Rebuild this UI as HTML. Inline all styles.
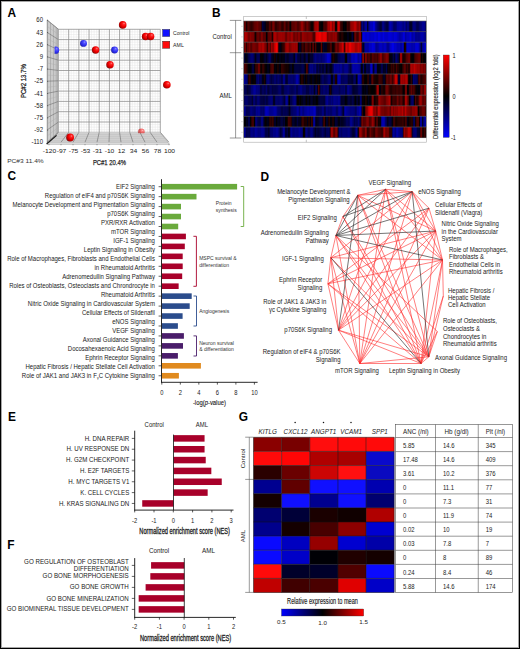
<!DOCTYPE html>
<html><head><meta charset="utf-8"><title>Figure</title>
<style>
html,body{margin:0;padding:0;background:#fff;}
body{width:520px;height:649px;overflow:hidden;position:relative;font-family:"Liberation Sans", sans-serif;}
.frame{position:absolute;left:0;top:0;width:518px;height:647px;border:1px solid #000;box-shadow:inset 0 0 0 1px rgba(0,0,0,0.35);pointer-events:none;}
</style></head><body>
<svg width="520" height="649" viewBox="0 0 520 649" style="position:absolute;left:0;top:0" font-family="'Liberation Sans', sans-serif"><defs>
<radialGradient id="gR" cx="0.62" cy="0.42" r="0.72" fx="0.68" fy="0.3"><stop offset="0" stop-color="#ff9090"/><stop offset="0.18" stop-color="#ff2a2a"/><stop offset="0.5" stop-color="#f00000"/><stop offset="0.8" stop-color="#b00000"/><stop offset="1" stop-color="#3a0000"/></radialGradient>
<radialGradient id="gB" cx="0.62" cy="0.42" r="0.72" fx="0.68" fy="0.3"><stop offset="0" stop-color="#a0a0ff"/><stop offset="0.18" stop-color="#5a5aff"/><stop offset="0.5" stop-color="#3434f4"/><stop offset="0.8" stop-color="#2020c8"/><stop offset="1" stop-color="#101068"/></radialGradient>
<radialGradient id="gP" cx="0.62" cy="0.42" r="0.72"><stop offset="0" stop-color="#ffd0d0"/><stop offset="0.4" stop-color="#f4a0a0"/><stop offset="1" stop-color="#c07070"/></radialGradient>
<filter id="hblur" x="0" y="0" width="1" height="1" color-interpolation-filters="sRGB"><feGaussianBlur stdDeviation="1 0"/></filter>
<linearGradient id="gCB" x1="0" y1="0" x2="0" y2="1"><stop offset="0" stop-color="#ff0000"/><stop offset="0.5" stop-color="#000000"/><stop offset="1" stop-color="#0000ff"/></linearGradient>
<linearGradient id="gCBh" x1="0" y1="0" x2="1" y2="0"><stop offset="0" stop-color="#0000ff"/><stop offset="0.5" stop-color="#000000"/><stop offset="1" stop-color="#ff0000"/></linearGradient>
</defs>
<text x="7.50" y="16.70" font-size="11.90" font-weight="bold" fill="#000">A</text>
<text x="211.90" y="16.50" font-size="11.90" font-weight="bold" fill="#000">B</text>
<text x="7.50" y="179.90" font-size="11.90" font-weight="bold" fill="#000">C</text>
<text x="260.40" y="180.50" font-size="11.90" font-weight="bold" fill="#000">D</text>
<text x="8.00" y="420.50" font-size="11.90" font-weight="bold" fill="#000">E</text>
<text x="7.20" y="548.50" font-size="11.90" font-weight="bold" fill="#000">F</text>
<text x="238.80" y="420.90" font-size="11.90" font-weight="bold" fill="#000">G</text>
<rect x="58.5" y="29.3" width="101.80" height="103.00" fill="#fff"/>
<line x1="61.05" y1="29.30" x2="61.05" y2="132.30" stroke="#e4e4e4" stroke-width="0.5"/>
<line x1="63.59" y1="29.30" x2="63.59" y2="132.30" stroke="#e4e4e4" stroke-width="0.5"/>
<line x1="66.14" y1="29.30" x2="66.14" y2="132.30" stroke="#e4e4e4" stroke-width="0.5"/>
<line x1="71.22" y1="29.30" x2="71.22" y2="132.30" stroke="#e4e4e4" stroke-width="0.5"/>
<line x1="73.77" y1="29.30" x2="73.77" y2="132.30" stroke="#e4e4e4" stroke-width="0.5"/>
<line x1="76.31" y1="29.30" x2="76.31" y2="132.30" stroke="#e4e4e4" stroke-width="0.5"/>
<line x1="81.41" y1="29.30" x2="81.41" y2="132.30" stroke="#e4e4e4" stroke-width="0.5"/>
<line x1="83.95" y1="29.30" x2="83.95" y2="132.30" stroke="#e4e4e4" stroke-width="0.5"/>
<line x1="86.50" y1="29.30" x2="86.50" y2="132.30" stroke="#e4e4e4" stroke-width="0.5"/>
<line x1="91.59" y1="29.30" x2="91.59" y2="132.30" stroke="#e4e4e4" stroke-width="0.5"/>
<line x1="94.13" y1="29.30" x2="94.13" y2="132.30" stroke="#e4e4e4" stroke-width="0.5"/>
<line x1="96.68" y1="29.30" x2="96.68" y2="132.30" stroke="#e4e4e4" stroke-width="0.5"/>
<line x1="101.77" y1="29.30" x2="101.77" y2="132.30" stroke="#e4e4e4" stroke-width="0.5"/>
<line x1="104.31" y1="29.30" x2="104.31" y2="132.30" stroke="#e4e4e4" stroke-width="0.5"/>
<line x1="106.86" y1="29.30" x2="106.86" y2="132.30" stroke="#e4e4e4" stroke-width="0.5"/>
<line x1="111.95" y1="29.30" x2="111.95" y2="132.30" stroke="#e4e4e4" stroke-width="0.5"/>
<line x1="114.49" y1="29.30" x2="114.49" y2="132.30" stroke="#e4e4e4" stroke-width="0.5"/>
<line x1="117.04" y1="29.30" x2="117.04" y2="132.30" stroke="#e4e4e4" stroke-width="0.5"/>
<line x1="122.12" y1="29.30" x2="122.12" y2="132.30" stroke="#e4e4e4" stroke-width="0.5"/>
<line x1="124.67" y1="29.30" x2="124.67" y2="132.30" stroke="#e4e4e4" stroke-width="0.5"/>
<line x1="127.22" y1="29.30" x2="127.22" y2="132.30" stroke="#e4e4e4" stroke-width="0.5"/>
<line x1="132.31" y1="29.30" x2="132.31" y2="132.30" stroke="#e4e4e4" stroke-width="0.5"/>
<line x1="134.85" y1="29.30" x2="134.85" y2="132.30" stroke="#e4e4e4" stroke-width="0.5"/>
<line x1="137.40" y1="29.30" x2="137.40" y2="132.30" stroke="#e4e4e4" stroke-width="0.5"/>
<line x1="142.49" y1="29.30" x2="142.49" y2="132.30" stroke="#e4e4e4" stroke-width="0.5"/>
<line x1="145.03" y1="29.30" x2="145.03" y2="132.30" stroke="#e4e4e4" stroke-width="0.5"/>
<line x1="147.58" y1="29.30" x2="147.58" y2="132.30" stroke="#e4e4e4" stroke-width="0.5"/>
<line x1="152.67" y1="29.30" x2="152.67" y2="132.30" stroke="#e4e4e4" stroke-width="0.5"/>
<line x1="155.21" y1="29.30" x2="155.21" y2="132.30" stroke="#e4e4e4" stroke-width="0.5"/>
<line x1="157.75" y1="29.30" x2="157.75" y2="132.30" stroke="#e4e4e4" stroke-width="0.5"/>
<line x1="58.50" y1="31.88" x2="160.30" y2="31.88" stroke="#e4e4e4" stroke-width="0.5"/>
<line x1="58.50" y1="34.45" x2="160.30" y2="34.45" stroke="#e4e4e4" stroke-width="0.5"/>
<line x1="58.50" y1="37.02" x2="160.30" y2="37.02" stroke="#e4e4e4" stroke-width="0.5"/>
<line x1="58.50" y1="42.17" x2="160.30" y2="42.17" stroke="#e4e4e4" stroke-width="0.5"/>
<line x1="58.50" y1="44.75" x2="160.30" y2="44.75" stroke="#e4e4e4" stroke-width="0.5"/>
<line x1="58.50" y1="47.33" x2="160.30" y2="47.33" stroke="#e4e4e4" stroke-width="0.5"/>
<line x1="58.50" y1="52.48" x2="160.30" y2="52.48" stroke="#e4e4e4" stroke-width="0.5"/>
<line x1="58.50" y1="55.05" x2="160.30" y2="55.05" stroke="#e4e4e4" stroke-width="0.5"/>
<line x1="58.50" y1="57.62" x2="160.30" y2="57.62" stroke="#e4e4e4" stroke-width="0.5"/>
<line x1="58.50" y1="62.78" x2="160.30" y2="62.78" stroke="#e4e4e4" stroke-width="0.5"/>
<line x1="58.50" y1="65.35" x2="160.30" y2="65.35" stroke="#e4e4e4" stroke-width="0.5"/>
<line x1="58.50" y1="67.92" x2="160.30" y2="67.92" stroke="#e4e4e4" stroke-width="0.5"/>
<line x1="58.50" y1="73.08" x2="160.30" y2="73.08" stroke="#e4e4e4" stroke-width="0.5"/>
<line x1="58.50" y1="75.65" x2="160.30" y2="75.65" stroke="#e4e4e4" stroke-width="0.5"/>
<line x1="58.50" y1="78.23" x2="160.30" y2="78.23" stroke="#e4e4e4" stroke-width="0.5"/>
<line x1="58.50" y1="83.38" x2="160.30" y2="83.38" stroke="#e4e4e4" stroke-width="0.5"/>
<line x1="58.50" y1="85.95" x2="160.30" y2="85.95" stroke="#e4e4e4" stroke-width="0.5"/>
<line x1="58.50" y1="88.53" x2="160.30" y2="88.53" stroke="#e4e4e4" stroke-width="0.5"/>
<line x1="58.50" y1="93.67" x2="160.30" y2="93.67" stroke="#e4e4e4" stroke-width="0.5"/>
<line x1="58.50" y1="96.25" x2="160.30" y2="96.25" stroke="#e4e4e4" stroke-width="0.5"/>
<line x1="58.50" y1="98.83" x2="160.30" y2="98.83" stroke="#e4e4e4" stroke-width="0.5"/>
<line x1="58.50" y1="103.98" x2="160.30" y2="103.98" stroke="#e4e4e4" stroke-width="0.5"/>
<line x1="58.50" y1="106.55" x2="160.30" y2="106.55" stroke="#e4e4e4" stroke-width="0.5"/>
<line x1="58.50" y1="109.12" x2="160.30" y2="109.12" stroke="#e4e4e4" stroke-width="0.5"/>
<line x1="58.50" y1="114.28" x2="160.30" y2="114.28" stroke="#e4e4e4" stroke-width="0.5"/>
<line x1="58.50" y1="116.85" x2="160.30" y2="116.85" stroke="#e4e4e4" stroke-width="0.5"/>
<line x1="58.50" y1="119.42" x2="160.30" y2="119.42" stroke="#e4e4e4" stroke-width="0.5"/>
<line x1="58.50" y1="124.58" x2="160.30" y2="124.58" stroke="#e4e4e4" stroke-width="0.5"/>
<line x1="58.50" y1="127.15" x2="160.30" y2="127.15" stroke="#e4e4e4" stroke-width="0.5"/>
<line x1="58.50" y1="129.73" x2="160.30" y2="129.73" stroke="#e4e4e4" stroke-width="0.5"/>
<line x1="58.50" y1="29.30" x2="58.50" y2="132.30" stroke="#8a8a8a" stroke-width="0.75"/>
<line x1="68.68" y1="29.30" x2="68.68" y2="132.30" stroke="#8a8a8a" stroke-width="0.75"/>
<line x1="78.86" y1="29.30" x2="78.86" y2="132.30" stroke="#8a8a8a" stroke-width="0.75"/>
<line x1="89.04" y1="29.30" x2="89.04" y2="132.30" stroke="#8a8a8a" stroke-width="0.75"/>
<line x1="99.22" y1="29.30" x2="99.22" y2="132.30" stroke="#8a8a8a" stroke-width="0.75"/>
<line x1="109.40" y1="29.30" x2="109.40" y2="132.30" stroke="#8a8a8a" stroke-width="0.75"/>
<line x1="119.58" y1="29.30" x2="119.58" y2="132.30" stroke="#8a8a8a" stroke-width="0.75"/>
<line x1="129.76" y1="29.30" x2="129.76" y2="132.30" stroke="#8a8a8a" stroke-width="0.75"/>
<line x1="139.94" y1="29.30" x2="139.94" y2="132.30" stroke="#8a8a8a" stroke-width="0.75"/>
<line x1="150.12" y1="29.30" x2="150.12" y2="132.30" stroke="#8a8a8a" stroke-width="0.75"/>
<line x1="160.30" y1="29.30" x2="160.30" y2="132.30" stroke="#8a8a8a" stroke-width="0.75"/>
<line x1="58.50" y1="29.30" x2="160.30" y2="29.30" stroke="#8a8a8a" stroke-width="0.75"/>
<line x1="58.50" y1="39.60" x2="160.30" y2="39.60" stroke="#8a8a8a" stroke-width="0.75"/>
<line x1="58.50" y1="49.90" x2="160.30" y2="49.90" stroke="#8a8a8a" stroke-width="0.75"/>
<line x1="58.50" y1="60.20" x2="160.30" y2="60.20" stroke="#8a8a8a" stroke-width="0.75"/>
<line x1="58.50" y1="70.50" x2="160.30" y2="70.50" stroke="#8a8a8a" stroke-width="0.75"/>
<line x1="58.50" y1="80.80" x2="160.30" y2="80.80" stroke="#8a8a8a" stroke-width="0.75"/>
<line x1="58.50" y1="91.10" x2="160.30" y2="91.10" stroke="#8a8a8a" stroke-width="0.75"/>
<line x1="58.50" y1="101.40" x2="160.30" y2="101.40" stroke="#8a8a8a" stroke-width="0.75"/>
<line x1="58.50" y1="111.70" x2="160.30" y2="111.70" stroke="#8a8a8a" stroke-width="0.75"/>
<line x1="58.50" y1="122.00" x2="160.30" y2="122.00" stroke="#8a8a8a" stroke-width="0.75"/>
<line x1="58.50" y1="132.30" x2="160.30" y2="132.30" stroke="#8a8a8a" stroke-width="0.75"/>
<polygon points="47.1,19.85 58.5,29.3 58.5,132.3 47.1,144.3" fill="#c6c6c6"/>
<line x1="47.56" y1="20.23" x2="47.56" y2="143.82" stroke="#9a9a9a" stroke-width="0.7"/>
<line x1="49.04" y1="21.46" x2="49.04" y2="142.26" stroke="#d8d8d8" stroke-width="0.8"/>
<line x1="50.52" y1="22.69" x2="50.52" y2="140.70" stroke="#a4a4a4" stroke-width="0.6"/>
<line x1="52.00" y1="23.91" x2="52.00" y2="139.14" stroke="#d4d4d4" stroke-width="0.8"/>
<line x1="53.48" y1="25.14" x2="53.48" y2="137.58" stroke="#a8a8a8" stroke-width="0.6"/>
<line x1="55.08" y1="26.46" x2="55.08" y2="135.90" stroke="#d0d0d0" stroke-width="0.8"/>
<line x1="56.22" y1="27.41" x2="56.22" y2="134.70" stroke="#a4a4a4" stroke-width="0.6"/>
<line x1="57.70" y1="28.64" x2="57.70" y2="133.14" stroke="#9c9c9c" stroke-width="0.7"/>
<line x1="47.10" y1="20.20" x2="58.50" y2="29.30" stroke="#707070" stroke-width="0.6"/>
<line x1="47.10" y1="26.30" x2="58.50" y2="34.45" stroke="#acacac" stroke-width="0.4"/>
<line x1="47.10" y1="32.40" x2="58.50" y2="39.60" stroke="#707070" stroke-width="0.6"/>
<line x1="47.10" y1="38.50" x2="58.50" y2="44.75" stroke="#acacac" stroke-width="0.4"/>
<line x1="47.10" y1="44.60" x2="58.50" y2="49.90" stroke="#707070" stroke-width="0.6"/>
<line x1="47.10" y1="50.70" x2="58.50" y2="55.05" stroke="#acacac" stroke-width="0.4"/>
<line x1="47.10" y1="56.80" x2="58.50" y2="60.20" stroke="#707070" stroke-width="0.6"/>
<line x1="47.10" y1="62.90" x2="58.50" y2="65.35" stroke="#acacac" stroke-width="0.4"/>
<line x1="47.10" y1="69.00" x2="58.50" y2="70.50" stroke="#707070" stroke-width="0.6"/>
<line x1="47.10" y1="75.10" x2="58.50" y2="75.65" stroke="#acacac" stroke-width="0.4"/>
<line x1="47.10" y1="81.20" x2="58.50" y2="80.80" stroke="#707070" stroke-width="0.6"/>
<line x1="47.10" y1="87.30" x2="58.50" y2="85.95" stroke="#acacac" stroke-width="0.4"/>
<line x1="47.10" y1="93.40" x2="58.50" y2="91.10" stroke="#707070" stroke-width="0.6"/>
<line x1="47.10" y1="99.50" x2="58.50" y2="96.25" stroke="#acacac" stroke-width="0.4"/>
<line x1="47.10" y1="105.60" x2="58.50" y2="101.40" stroke="#707070" stroke-width="0.6"/>
<line x1="47.10" y1="111.70" x2="58.50" y2="106.55" stroke="#acacac" stroke-width="0.4"/>
<line x1="47.10" y1="117.80" x2="58.50" y2="111.70" stroke="#707070" stroke-width="0.6"/>
<line x1="47.10" y1="123.90" x2="58.50" y2="116.85" stroke="#acacac" stroke-width="0.4"/>
<line x1="47.10" y1="130.00" x2="58.50" y2="122.00" stroke="#707070" stroke-width="0.6"/>
<line x1="47.10" y1="136.10" x2="58.50" y2="127.15" stroke="#acacac" stroke-width="0.4"/>
<line x1="47.10" y1="142.20" x2="58.50" y2="132.30" stroke="#707070" stroke-width="0.6"/>
<polyline points="47.1,144.3 47.1,19.85 58.5,29.3" fill="none" stroke="#888" stroke-width="0.5"/>
<polygon points="47.1,144.3 58.5,132.3 160.3,132.3 169.5,144.3" fill="#d4d4d4"/>
<polygon points="48.7,142.2 167.9,142.2 169.5,144.3 47.1,144.3" fill="#e2e2e2"/>
<line x1="56.62" y1="134.28" x2="161.82" y2="134.28" stroke="#b4b4b4" stroke-width="0.5"/>
<line x1="54.74" y1="136.26" x2="163.34" y2="136.26" stroke="#b4b4b4" stroke-width="0.5"/>
<line x1="52.86" y1="138.24" x2="164.85" y2="138.24" stroke="#b4b4b4" stroke-width="0.5"/>
<line x1="50.98" y1="140.22" x2="166.37" y2="140.22" stroke="#b4b4b4" stroke-width="0.5"/>
<line x1="48.00" y1="142.20" x2="168.00" y2="142.20" stroke="#9a9a9a" stroke-width="0.5"/>
<line x1="58.50" y1="132.30" x2="49.00" y2="142.20" stroke="#6a6a6a" stroke-width="0.6"/>
<line x1="68.68" y1="132.30" x2="61.00" y2="142.20" stroke="#6a6a6a" stroke-width="0.6"/>
<line x1="78.86" y1="132.30" x2="73.00" y2="142.20" stroke="#6a6a6a" stroke-width="0.6"/>
<line x1="89.04" y1="132.30" x2="85.00" y2="142.20" stroke="#6a6a6a" stroke-width="0.6"/>
<line x1="99.22" y1="132.30" x2="97.00" y2="142.20" stroke="#6a6a6a" stroke-width="0.6"/>
<line x1="109.40" y1="132.30" x2="109.00" y2="142.20" stroke="#6a6a6a" stroke-width="0.6"/>
<line x1="119.58" y1="132.30" x2="121.00" y2="142.20" stroke="#6a6a6a" stroke-width="0.6"/>
<line x1="129.76" y1="132.30" x2="133.00" y2="142.20" stroke="#6a6a6a" stroke-width="0.6"/>
<line x1="139.94" y1="132.30" x2="145.00" y2="142.20" stroke="#6a6a6a" stroke-width="0.6"/>
<line x1="150.12" y1="132.30" x2="157.00" y2="142.20" stroke="#6a6a6a" stroke-width="0.6"/>
<line x1="160.30" y1="132.30" x2="169.00" y2="142.20" stroke="#6a6a6a" stroke-width="0.6"/>
<polyline points="160.3,132.3 169.5,144.3 47.1,144.3" fill="none" stroke="#999" stroke-width="0.5"/>
<line x1="46.60" y1="144.00" x2="56.60" y2="135.40" stroke="#1a1a1a" stroke-width="1.2"/>
<line x1="49.00" y1="144.30" x2="49.00" y2="145.20" stroke="#444" stroke-width="0.6"/>
<line x1="61.00" y1="144.30" x2="61.00" y2="145.20" stroke="#444" stroke-width="0.6"/>
<line x1="73.00" y1="144.30" x2="73.00" y2="145.20" stroke="#444" stroke-width="0.6"/>
<line x1="85.00" y1="144.30" x2="85.00" y2="145.20" stroke="#444" stroke-width="0.6"/>
<line x1="97.00" y1="144.30" x2="97.00" y2="145.20" stroke="#444" stroke-width="0.6"/>
<line x1="109.00" y1="144.30" x2="109.00" y2="145.20" stroke="#444" stroke-width="0.6"/>
<line x1="121.00" y1="144.30" x2="121.00" y2="145.20" stroke="#444" stroke-width="0.6"/>
<line x1="133.00" y1="144.30" x2="133.00" y2="145.20" stroke="#444" stroke-width="0.6"/>
<line x1="145.00" y1="144.30" x2="145.00" y2="145.20" stroke="#444" stroke-width="0.6"/>
<line x1="157.00" y1="144.30" x2="157.00" y2="145.20" stroke="#444" stroke-width="0.6"/>
<line x1="169.00" y1="144.30" x2="169.00" y2="145.20" stroke="#444" stroke-width="0.6"/>
<line x1="47.10" y1="20.20" x2="48.10" y2="20.50" stroke="#444" stroke-width="0.7"/>
<line x1="47.10" y1="32.40" x2="48.10" y2="32.70" stroke="#444" stroke-width="0.7"/>
<line x1="47.10" y1="44.60" x2="48.10" y2="44.90" stroke="#444" stroke-width="0.7"/>
<line x1="47.10" y1="56.80" x2="48.10" y2="57.10" stroke="#444" stroke-width="0.7"/>
<line x1="47.10" y1="69.00" x2="48.10" y2="69.30" stroke="#444" stroke-width="0.7"/>
<line x1="47.10" y1="81.20" x2="48.10" y2="81.50" stroke="#444" stroke-width="0.7"/>
<line x1="47.10" y1="93.40" x2="48.10" y2="93.70" stroke="#444" stroke-width="0.7"/>
<line x1="47.10" y1="105.60" x2="48.10" y2="105.90" stroke="#444" stroke-width="0.7"/>
<line x1="47.10" y1="117.80" x2="48.10" y2="118.10" stroke="#444" stroke-width="0.7"/>
<line x1="47.10" y1="130.00" x2="48.10" y2="130.30" stroke="#444" stroke-width="0.7"/>
<line x1="47.10" y1="142.20" x2="48.10" y2="142.50" stroke="#444" stroke-width="0.7"/>
<text x="43.00" y="22.35" font-size="6.72" text-anchor="end" textLength="6.67" lengthAdjust="spacingAndGlyphs" fill="#1a1a1a">60</text>
<text x="43.00" y="34.55" font-size="6.72" text-anchor="end" textLength="6.67" lengthAdjust="spacingAndGlyphs" fill="#1a1a1a">43</text>
<text x="43.00" y="46.75" font-size="6.72" text-anchor="end" textLength="6.67" lengthAdjust="spacingAndGlyphs" fill="#1a1a1a">26</text>
<text x="43.00" y="58.95" font-size="6.72" text-anchor="end" textLength="3.34" lengthAdjust="spacingAndGlyphs" fill="#1a1a1a">9</text>
<text x="43.00" y="71.15" font-size="6.72" text-anchor="end" textLength="5.33" lengthAdjust="spacingAndGlyphs" fill="#1a1a1a">-7</text>
<text x="43.00" y="83.35" font-size="6.72" text-anchor="end" textLength="8.67" lengthAdjust="spacingAndGlyphs" fill="#1a1a1a">-25</text>
<text x="43.00" y="95.55" font-size="6.72" text-anchor="end" textLength="8.67" lengthAdjust="spacingAndGlyphs" fill="#1a1a1a">-41</text>
<text x="43.00" y="107.75" font-size="6.72" text-anchor="end" textLength="8.67" lengthAdjust="spacingAndGlyphs" fill="#1a1a1a">-58</text>
<text x="43.00" y="119.95" font-size="6.72" text-anchor="end" textLength="8.67" lengthAdjust="spacingAndGlyphs" fill="#1a1a1a">-75</text>
<text x="43.00" y="132.15" font-size="6.72" text-anchor="end" textLength="8.67" lengthAdjust="spacingAndGlyphs" fill="#1a1a1a">-92</text>
<text x="43.00" y="144.35" font-size="6.72" text-anchor="end" textLength="11.56" lengthAdjust="spacingAndGlyphs" fill="#1a1a1a">-110</text>
<text x="49.50" y="153.10" font-size="5.70" text-anchor="middle" textLength="13.41" lengthAdjust="spacingAndGlyphs" fill="#1a1a1a">-120</text>
<text x="61.50" y="153.10" font-size="5.70" text-anchor="middle" textLength="9.68" lengthAdjust="spacingAndGlyphs" fill="#1a1a1a">-97</text>
<text x="73.50" y="153.10" font-size="5.70" text-anchor="middle" textLength="9.68" lengthAdjust="spacingAndGlyphs" fill="#1a1a1a">-75</text>
<text x="85.50" y="153.10" font-size="5.70" text-anchor="middle" textLength="9.68" lengthAdjust="spacingAndGlyphs" fill="#1a1a1a">-53</text>
<text x="97.50" y="153.10" font-size="5.70" text-anchor="middle" textLength="9.68" lengthAdjust="spacingAndGlyphs" fill="#1a1a1a">-31</text>
<text x="109.50" y="153.10" font-size="5.70" text-anchor="middle" textLength="9.68" lengthAdjust="spacingAndGlyphs" fill="#1a1a1a">-10</text>
<text x="121.50" y="153.10" font-size="5.70" text-anchor="middle" textLength="7.45" lengthAdjust="spacingAndGlyphs" fill="#1a1a1a">12</text>
<text x="133.50" y="153.10" font-size="5.70" text-anchor="middle" textLength="7.45" lengthAdjust="spacingAndGlyphs" fill="#1a1a1a">34</text>
<text x="145.50" y="153.10" font-size="5.70" text-anchor="middle" textLength="7.45" lengthAdjust="spacingAndGlyphs" fill="#1a1a1a">56</text>
<text x="157.50" y="153.10" font-size="5.70" text-anchor="middle" textLength="7.45" lengthAdjust="spacingAndGlyphs" fill="#1a1a1a">78</text>
<text x="169.50" y="153.10" font-size="5.70" text-anchor="middle" textLength="11.18" lengthAdjust="spacingAndGlyphs" fill="#1a1a1a">100</text>
<text x="92.90" y="164.90" font-size="8.00" textLength="33.00" lengthAdjust="spacingAndGlyphs" fill="#1a1a1a" stroke="#1a1a1a" stroke-width="0.25">PC#1 20.4%</text>
<text x="7.20" y="163.30" font-size="6.00" textLength="36.50" lengthAdjust="spacingAndGlyphs" fill="#333">PC#3 11.4%</text>
<text x="0" y="0" font-size="8" fill="#1a1a1a" stroke="#1a1a1a" stroke-width="0.25" transform="translate(25.9,98.1) rotate(-90) scale(0.7570,1)">PC#2 13.7%</text>
<rect x="162.6" y="29.4" width="7.2" height="7.1" fill="#1010ff" stroke="#222" stroke-width="0.4"/>
<rect x="162.6" y="41.2" width="7.2" height="7.1" fill="#ff0a0a" stroke="#222" stroke-width="0.4"/>
<text x="173.10" y="34.80" font-size="5.82" textLength="16.40" lengthAdjust="spacingAndGlyphs" fill="#222">Control</text>
<text x="173.10" y="46.90" font-size="5.82" textLength="10.69" lengthAdjust="spacingAndGlyphs" fill="#222">AML</text>
<circle cx="83.5" cy="43.4" r="3.45" fill="url(#gB)" opacity="1.0"/>
<circle cx="114.55" cy="50.05" r="3.45" fill="url(#gB)" opacity="1.0"/>
<circle cx="95.6" cy="50.0" r="3.7" fill="url(#gR)" opacity="1.0"/>
<circle cx="110.0" cy="64.65" r="3.75" fill="url(#gR)" opacity="1.0"/>
<circle cx="122.7" cy="24.9" r="3.8" fill="url(#gR)" opacity="1.0"/>
<circle cx="145.6" cy="36.5" r="3.75" fill="url(#gR)" opacity="1.0"/>
<circle cx="150.6" cy="36.4" r="3.75" fill="url(#gR)" opacity="1.0"/>
<circle cx="166.85" cy="84.75" r="3.8" fill="url(#gR)" opacity="1.0"/>
<circle cx="70.1" cy="137.5" r="3.9" fill="url(#gR)" opacity="1.0"/>
<clipPath id="cpf"><rect x="130" y="120" width="20" height="13.2"/></clipPath>
<circle cx="141.3" cy="131.8" r="3.4" fill="url(#gR)" opacity="0.55" clip-path="url(#cpf)"/>
<clipPath id="cpw"><rect x="54.6" y="40" width="10" height="20"/></clipPath>
<circle cx="55.5" cy="50.15" r="3.65" fill="url(#gB)" clip-path="url(#cpw)"/>
<rect x="243.70" y="16.5" width="182.60" height="125.7" fill="#fff" stroke="#aaa" stroke-width="0.6"/>
<line x1="306.30" y1="16.50" x2="306.30" y2="19.00" stroke="#888" stroke-width="0.5"/>
<line x1="306.30" y1="139.70" x2="306.30" y2="142.20" stroke="#888" stroke-width="0.5"/>
<rect x="243.70" y="21.00" width="182.60" height="116.60" fill="#000"/>
<g shape-rendering="crispEdges">
<rect x="243.7" y="21.00" width="0.3" height="10.60" fill="#010000"/>
<rect x="244.0" y="21.00" width="2.0" height="10.60" fill="#5c0000"/>
<rect x="246.0" y="21.00" width="1.0" height="10.60" fill="#170000"/>
<rect x="247.0" y="21.00" width="1.0" height="10.60" fill="#3d0000"/>
<rect x="248.0" y="21.00" width="1.0" height="10.60" fill="#4f0000"/>
<rect x="249.0" y="21.00" width="1.0" height="10.60" fill="#3f0000"/>
<rect x="250.0" y="21.00" width="1.0" height="10.60" fill="#350000"/>
<rect x="251.0" y="21.00" width="1.0" height="10.60" fill="#2e0000"/>
<rect x="252.0" y="21.00" width="1.0" height="10.60" fill="#380000"/>
<rect x="253.0" y="21.00" width="1.0" height="10.60" fill="#490000"/>
<rect x="254.0" y="21.00" width="1.0" height="10.60" fill="#5d0000"/>
<rect x="255.0" y="21.00" width="1.0" height="10.60" fill="#630000"/>
<rect x="256.0" y="21.00" width="1.0" height="10.60" fill="#690000"/>
<rect x="257.0" y="21.00" width="1.0" height="10.60" fill="#720000"/>
<rect x="258.0" y="21.00" width="1.0" height="10.60" fill="#610000"/>
<rect x="259.0" y="21.00" width="1.0" height="10.60" fill="#580000"/>
<rect x="260.0" y="21.00" width="1.0" height="10.60" fill="#530000"/>
<rect x="261.0" y="21.00" width="1.0" height="10.60" fill="#280000"/>
<rect x="262.0" y="21.00" width="1.0" height="10.60" fill="#000041"/>
<rect x="263.0" y="21.00" width="1.0" height="10.60" fill="#000031"/>
<rect x="264.0" y="21.00" width="1.0" height="10.60" fill="#000026"/>
<rect x="265.0" y="21.00" width="1.0" height="10.60" fill="#000015"/>
<rect x="266.0" y="21.00" width="1.0" height="10.60" fill="#1f0000"/>
<rect x="267.0" y="21.00" width="1.0" height="10.60" fill="#1d0000"/>
<rect x="268.0" y="21.00" width="1.0" height="10.60" fill="#240000"/>
<rect x="269.0" y="21.00" width="1.0" height="10.60" fill="#500000"/>
<rect x="270.0" y="21.00" width="1.0" height="10.60" fill="#4c0000"/>
<rect x="271.0" y="21.00" width="1.0" height="10.60" fill="#2f0000"/>
<rect x="272.0" y="21.00" width="1.0" height="10.60" fill="#640000"/>
<rect x="273.0" y="21.00" width="1.0" height="10.60" fill="#770000"/>
<rect x="274.0" y="21.00" width="1.0" height="10.60" fill="#5b0000"/>
<rect x="275.0" y="21.00" width="2.0" height="10.60" fill="#2f0000"/>
<rect x="277.0" y="21.00" width="1.0" height="10.60" fill="#400000"/>
<rect x="278.0" y="21.00" width="1.0" height="10.60" fill="#450000"/>
<rect x="279.0" y="21.00" width="1.0" height="10.60" fill="#550000"/>
<rect x="280.0" y="21.00" width="1.0" height="10.60" fill="#520000"/>
<rect x="281.0" y="21.00" width="1.0" height="10.60" fill="#360000"/>
<rect x="282.0" y="21.00" width="1.0" height="10.60" fill="#2c0000"/>
<rect x="283.0" y="21.00" width="1.0" height="10.60" fill="#3a0000"/>
<rect x="284.0" y="21.00" width="1.0" height="10.60" fill="#600000"/>
<rect x="285.0" y="21.00" width="1.0" height="10.60" fill="#4b0000"/>
<rect x="286.0" y="21.00" width="1.0" height="10.60" fill="#2c0000"/>
<rect x="287.0" y="21.00" width="1.0" height="10.60" fill="#370000"/>
<rect x="288.0" y="21.00" width="1.0" height="10.60" fill="#4c0000"/>
<rect x="289.0" y="21.00" width="1.0" height="10.60" fill="#250000"/>
<rect x="290.0" y="21.00" width="1.0" height="10.60" fill="#050000"/>
<rect x="291.0" y="21.00" width="1.0" height="10.60" fill="#440000"/>
<rect x="292.0" y="21.00" width="2.0" height="10.60" fill="#5a0000"/>
<rect x="294.0" y="21.00" width="1.0" height="10.60" fill="#5e0000"/>
<rect x="295.0" y="21.00" width="1.0" height="10.60" fill="#680000"/>
<rect x="296.0" y="21.00" width="1.0" height="10.60" fill="#630000"/>
<rect x="297.0" y="21.00" width="1.0" height="10.60" fill="#4b0000"/>
<rect x="298.0" y="21.00" width="1.0" height="10.60" fill="#490000"/>
<rect x="299.0" y="21.00" width="1.0" height="10.60" fill="#5a0000"/>
<rect x="300.0" y="21.00" width="1.0" height="10.60" fill="#6d0000"/>
<rect x="301.0" y="21.00" width="1.0" height="10.60" fill="#940000"/>
<rect x="302.0" y="21.00" width="1.0" height="10.60" fill="#960000"/>
<rect x="303.0" y="21.00" width="1.0" height="10.60" fill="#750000"/>
<rect x="304.0" y="21.00" width="1.0" height="10.60" fill="#5d0000"/>
<rect x="305.0" y="21.00" width="1.0" height="10.60" fill="#430000"/>
<rect x="306.0" y="21.00" width="1.0" height="10.60" fill="#5d0000"/>
<rect x="307.0" y="21.00" width="1.0" height="10.60" fill="#6b0000"/>
<rect x="308.0" y="21.00" width="1.0" height="10.60" fill="#520000"/>
<rect x="309.0" y="21.00" width="1.0" height="10.60" fill="#3f0000"/>
<rect x="310.0" y="21.00" width="1.0" height="10.60" fill="#210000"/>
<rect x="311.0" y="21.00" width="1.0" height="10.60" fill="#0b0000"/>
<rect x="312.0" y="21.00" width="1.0" height="10.60" fill="#0c0000"/>
<rect x="313.0" y="21.00" width="1.0" height="10.60" fill="#350000"/>
<rect x="314.0" y="21.00" width="1.0" height="10.60" fill="#820000"/>
<rect x="315.0" y="21.00" width="1.0" height="10.60" fill="#9d0000"/>
<rect x="316.0" y="21.00" width="1.0" height="10.60" fill="#a00000"/>
<rect x="317.0" y="21.00" width="1.0" height="10.60" fill="#b00000"/>
<rect x="318.0" y="21.00" width="1.0" height="10.60" fill="#8a0000"/>
<rect x="319.0" y="21.00" width="1.0" height="10.60" fill="#160000"/>
<rect x="320.0" y="21.00" width="1.0" height="10.60" fill="#0a0000"/>
<rect x="321.0" y="21.00" width="1.0" height="10.60" fill="#000004"/>
<rect x="322.0" y="21.00" width="1.0" height="10.60" fill="#030000"/>
<rect x="323.0" y="21.00" width="1.0" height="10.60" fill="#380000"/>
<rect x="324.0" y="21.00" width="1.0" height="10.60" fill="#490000"/>
<rect x="325.0" y="21.00" width="1.0" height="10.60" fill="#450000"/>
<rect x="326.0" y="21.00" width="1.0" height="10.60" fill="#520000"/>
<rect x="327.0" y="21.00" width="1.0" height="10.60" fill="#850000"/>
<rect x="328.0" y="21.00" width="1.0" height="10.60" fill="#a50000"/>
<rect x="329.0" y="21.00" width="1.0" height="10.60" fill="#a20000"/>
<rect x="330.0" y="21.00" width="1.0" height="10.60" fill="#c70000"/>
<rect x="331.0" y="21.00" width="1.0" height="10.60" fill="#bd0000"/>
<rect x="332.0" y="21.00" width="1.0" height="10.60" fill="#850000"/>
<rect x="333.0" y="21.00" width="1.0" height="10.60" fill="#a60000"/>
<rect x="334.0" y="21.00" width="1.0" height="10.60" fill="#8f0000"/>
<rect x="335.0" y="21.00" width="2.0" height="10.60" fill="#100000"/>
<rect x="337.0" y="21.00" width="1.0" height="10.60" fill="#930000"/>
<rect x="338.0" y="21.00" width="1.0" height="10.60" fill="#cf0000"/>
<rect x="339.0" y="21.00" width="1.0" height="10.60" fill="#b00000"/>
<rect x="340.0" y="21.00" width="1.0" height="10.60" fill="#450000"/>
<rect x="341.0" y="21.00" width="1.0" height="10.60" fill="#2f0000"/>
<rect x="342.0" y="21.00" width="1.0" height="10.60" fill="#240000"/>
<rect x="343.0" y="21.00" width="1.0" height="10.60" fill="#000001"/>
<rect x="344.0" y="21.00" width="1.0" height="10.60" fill="#000009"/>
<rect x="345.0" y="21.00" width="1.0" height="10.60" fill="#000000"/>
<rect x="346.0" y="21.00" width="1.0" height="10.60" fill="#150000"/>
<rect x="347.0" y="21.00" width="1.0" height="10.60" fill="#3d0000"/>
<rect x="348.0" y="21.00" width="1.0" height="10.60" fill="#300000"/>
<rect x="349.0" y="21.00" width="1.0" height="10.60" fill="#3b0000"/>
<rect x="350.0" y="21.00" width="1.0" height="10.60" fill="#7c0000"/>
<rect x="351.0" y="21.00" width="1.0" height="10.60" fill="#940000"/>
<rect x="352.0" y="21.00" width="1.0" height="10.60" fill="#9a0000"/>
<rect x="353.0" y="21.00" width="1.0" height="10.60" fill="#a30000"/>
<rect x="354.0" y="21.00" width="1.0" height="10.60" fill="#bb0000"/>
<rect x="355.0" y="21.00" width="1.0" height="10.60" fill="#bc0000"/>
<rect x="356.0" y="21.00" width="1.0" height="10.60" fill="#9f0000"/>
<rect x="357.0" y="21.00" width="1.0" height="10.60" fill="#810000"/>
<rect x="358.0" y="21.00" width="1.0" height="10.60" fill="#820000"/>
<rect x="359.0" y="21.00" width="1.0" height="10.60" fill="#9b0000"/>
<rect x="360.0" y="21.00" width="1.0" height="10.60" fill="#650000"/>
<rect x="361.0" y="21.00" width="1.0" height="10.60" fill="#000054"/>
<rect x="362.0" y="21.00" width="1.0" height="10.60" fill="#00007f"/>
<rect x="363.0" y="21.00" width="1.0" height="10.60" fill="#000056"/>
<rect x="364.0" y="21.00" width="1.0" height="10.60" fill="#000074"/>
<rect x="365.0" y="21.00" width="1.0" height="10.60" fill="#000097"/>
<rect x="366.0" y="21.00" width="1.0" height="10.60" fill="#000098"/>
<rect x="367.0" y="21.00" width="1.0" height="10.60" fill="#000026"/>
<rect x="368.0" y="21.00" width="1.0" height="10.60" fill="#000068"/>
<rect x="369.0" y="21.00" width="1.0" height="10.60" fill="#00009b"/>
<rect x="370.0" y="21.00" width="1.0" height="10.60" fill="#0000b6"/>
<rect x="371.0" y="21.00" width="2.0" height="10.60" fill="#0000bb"/>
<rect x="373.0" y="21.00" width="1.0" height="10.60" fill="#0000db"/>
<rect x="374.0" y="21.00" width="1.0" height="10.60" fill="#0000d3"/>
<rect x="375.0" y="21.00" width="1.0" height="10.60" fill="#00009a"/>
<rect x="376.0" y="21.00" width="1.0" height="10.60" fill="#00007f"/>
<rect x="377.0" y="21.00" width="1.0" height="10.60" fill="#000067"/>
<rect x="378.0" y="21.00" width="1.0" height="10.60" fill="#000057"/>
<rect x="379.0" y="21.00" width="1.0" height="10.60" fill="#000043"/>
<rect x="380.0" y="21.00" width="1.0" height="10.60" fill="#000033"/>
<rect x="381.0" y="21.00" width="1.0" height="10.60" fill="#000042"/>
<rect x="382.0" y="21.00" width="1.0" height="10.60" fill="#00007b"/>
<rect x="383.0" y="21.00" width="1.0" height="10.60" fill="#000085"/>
<rect x="384.0" y="21.00" width="1.0" height="10.60" fill="#000067"/>
<rect x="385.0" y="21.00" width="1.0" height="10.60" fill="#000053"/>
<rect x="386.0" y="21.00" width="1.0" height="10.60" fill="#00003e"/>
<rect x="387.0" y="21.00" width="1.0" height="10.60" fill="#00003c"/>
<rect x="388.0" y="21.00" width="1.0" height="10.60" fill="#000061"/>
<rect x="389.0" y="21.00" width="1.0" height="10.60" fill="#0000a2"/>
<rect x="390.0" y="21.00" width="1.0" height="10.60" fill="#0000b0"/>
<rect x="391.0" y="21.00" width="1.0" height="10.60" fill="#00009f"/>
<rect x="392.0" y="21.00" width="1.0" height="10.60" fill="#00008d"/>
<rect x="393.0" y="21.00" width="1.0" height="10.60" fill="#00006a"/>
<rect x="394.0" y="21.00" width="1.0" height="10.60" fill="#000060"/>
<rect x="395.0" y="21.00" width="1.0" height="10.60" fill="#000066"/>
<rect x="396.0" y="21.00" width="1.0" height="10.60" fill="#000075"/>
<rect x="397.0" y="21.00" width="1.0" height="10.60" fill="#000098"/>
<rect x="398.0" y="21.00" width="1.0" height="10.60" fill="#000099"/>
<rect x="399.0" y="21.00" width="1.0" height="10.60" fill="#0000a0"/>
<rect x="400.0" y="21.00" width="1.0" height="10.60" fill="#00009b"/>
<rect x="401.0" y="21.00" width="1.0" height="10.60" fill="#000095"/>
<rect x="402.0" y="21.00" width="1.0" height="10.60" fill="#000088"/>
<rect x="403.0" y="21.00" width="1.0" height="10.60" fill="#00007f"/>
<rect x="404.0" y="21.00" width="1.0" height="10.60" fill="#000097"/>
<rect x="405.0" y="21.00" width="1.0" height="10.60" fill="#000082"/>
<rect x="406.0" y="21.00" width="1.0" height="10.60" fill="#000062"/>
<rect x="407.0" y="21.00" width="1.0" height="10.60" fill="#000080"/>
<rect x="408.0" y="21.00" width="1.0" height="10.60" fill="#00007a"/>
<rect x="409.0" y="21.00" width="1.0" height="10.60" fill="#00003c"/>
<rect x="410.0" y="21.00" width="1.0" height="10.60" fill="#000023"/>
<rect x="411.0" y="21.00" width="1.0" height="10.60" fill="#000026"/>
<rect x="412.0" y="21.00" width="1.0" height="10.60" fill="#000059"/>
<rect x="413.0" y="21.00" width="1.0" height="10.60" fill="#00007d"/>
<rect x="414.0" y="21.00" width="1.0" height="10.60" fill="#00007e"/>
<rect x="415.0" y="21.00" width="1.0" height="10.60" fill="#000072"/>
<rect x="416.0" y="21.00" width="1.0" height="10.60" fill="#000052"/>
<rect x="417.0" y="21.00" width="1.0" height="10.60" fill="#00004b"/>
<rect x="418.0" y="21.00" width="1.0" height="10.60" fill="#000050"/>
<rect x="419.0" y="21.00" width="1.0" height="10.60" fill="#000069"/>
<rect x="420.0" y="21.00" width="1.0" height="10.60" fill="#000073"/>
<rect x="421.0" y="21.00" width="1.0" height="10.60" fill="#00007b"/>
<rect x="422.0" y="21.00" width="1.0" height="10.60" fill="#000090"/>
<rect x="423.0" y="21.00" width="1.0" height="10.60" fill="#000094"/>
<rect x="424.0" y="21.00" width="1.0" height="10.60" fill="#00008e"/>
<rect x="425.0" y="21.00" width="1.0" height="10.60" fill="#000064"/>
<rect x="426.0" y="21.00" width="0.3" height="10.60" fill="#140000"/>
<rect x="243.7" y="31.60" width="0.3" height="10.60" fill="#7b0000"/>
<rect x="244.0" y="31.60" width="1.0" height="10.60" fill="#8e0000"/>
<rect x="245.0" y="31.60" width="1.0" height="10.60" fill="#b00000"/>
<rect x="246.0" y="31.60" width="1.0" height="10.60" fill="#a40000"/>
<rect x="247.0" y="31.60" width="1.0" height="10.60" fill="#900000"/>
<rect x="248.0" y="31.60" width="1.0" height="10.60" fill="#740000"/>
<rect x="249.0" y="31.60" width="1.0" height="10.60" fill="#750000"/>
<rect x="250.0" y="31.60" width="1.0" height="10.60" fill="#890000"/>
<rect x="251.0" y="31.60" width="1.0" height="10.60" fill="#7d0000"/>
<rect x="252.0" y="31.60" width="1.0" height="10.60" fill="#7a0000"/>
<rect x="253.0" y="31.60" width="1.0" height="10.60" fill="#750000"/>
<rect x="254.0" y="31.60" width="1.0" height="10.60" fill="#460000"/>
<rect x="255.0" y="31.60" width="1.0" height="10.60" fill="#110000"/>
<rect x="256.0" y="31.60" width="1.0" height="10.60" fill="#460000"/>
<rect x="257.0" y="31.60" width="1.0" height="10.60" fill="#630000"/>
<rect x="258.0" y="31.60" width="1.0" height="10.60" fill="#670000"/>
<rect x="259.0" y="31.60" width="1.0" height="10.60" fill="#540000"/>
<rect x="260.0" y="31.60" width="1.0" height="10.60" fill="#5a0000"/>
<rect x="261.0" y="31.60" width="1.0" height="10.60" fill="#7d0000"/>
<rect x="262.0" y="31.60" width="1.0" height="10.60" fill="#750000"/>
<rect x="263.0" y="31.60" width="1.0" height="10.60" fill="#570000"/>
<rect x="264.0" y="31.60" width="1.0" height="10.60" fill="#590000"/>
<rect x="265.0" y="31.60" width="1.0" height="10.60" fill="#500000"/>
<rect x="266.0" y="31.60" width="1.0" height="10.60" fill="#000004"/>
<rect x="267.0" y="31.60" width="1.0" height="10.60" fill="#2a0000"/>
<rect x="268.0" y="31.60" width="1.0" height="10.60" fill="#5a0000"/>
<rect x="269.0" y="31.60" width="1.0" height="10.60" fill="#5e0000"/>
<rect x="270.0" y="31.60" width="1.0" height="10.60" fill="#690000"/>
<rect x="271.0" y="31.60" width="1.0" height="10.60" fill="#4e0000"/>
<rect x="272.0" y="31.60" width="1.0" height="10.60" fill="#1b0000"/>
<rect x="273.0" y="31.60" width="1.0" height="10.60" fill="#7f0000"/>
<rect x="274.0" y="31.60" width="1.0" height="10.60" fill="#ac0000"/>
<rect x="275.0" y="31.60" width="1.0" height="10.60" fill="#a90000"/>
<rect x="276.0" y="31.60" width="1.0" height="10.60" fill="#940000"/>
<rect x="277.0" y="31.60" width="1.0" height="10.60" fill="#850000"/>
<rect x="278.0" y="31.60" width="1.0" height="10.60" fill="#960000"/>
<rect x="279.0" y="31.60" width="1.0" height="10.60" fill="#9c0000"/>
<rect x="280.0" y="31.60" width="1.0" height="10.60" fill="#9b0000"/>
<rect x="281.0" y="31.60" width="1.0" height="10.60" fill="#9e0000"/>
<rect x="282.0" y="31.60" width="1.0" height="10.60" fill="#970000"/>
<rect x="283.0" y="31.60" width="1.0" height="10.60" fill="#990000"/>
<rect x="284.0" y="31.60" width="1.0" height="10.60" fill="#910000"/>
<rect x="285.0" y="31.60" width="1.0" height="10.60" fill="#6e0000"/>
<rect x="286.0" y="31.60" width="1.0" height="10.60" fill="#670000"/>
<rect x="287.0" y="31.60" width="1.0" height="10.60" fill="#8a0000"/>
<rect x="288.0" y="31.60" width="1.0" height="10.60" fill="#930000"/>
<rect x="289.0" y="31.60" width="1.0" height="10.60" fill="#860000"/>
<rect x="290.0" y="31.60" width="1.0" height="10.60" fill="#8a0000"/>
<rect x="291.0" y="31.60" width="1.0" height="10.60" fill="#a10000"/>
<rect x="292.0" y="31.60" width="1.0" height="10.60" fill="#9c0000"/>
<rect x="293.0" y="31.60" width="1.0" height="10.60" fill="#740000"/>
<rect x="294.0" y="31.60" width="1.0" height="10.60" fill="#6c0000"/>
<rect x="295.0" y="31.60" width="1.0" height="10.60" fill="#7f0000"/>
<rect x="296.0" y="31.60" width="1.0" height="10.60" fill="#7c0000"/>
<rect x="297.0" y="31.60" width="1.0" height="10.60" fill="#6d0000"/>
<rect x="298.0" y="31.60" width="1.0" height="10.60" fill="#880000"/>
<rect x="299.0" y="31.60" width="1.0" height="10.60" fill="#870000"/>
<rect x="300.0" y="31.60" width="1.0" height="10.60" fill="#5f0000"/>
<rect x="301.0" y="31.60" width="1.0" height="10.60" fill="#650000"/>
<rect x="302.0" y="31.60" width="1.0" height="10.60" fill="#980000"/>
<rect x="303.0" y="31.60" width="1.0" height="10.60" fill="#960000"/>
<rect x="304.0" y="31.60" width="1.0" height="10.60" fill="#8c0000"/>
<rect x="305.0" y="31.60" width="1.0" height="10.60" fill="#890000"/>
<rect x="306.0" y="31.60" width="1.0" height="10.60" fill="#840000"/>
<rect x="307.0" y="31.60" width="1.0" height="10.60" fill="#7e0000"/>
<rect x="308.0" y="31.60" width="1.0" height="10.60" fill="#840000"/>
<rect x="309.0" y="31.60" width="1.0" height="10.60" fill="#880000"/>
<rect x="310.0" y="31.60" width="1.0" height="10.60" fill="#8a0000"/>
<rect x="311.0" y="31.60" width="1.0" height="10.60" fill="#840000"/>
<rect x="312.0" y="31.60" width="1.0" height="10.60" fill="#680000"/>
<rect x="313.0" y="31.60" width="1.0" height="10.60" fill="#4a0000"/>
<rect x="314.0" y="31.60" width="1.0" height="10.60" fill="#4b0000"/>
<rect x="315.0" y="31.60" width="1.0" height="10.60" fill="#980000"/>
<rect x="316.0" y="31.60" width="1.0" height="10.60" fill="#dc0000"/>
<rect x="317.0" y="31.60" width="1.0" height="10.60" fill="#e50000"/>
<rect x="318.0" y="31.60" width="1.0" height="10.60" fill="#e60000"/>
<rect x="319.0" y="31.60" width="1.0" height="10.60" fill="#f10000"/>
<rect x="320.0" y="31.60" width="1.0" height="10.60" fill="#ee0000"/>
<rect x="321.0" y="31.60" width="1.0" height="10.60" fill="#d70000"/>
<rect x="322.0" y="31.60" width="1.0" height="10.60" fill="#d40000"/>
<rect x="323.0" y="31.60" width="1.0" height="10.60" fill="#e10000"/>
<rect x="324.0" y="31.60" width="1.0" height="10.60" fill="#e40000"/>
<rect x="325.0" y="31.60" width="1.0" height="10.60" fill="#e20000"/>
<rect x="326.0" y="31.60" width="1.0" height="10.60" fill="#c30000"/>
<rect x="327.0" y="31.60" width="1.0" height="10.60" fill="#730000"/>
<rect x="328.0" y="31.60" width="1.0" height="10.60" fill="#7e0000"/>
<rect x="329.0" y="31.60" width="1.0" height="10.60" fill="#8a0000"/>
<rect x="330.0" y="31.60" width="1.0" height="10.60" fill="#840000"/>
<rect x="331.0" y="31.60" width="1.0" height="10.60" fill="#7e0000"/>
<rect x="332.0" y="31.60" width="1.0" height="10.60" fill="#840000"/>
<rect x="333.0" y="31.60" width="1.0" height="10.60" fill="#920000"/>
<rect x="334.0" y="31.60" width="1.0" height="10.60" fill="#8a0000"/>
<rect x="335.0" y="31.60" width="1.0" height="10.60" fill="#950000"/>
<rect x="336.0" y="31.60" width="1.0" height="10.60" fill="#890000"/>
<rect x="337.0" y="31.60" width="1.0" height="10.60" fill="#4d0000"/>
<rect x="338.0" y="31.60" width="1.0" height="10.60" fill="#320000"/>
<rect x="339.0" y="31.60" width="1.0" height="10.60" fill="#190000"/>
<rect x="340.0" y="31.60" width="1.0" height="10.60" fill="#0f0000"/>
<rect x="341.0" y="31.60" width="1.0" height="10.60" fill="#210000"/>
<rect x="342.0" y="31.60" width="1.0" height="10.60" fill="#240000"/>
<rect x="343.0" y="31.60" width="1.0" height="10.60" fill="#100000"/>
<rect x="344.0" y="31.60" width="1.0" height="10.60" fill="#000003"/>
<rect x="345.0" y="31.60" width="1.0" height="10.60" fill="#020000"/>
<rect x="346.0" y="31.60" width="1.0" height="10.60" fill="#000003"/>
<rect x="347.0" y="31.60" width="1.0" height="10.60" fill="#000017"/>
<rect x="348.0" y="31.60" width="1.0" height="10.60" fill="#000016"/>
<rect x="349.0" y="31.60" width="1.0" height="10.60" fill="#000001"/>
<rect x="350.0" y="31.60" width="1.0" height="10.60" fill="#000000"/>
<rect x="351.0" y="31.60" width="1.0" height="10.60" fill="#00001b"/>
<rect x="352.0" y="31.60" width="1.0" height="10.60" fill="#00003b"/>
<rect x="353.0" y="31.60" width="1.0" height="10.60" fill="#000010"/>
<rect x="354.0" y="31.60" width="1.0" height="10.60" fill="#4e0000"/>
<rect x="355.0" y="31.60" width="1.0" height="10.60" fill="#690000"/>
<rect x="356.0" y="31.60" width="1.0" height="10.60" fill="#460000"/>
<rect x="357.0" y="31.60" width="1.0" height="10.60" fill="#3a0000"/>
<rect x="358.0" y="31.60" width="1.0" height="10.60" fill="#4e0000"/>
<rect x="359.0" y="31.60" width="1.0" height="10.60" fill="#860000"/>
<rect x="360.0" y="31.60" width="1.0" height="10.60" fill="#8b0000"/>
<rect x="361.0" y="31.60" width="1.0" height="10.60" fill="#240000"/>
<rect x="362.0" y="31.60" width="1.0" height="10.60" fill="#0000b5"/>
<rect x="363.0" y="31.60" width="1.0" height="10.60" fill="#0000e0"/>
<rect x="364.0" y="31.60" width="1.0" height="10.60" fill="#0000d6"/>
<rect x="365.0" y="31.60" width="1.0" height="10.60" fill="#0000cb"/>
<rect x="366.0" y="31.60" width="1.0" height="10.60" fill="#0000ca"/>
<rect x="367.0" y="31.60" width="1.0" height="10.60" fill="#0000d3"/>
<rect x="368.0" y="31.60" width="1.0" height="10.60" fill="#0000d2"/>
<rect x="369.0" y="31.60" width="1.0" height="10.60" fill="#0000c4"/>
<rect x="370.0" y="31.60" width="1.0" height="10.60" fill="#0000c3"/>
<rect x="371.0" y="31.60" width="2.0" height="10.60" fill="#0000ca"/>
<rect x="373.0" y="31.60" width="1.0" height="10.60" fill="#0000c7"/>
<rect x="374.0" y="31.60" width="1.0" height="10.60" fill="#0000d5"/>
<rect x="375.0" y="31.60" width="1.0" height="10.60" fill="#0000da"/>
<rect x="376.0" y="31.60" width="1.0" height="10.60" fill="#0000cf"/>
<rect x="377.0" y="31.60" width="1.0" height="10.60" fill="#0000ca"/>
<rect x="378.0" y="31.60" width="1.0" height="10.60" fill="#0000e4"/>
<rect x="379.0" y="31.60" width="1.0" height="10.60" fill="#0000e3"/>
<rect x="380.0" y="31.60" width="1.0" height="10.60" fill="#0000cf"/>
<rect x="381.0" y="31.60" width="1.0" height="10.60" fill="#0000c6"/>
<rect x="382.0" y="31.60" width="1.0" height="10.60" fill="#0000ce"/>
<rect x="383.0" y="31.60" width="1.0" height="10.60" fill="#0000df"/>
<rect x="384.0" y="31.60" width="1.0" height="10.60" fill="#0000cd"/>
<rect x="385.0" y="31.60" width="1.0" height="10.60" fill="#0000c7"/>
<rect x="386.0" y="31.60" width="1.0" height="10.60" fill="#0000c6"/>
<rect x="387.0" y="31.60" width="1.0" height="10.60" fill="#0000c7"/>
<rect x="388.0" y="31.60" width="1.0" height="10.60" fill="#0000d4"/>
<rect x="389.0" y="31.60" width="1.0" height="10.60" fill="#0000d8"/>
<rect x="390.0" y="31.60" width="1.0" height="10.60" fill="#0000d6"/>
<rect x="391.0" y="31.60" width="1.0" height="10.60" fill="#0000d0"/>
<rect x="392.0" y="31.60" width="1.0" height="10.60" fill="#0000c9"/>
<rect x="393.0" y="31.60" width="1.0" height="10.60" fill="#0000c5"/>
<rect x="394.0" y="31.60" width="1.0" height="10.60" fill="#0000d7"/>
<rect x="395.0" y="31.60" width="1.0" height="10.60" fill="#0000d4"/>
<rect x="396.0" y="31.60" width="1.0" height="10.60" fill="#0000d0"/>
<rect x="397.0" y="31.60" width="1.0" height="10.60" fill="#0000c0"/>
<rect x="398.0" y="31.60" width="1.0" height="10.60" fill="#0000b6"/>
<rect x="399.0" y="31.60" width="2.0" height="10.60" fill="#0000a3"/>
<rect x="401.0" y="31.60" width="1.0" height="10.60" fill="#0000af"/>
<rect x="402.0" y="31.60" width="1.0" height="10.60" fill="#0000bb"/>
<rect x="403.0" y="31.60" width="1.0" height="10.60" fill="#0000d7"/>
<rect x="404.0" y="31.60" width="1.0" height="10.60" fill="#0000d1"/>
<rect x="405.0" y="31.60" width="1.0" height="10.60" fill="#0000a1"/>
<rect x="406.0" y="31.60" width="1.0" height="10.60" fill="#0000b1"/>
<rect x="407.0" y="31.60" width="2.0" height="10.60" fill="#0000bb"/>
<rect x="409.0" y="31.60" width="1.0" height="10.60" fill="#0000c5"/>
<rect x="410.0" y="31.60" width="1.0" height="10.60" fill="#0000d3"/>
<rect x="411.0" y="31.60" width="1.0" height="10.60" fill="#0000b5"/>
<rect x="412.0" y="31.60" width="1.0" height="10.60" fill="#0000a1"/>
<rect x="413.0" y="31.60" width="1.0" height="10.60" fill="#0000b0"/>
<rect x="414.0" y="31.60" width="1.0" height="10.60" fill="#0000b4"/>
<rect x="415.0" y="31.60" width="1.0" height="10.60" fill="#00008d"/>
<rect x="416.0" y="31.60" width="1.0" height="10.60" fill="#00008b"/>
<rect x="417.0" y="31.60" width="1.0" height="10.60" fill="#000090"/>
<rect x="418.0" y="31.60" width="1.0" height="10.60" fill="#00008a"/>
<rect x="419.0" y="31.60" width="1.0" height="10.60" fill="#00008d"/>
<rect x="420.0" y="31.60" width="1.0" height="10.60" fill="#00009f"/>
<rect x="421.0" y="31.60" width="1.0" height="10.60" fill="#0000a9"/>
<rect x="422.0" y="31.60" width="1.0" height="10.60" fill="#0000ab"/>
<rect x="423.0" y="31.60" width="1.0" height="10.60" fill="#0000a3"/>
<rect x="424.0" y="31.60" width="1.0" height="10.60" fill="#000090"/>
<rect x="425.0" y="31.60" width="1.0" height="10.60" fill="#000080"/>
<rect x="426.0" y="31.60" width="0.3" height="10.60" fill="#000064"/>
<rect x="243.7" y="42.20" width="0.3" height="10.60" fill="#520000"/>
<rect x="244.0" y="42.20" width="1.0" height="10.60" fill="#600000"/>
<rect x="245.0" y="42.20" width="1.0" height="10.60" fill="#730000"/>
<rect x="246.0" y="42.20" width="1.0" height="10.60" fill="#2d0000"/>
<rect x="247.0" y="42.20" width="1.0" height="10.60" fill="#610000"/>
<rect x="248.0" y="42.20" width="1.0" height="10.60" fill="#640000"/>
<rect x="249.0" y="42.20" width="1.0" height="10.60" fill="#7d0000"/>
<rect x="250.0" y="42.20" width="1.0" height="10.60" fill="#5c0000"/>
<rect x="251.0" y="42.20" width="1.0" height="10.60" fill="#540000"/>
<rect x="252.0" y="42.20" width="1.0" height="10.60" fill="#700000"/>
<rect x="253.0" y="42.20" width="1.0" height="10.60" fill="#7a0000"/>
<rect x="254.0" y="42.20" width="1.0" height="10.60" fill="#780000"/>
<rect x="255.0" y="42.20" width="1.0" height="10.60" fill="#6f0000"/>
<rect x="256.0" y="42.20" width="1.0" height="10.60" fill="#670000"/>
<rect x="257.0" y="42.20" width="1.0" height="10.60" fill="#640000"/>
<rect x="258.0" y="42.20" width="1.0" height="10.60" fill="#8a0000"/>
<rect x="259.0" y="42.20" width="1.0" height="10.60" fill="#a30000"/>
<rect x="260.0" y="42.20" width="1.0" height="10.60" fill="#a10000"/>
<rect x="261.0" y="42.20" width="1.0" height="10.60" fill="#980000"/>
<rect x="262.0" y="42.20" width="2.0" height="10.60" fill="#ac0000"/>
<rect x="264.0" y="42.20" width="1.0" height="10.60" fill="#8c0000"/>
<rect x="265.0" y="42.20" width="1.0" height="10.60" fill="#790000"/>
<rect x="266.0" y="42.20" width="1.0" height="10.60" fill="#590000"/>
<rect x="267.0" y="42.20" width="1.0" height="10.60" fill="#270000"/>
<rect x="268.0" y="42.20" width="1.0" height="10.60" fill="#770000"/>
<rect x="269.0" y="42.20" width="1.0" height="10.60" fill="#780000"/>
<rect x="270.0" y="42.20" width="1.0" height="10.60" fill="#540000"/>
<rect x="271.0" y="42.20" width="1.0" height="10.60" fill="#9c0000"/>
<rect x="272.0" y="42.20" width="1.0" height="10.60" fill="#8a0000"/>
<rect x="273.0" y="42.20" width="1.0" height="10.60" fill="#890000"/>
<rect x="274.0" y="42.20" width="1.0" height="10.60" fill="#bf0000"/>
<rect x="275.0" y="42.20" width="1.0" height="10.60" fill="#da0000"/>
<rect x="276.0" y="42.20" width="1.0" height="10.60" fill="#f90000"/>
<rect x="277.0" y="42.20" width="1.0" height="10.60" fill="#d30000"/>
<rect x="278.0" y="42.20" width="1.0" height="10.60" fill="#380000"/>
<rect x="279.0" y="42.20" width="1.0" height="10.60" fill="#000016"/>
<rect x="280.0" y="42.20" width="1.0" height="10.60" fill="#000014"/>
<rect x="281.0" y="42.20" width="1.0" height="10.60" fill="#100000"/>
<rect x="282.0" y="42.20" width="1.0" height="10.60" fill="#260000"/>
<rect x="283.0" y="42.20" width="1.0" height="10.60" fill="#320000"/>
<rect x="284.0" y="42.20" width="1.0" height="10.60" fill="#470000"/>
<rect x="285.0" y="42.20" width="1.0" height="10.60" fill="#860000"/>
<rect x="286.0" y="42.20" width="1.0" height="10.60" fill="#9e0000"/>
<rect x="287.0" y="42.20" width="1.0" height="10.60" fill="#a60000"/>
<rect x="288.0" y="42.20" width="1.0" height="10.60" fill="#9a0000"/>
<rect x="289.0" y="42.20" width="1.0" height="10.60" fill="#780000"/>
<rect x="290.0" y="42.20" width="1.0" height="10.60" fill="#810000"/>
<rect x="291.0" y="42.20" width="1.0" height="10.60" fill="#8f0000"/>
<rect x="292.0" y="42.20" width="1.0" height="10.60" fill="#9b0000"/>
<rect x="293.0" y="42.20" width="1.0" height="10.60" fill="#980000"/>
<rect x="294.0" y="42.20" width="1.0" height="10.60" fill="#9d0000"/>
<rect x="295.0" y="42.20" width="1.0" height="10.60" fill="#960000"/>
<rect x="296.0" y="42.20" width="1.0" height="10.60" fill="#a00000"/>
<rect x="297.0" y="42.20" width="1.0" height="10.60" fill="#7d0000"/>
<rect x="298.0" y="42.20" width="1.0" height="10.60" fill="#040000"/>
<rect x="299.0" y="42.20" width="1.0" height="10.60" fill="#000029"/>
<rect x="300.0" y="42.20" width="1.0" height="10.60" fill="#000022"/>
<rect x="301.0" y="42.20" width="1.0" height="10.60" fill="#1f0000"/>
<rect x="302.0" y="42.20" width="1.0" height="10.60" fill="#3e0000"/>
<rect x="303.0" y="42.20" width="1.0" height="10.60" fill="#320000"/>
<rect x="304.0" y="42.20" width="1.0" height="10.60" fill="#1f0000"/>
<rect x="305.0" y="42.20" width="1.0" height="10.60" fill="#4f0000"/>
<rect x="306.0" y="42.20" width="1.0" height="10.60" fill="#4e0000"/>
<rect x="307.0" y="42.20" width="1.0" height="10.60" fill="#400000"/>
<rect x="308.0" y="42.20" width="1.0" height="10.60" fill="#310000"/>
<rect x="309.0" y="42.20" width="1.0" height="10.60" fill="#3f0000"/>
<rect x="310.0" y="42.20" width="1.0" height="10.60" fill="#530000"/>
<rect x="311.0" y="42.20" width="1.0" height="10.60" fill="#0f0000"/>
<rect x="312.0" y="42.20" width="1.0" height="10.60" fill="#420000"/>
<rect x="313.0" y="42.20" width="1.0" height="10.60" fill="#570000"/>
<rect x="314.0" y="42.20" width="1.0" height="10.60" fill="#100000"/>
<rect x="315.0" y="42.20" width="1.0" height="10.60" fill="#4d0000"/>
<rect x="316.0" y="42.20" width="1.0" height="10.60" fill="#1b0000"/>
<rect x="317.0" y="42.20" width="2.0" height="10.60" fill="#000009"/>
<rect x="319.0" y="42.20" width="1.0" height="10.60" fill="#000007"/>
<rect x="320.0" y="42.20" width="1.0" height="10.60" fill="#1b0000"/>
<rect x="321.0" y="42.20" width="1.0" height="10.60" fill="#610000"/>
<rect x="322.0" y="42.20" width="1.0" height="10.60" fill="#160000"/>
<rect x="323.0" y="42.20" width="1.0" height="10.60" fill="#000031"/>
<rect x="324.0" y="42.20" width="1.0" height="10.60" fill="#00001e"/>
<rect x="325.0" y="42.20" width="1.0" height="10.60" fill="#00001d"/>
<rect x="326.0" y="42.20" width="1.0" height="10.60" fill="#00001e"/>
<rect x="327.0" y="42.20" width="1.0" height="10.60" fill="#190000"/>
<rect x="328.0" y="42.20" width="1.0" height="10.60" fill="#1e0000"/>
<rect x="329.0" y="42.20" width="1.0" height="10.60" fill="#250000"/>
<rect x="330.0" y="42.20" width="1.0" height="10.60" fill="#4a0000"/>
<rect x="331.0" y="42.20" width="1.0" height="10.60" fill="#410000"/>
<rect x="332.0" y="42.20" width="1.0" height="10.60" fill="#090000"/>
<rect x="333.0" y="42.20" width="1.0" height="10.60" fill="#0d0000"/>
<rect x="334.0" y="42.20" width="1.0" height="10.60" fill="#250000"/>
<rect x="335.0" y="42.20" width="1.0" height="10.60" fill="#5a0000"/>
<rect x="336.0" y="42.20" width="1.0" height="10.60" fill="#710000"/>
<rect x="337.0" y="42.20" width="1.0" height="10.60" fill="#5c0000"/>
<rect x="338.0" y="42.20" width="1.0" height="10.60" fill="#610000"/>
<rect x="339.0" y="42.20" width="1.0" height="10.60" fill="#8b0000"/>
<rect x="340.0" y="42.20" width="1.0" height="10.60" fill="#990000"/>
<rect x="341.0" y="42.20" width="1.0" height="10.60" fill="#a80000"/>
<rect x="342.0" y="42.20" width="1.0" height="10.60" fill="#d00000"/>
<rect x="343.0" y="42.20" width="1.0" height="10.60" fill="#a90000"/>
<rect x="344.0" y="42.20" width="1.0" height="10.60" fill="#3b0000"/>
<rect x="345.0" y="42.20" width="1.0" height="10.60" fill="#980000"/>
<rect x="346.0" y="42.20" width="1.0" height="10.60" fill="#da0000"/>
<rect x="347.0" y="42.20" width="1.0" height="10.60" fill="#c10000"/>
<rect x="348.0" y="42.20" width="1.0" height="10.60" fill="#c20000"/>
<rect x="349.0" y="42.20" width="1.0" height="10.60" fill="#e60000"/>
<rect x="350.0" y="42.20" width="1.0" height="10.60" fill="#eb0000"/>
<rect x="351.0" y="42.20" width="1.0" height="10.60" fill="#d30000"/>
<rect x="352.0" y="42.20" width="1.0" height="10.60" fill="#ca0000"/>
<rect x="353.0" y="42.20" width="1.0" height="10.60" fill="#c70000"/>
<rect x="354.0" y="42.20" width="1.0" height="10.60" fill="#bc0000"/>
<rect x="355.0" y="42.20" width="1.0" height="10.60" fill="#a40000"/>
<rect x="356.0" y="42.20" width="1.0" height="10.60" fill="#a50000"/>
<rect x="357.0" y="42.20" width="1.0" height="10.60" fill="#b20000"/>
<rect x="358.0" y="42.20" width="1.0" height="10.60" fill="#c30000"/>
<rect x="359.0" y="42.20" width="1.0" height="10.60" fill="#b30000"/>
<rect x="360.0" y="42.20" width="1.0" height="10.60" fill="#bb0000"/>
<rect x="361.0" y="42.20" width="1.0" height="10.60" fill="#710000"/>
<rect x="362.0" y="42.20" width="1.0" height="10.60" fill="#00003b"/>
<rect x="363.0" y="42.20" width="1.0" height="10.60" fill="#00001f"/>
<rect x="364.0" y="42.20" width="1.0" height="10.60" fill="#00006b"/>
<rect x="365.0" y="42.20" width="1.0" height="10.60" fill="#00009d"/>
<rect x="366.0" y="42.20" width="1.0" height="10.60" fill="#00009f"/>
<rect x="367.0" y="42.20" width="1.0" height="10.60" fill="#000099"/>
<rect x="368.0" y="42.20" width="1.0" height="10.60" fill="#0000a2"/>
<rect x="369.0" y="42.20" width="2.0" height="10.60" fill="#0000c1"/>
<rect x="371.0" y="42.20" width="1.0" height="10.60" fill="#0000c6"/>
<rect x="372.0" y="42.20" width="1.0" height="10.60" fill="#0000da"/>
<rect x="373.0" y="42.20" width="1.0" height="10.60" fill="#0000d4"/>
<rect x="374.0" y="42.20" width="1.0" height="10.60" fill="#0000cd"/>
<rect x="375.0" y="42.20" width="1.0" height="10.60" fill="#0000a2"/>
<rect x="376.0" y="42.20" width="1.0" height="10.60" fill="#00008c"/>
<rect x="377.0" y="42.20" width="1.0" height="10.60" fill="#000094"/>
<rect x="378.0" y="42.20" width="1.0" height="10.60" fill="#0000a0"/>
<rect x="379.0" y="42.20" width="1.0" height="10.60" fill="#0000b7"/>
<rect x="380.0" y="42.20" width="1.0" height="10.60" fill="#0000bf"/>
<rect x="381.0" y="42.20" width="1.0" height="10.60" fill="#0000be"/>
<rect x="382.0" y="42.20" width="2.0" height="10.60" fill="#0000af"/>
<rect x="384.0" y="42.20" width="1.0" height="10.60" fill="#0000bf"/>
<rect x="385.0" y="42.20" width="1.0" height="10.60" fill="#0000bd"/>
<rect x="386.0" y="42.20" width="1.0" height="10.60" fill="#0000a1"/>
<rect x="387.0" y="42.20" width="1.0" height="10.60" fill="#000088"/>
<rect x="388.0" y="42.20" width="1.0" height="10.60" fill="#000089"/>
<rect x="389.0" y="42.20" width="1.0" height="10.60" fill="#0000a7"/>
<rect x="390.0" y="42.20" width="1.0" height="10.60" fill="#0000c6"/>
<rect x="391.0" y="42.20" width="1.0" height="10.60" fill="#0000d4"/>
<rect x="392.0" y="42.20" width="1.0" height="10.60" fill="#0000e8"/>
<rect x="393.0" y="42.20" width="1.0" height="10.60" fill="#0000e4"/>
<rect x="394.0" y="42.20" width="2.0" height="10.60" fill="#0000c9"/>
<rect x="396.0" y="42.20" width="1.0" height="10.60" fill="#0000be"/>
<rect x="397.0" y="42.20" width="1.0" height="10.60" fill="#0000b0"/>
<rect x="398.0" y="42.20" width="1.0" height="10.60" fill="#0000b1"/>
<rect x="399.0" y="42.20" width="1.0" height="10.60" fill="#0000b4"/>
<rect x="400.0" y="42.20" width="1.0" height="10.60" fill="#00009f"/>
<rect x="401.0" y="42.20" width="1.0" height="10.60" fill="#00009e"/>
<rect x="402.0" y="42.20" width="1.0" height="10.60" fill="#0000bd"/>
<rect x="403.0" y="42.20" width="1.0" height="10.60" fill="#0000a1"/>
<rect x="404.0" y="42.20" width="1.0" height="10.60" fill="#0f0000"/>
<rect x="405.0" y="42.20" width="1.0" height="10.60" fill="#200000"/>
<rect x="406.0" y="42.20" width="1.0" height="10.60" fill="#00008e"/>
<rect x="407.0" y="42.20" width="1.0" height="10.60" fill="#0000c3"/>
<rect x="408.0" y="42.20" width="1.0" height="10.60" fill="#0000c0"/>
<rect x="409.0" y="42.20" width="1.0" height="10.60" fill="#0000bd"/>
<rect x="410.0" y="42.20" width="1.0" height="10.60" fill="#0000b8"/>
<rect x="411.0" y="42.20" width="1.0" height="10.60" fill="#0000ac"/>
<rect x="412.0" y="42.20" width="1.0" height="10.60" fill="#0000aa"/>
<rect x="413.0" y="42.20" width="1.0" height="10.60" fill="#0000b1"/>
<rect x="414.0" y="42.20" width="1.0" height="10.60" fill="#0000ac"/>
<rect x="415.0" y="42.20" width="1.0" height="10.60" fill="#0000ca"/>
<rect x="416.0" y="42.20" width="1.0" height="10.60" fill="#0000d1"/>
<rect x="417.0" y="42.20" width="1.0" height="10.60" fill="#0000d2"/>
<rect x="418.0" y="42.20" width="1.0" height="10.60" fill="#0000c5"/>
<rect x="419.0" y="42.20" width="1.0" height="10.60" fill="#00009b"/>
<rect x="420.0" y="42.20" width="1.0" height="10.60" fill="#00006c"/>
<rect x="421.0" y="42.20" width="1.0" height="10.60" fill="#000033"/>
<rect x="422.0" y="42.20" width="1.0" height="10.60" fill="#00008a"/>
<rect x="423.0" y="42.20" width="1.0" height="10.60" fill="#0000a2"/>
<rect x="424.0" y="42.20" width="1.0" height="10.60" fill="#0000b4"/>
<rect x="425.0" y="42.20" width="1.0" height="10.60" fill="#0000cb"/>
<rect x="426.0" y="42.20" width="0.3" height="10.60" fill="#0000d1"/>
<rect x="243.7" y="52.80" width="0.3" height="10.60" fill="#000048"/>
<rect x="244.0" y="52.80" width="1.0" height="10.60" fill="#000039"/>
<rect x="245.0" y="52.80" width="1.0" height="10.60" fill="#000011"/>
<rect x="246.0" y="52.80" width="1.0" height="10.60" fill="#000013"/>
<rect x="247.0" y="52.80" width="1.0" height="10.60" fill="#000023"/>
<rect x="248.0" y="52.80" width="1.0" height="10.60" fill="#000044"/>
<rect x="249.0" y="52.80" width="1.0" height="10.60" fill="#000055"/>
<rect x="250.0" y="52.80" width="1.0" height="10.60" fill="#000067"/>
<rect x="251.0" y="52.80" width="1.0" height="10.60" fill="#000073"/>
<rect x="252.0" y="52.80" width="1.0" height="10.60" fill="#000071"/>
<rect x="253.0" y="52.80" width="1.0" height="10.60" fill="#00005f"/>
<rect x="254.0" y="52.80" width="1.0" height="10.60" fill="#00003b"/>
<rect x="255.0" y="52.80" width="1.0" height="10.60" fill="#000015"/>
<rect x="256.0" y="52.80" width="1.0" height="10.60" fill="#00003b"/>
<rect x="257.0" y="52.80" width="1.0" height="10.60" fill="#000051"/>
<rect x="258.0" y="52.80" width="1.0" height="10.60" fill="#000056"/>
<rect x="259.0" y="52.80" width="1.0" height="10.60" fill="#00004a"/>
<rect x="260.0" y="52.80" width="1.0" height="10.60" fill="#00000a"/>
<rect x="261.0" y="52.80" width="1.0" height="10.60" fill="#070000"/>
<rect x="262.0" y="52.80" width="1.0" height="10.60" fill="#000008"/>
<rect x="263.0" y="52.80" width="1.0" height="10.60" fill="#000012"/>
<rect x="264.0" y="52.80" width="1.0" height="10.60" fill="#00002a"/>
<rect x="265.0" y="52.80" width="1.0" height="10.60" fill="#000033"/>
<rect x="266.0" y="52.80" width="1.0" height="10.60" fill="#00001a"/>
<rect x="267.0" y="52.80" width="1.0" height="10.60" fill="#000036"/>
<rect x="268.0" y="52.80" width="1.0" height="10.60" fill="#00004d"/>
<rect x="269.0" y="52.80" width="1.0" height="10.60" fill="#000065"/>
<rect x="270.0" y="52.80" width="1.0" height="10.60" fill="#00005d"/>
<rect x="271.0" y="52.80" width="1.0" height="10.60" fill="#00002c"/>
<rect x="272.0" y="52.80" width="1.0" height="10.60" fill="#00001f"/>
<rect x="273.0" y="52.80" width="1.0" height="10.60" fill="#000011"/>
<rect x="274.0" y="52.80" width="1.0" height="10.60" fill="#180000"/>
<rect x="275.0" y="52.80" width="1.0" height="10.60" fill="#0d0000"/>
<rect x="276.0" y="52.80" width="1.0" height="10.60" fill="#000020"/>
<rect x="277.0" y="52.80" width="1.0" height="10.60" fill="#000005"/>
<rect x="278.0" y="52.80" width="1.0" height="10.60" fill="#020000"/>
<rect x="279.0" y="52.80" width="1.0" height="10.60" fill="#000015"/>
<rect x="280.0" y="52.80" width="1.0" height="10.60" fill="#000018"/>
<rect x="281.0" y="52.80" width="1.0" height="10.60" fill="#00000a"/>
<rect x="282.0" y="52.80" width="2.0" height="10.60" fill="#000013"/>
<rect x="284.0" y="52.80" width="1.0" height="10.60" fill="#000016"/>
<rect x="285.0" y="52.80" width="1.0" height="10.60" fill="#00003c"/>
<rect x="286.0" y="52.80" width="1.0" height="10.60" fill="#000031"/>
<rect x="287.0" y="52.80" width="1.0" height="10.60" fill="#000024"/>
<rect x="288.0" y="52.80" width="1.0" height="10.60" fill="#00002b"/>
<rect x="289.0" y="52.80" width="1.0" height="10.60" fill="#000041"/>
<rect x="290.0" y="52.80" width="1.0" height="10.60" fill="#000049"/>
<rect x="291.0" y="52.80" width="1.0" height="10.60" fill="#00004b"/>
<rect x="292.0" y="52.80" width="1.0" height="10.60" fill="#000048"/>
<rect x="293.0" y="52.80" width="1.0" height="10.60" fill="#00002f"/>
<rect x="294.0" y="52.80" width="1.0" height="10.60" fill="#000019"/>
<rect x="295.0" y="52.80" width="1.0" height="10.60" fill="#000060"/>
<rect x="296.0" y="52.80" width="1.0" height="10.60" fill="#00006f"/>
<rect x="297.0" y="52.80" width="1.0" height="10.60" fill="#000042"/>
<rect x="298.0" y="52.80" width="2.0" height="10.60" fill="#000038"/>
<rect x="300.0" y="52.80" width="1.0" height="10.60" fill="#00001c"/>
<rect x="301.0" y="52.80" width="1.0" height="10.60" fill="#000036"/>
<rect x="302.0" y="52.80" width="1.0" height="10.60" fill="#00003d"/>
<rect x="303.0" y="52.80" width="1.0" height="10.60" fill="#00002f"/>
<rect x="304.0" y="52.80" width="1.0" height="10.60" fill="#000015"/>
<rect x="305.0" y="52.80" width="1.0" height="10.60" fill="#00002b"/>
<rect x="306.0" y="52.80" width="1.0" height="10.60" fill="#00004c"/>
<rect x="307.0" y="52.80" width="1.0" height="10.60" fill="#000041"/>
<rect x="308.0" y="52.80" width="1.0" height="10.60" fill="#00000c"/>
<rect x="309.0" y="52.80" width="1.0" height="10.60" fill="#000014"/>
<rect x="310.0" y="52.80" width="1.0" height="10.60" fill="#000030"/>
<rect x="311.0" y="52.80" width="1.0" height="10.60" fill="#000032"/>
<rect x="312.0" y="52.80" width="1.0" height="10.60" fill="#000031"/>
<rect x="313.0" y="52.80" width="1.0" height="10.60" fill="#000056"/>
<rect x="314.0" y="52.80" width="1.0" height="10.60" fill="#00006d"/>
<rect x="315.0" y="52.80" width="1.0" height="10.60" fill="#000080"/>
<rect x="316.0" y="52.80" width="1.0" height="10.60" fill="#000073"/>
<rect x="317.0" y="52.80" width="1.0" height="10.60" fill="#00006b"/>
<rect x="318.0" y="52.80" width="1.0" height="10.60" fill="#00006d"/>
<rect x="319.0" y="52.80" width="1.0" height="10.60" fill="#000075"/>
<rect x="320.0" y="52.80" width="1.0" height="10.60" fill="#000072"/>
<rect x="321.0" y="52.80" width="1.0" height="10.60" fill="#000066"/>
<rect x="322.0" y="52.80" width="1.0" height="10.60" fill="#000076"/>
<rect x="323.0" y="52.80" width="1.0" height="10.60" fill="#00007b"/>
<rect x="324.0" y="52.80" width="1.0" height="10.60" fill="#000082"/>
<rect x="325.0" y="52.80" width="1.0" height="10.60" fill="#000094"/>
<rect x="326.0" y="52.80" width="1.0" height="10.60" fill="#0000a1"/>
<rect x="327.0" y="52.80" width="1.0" height="10.60" fill="#0000c3"/>
<rect x="328.0" y="52.80" width="1.0" height="10.60" fill="#0000c2"/>
<rect x="329.0" y="52.80" width="1.0" height="10.60" fill="#0000ba"/>
<rect x="330.0" y="52.80" width="1.0" height="10.60" fill="#00009c"/>
<rect x="331.0" y="52.80" width="1.0" height="10.60" fill="#000037"/>
<rect x="332.0" y="52.80" width="1.0" height="10.60" fill="#110000"/>
<rect x="333.0" y="52.80" width="1.0" height="10.60" fill="#1f0000"/>
<rect x="334.0" y="52.80" width="1.0" height="10.60" fill="#0e0000"/>
<rect x="335.0" y="52.80" width="1.0" height="10.60" fill="#000015"/>
<rect x="336.0" y="52.80" width="1.0" height="10.60" fill="#000014"/>
<rect x="337.0" y="52.80" width="1.0" height="10.60" fill="#000029"/>
<rect x="338.0" y="52.80" width="1.0" height="10.60" fill="#000046"/>
<rect x="339.0" y="52.80" width="1.0" height="10.60" fill="#00004e"/>
<rect x="340.0" y="52.80" width="1.0" height="10.60" fill="#000056"/>
<rect x="341.0" y="52.80" width="1.0" height="10.60" fill="#00005f"/>
<rect x="342.0" y="52.80" width="1.0" height="10.60" fill="#00005d"/>
<rect x="343.0" y="52.80" width="1.0" height="10.60" fill="#000064"/>
<rect x="344.0" y="52.80" width="1.0" height="10.60" fill="#00004a"/>
<rect x="345.0" y="52.80" width="1.0" height="10.60" fill="#050000"/>
<rect x="346.0" y="52.80" width="1.0" height="10.60" fill="#000000"/>
<rect x="347.0" y="52.80" width="1.0" height="10.60" fill="#00005c"/>
<rect x="348.0" y="52.80" width="1.0" height="10.60" fill="#000074"/>
<rect x="349.0" y="52.80" width="1.0" height="10.60" fill="#000068"/>
<rect x="350.0" y="52.80" width="1.0" height="10.60" fill="#000075"/>
<rect x="351.0" y="52.80" width="1.0" height="10.60" fill="#0000a6"/>
<rect x="352.0" y="52.80" width="1.0" height="10.60" fill="#0000b4"/>
<rect x="353.0" y="52.80" width="1.0" height="10.60" fill="#0000ae"/>
<rect x="354.0" y="52.80" width="1.0" height="10.60" fill="#0000b2"/>
<rect x="355.0" y="52.80" width="2.0" height="10.60" fill="#0000c4"/>
<rect x="357.0" y="52.80" width="1.0" height="10.60" fill="#0000a7"/>
<rect x="358.0" y="52.80" width="1.0" height="10.60" fill="#00008e"/>
<rect x="359.0" y="52.80" width="1.0" height="10.60" fill="#0000a2"/>
<rect x="360.0" y="52.80" width="1.0" height="10.60" fill="#0000b6"/>
<rect x="361.0" y="52.80" width="1.0" height="10.60" fill="#00006d"/>
<rect x="362.0" y="52.80" width="1.0" height="10.60" fill="#6a0000"/>
<rect x="363.0" y="52.80" width="1.0" height="10.60" fill="#880000"/>
<rect x="364.0" y="52.80" width="1.0" height="10.60" fill="#1f0000"/>
<rect x="365.0" y="52.80" width="1.0" height="10.60" fill="#760000"/>
<rect x="366.0" y="52.80" width="1.0" height="10.60" fill="#6c0000"/>
<rect x="367.0" y="52.80" width="1.0" height="10.60" fill="#3a0000"/>
<rect x="368.0" y="52.80" width="2.0" height="10.60" fill="#4d0000"/>
<rect x="370.0" y="52.80" width="1.0" height="10.60" fill="#290000"/>
<rect x="371.0" y="52.80" width="1.0" height="10.60" fill="#2d0000"/>
<rect x="372.0" y="52.80" width="1.0" height="10.60" fill="#560000"/>
<rect x="373.0" y="52.80" width="1.0" height="10.60" fill="#4f0000"/>
<rect x="374.0" y="52.80" width="1.0" height="10.60" fill="#430000"/>
<rect x="375.0" y="52.80" width="1.0" height="10.60" fill="#460000"/>
<rect x="376.0" y="52.80" width="1.0" height="10.60" fill="#490000"/>
<rect x="377.0" y="52.80" width="1.0" height="10.60" fill="#380000"/>
<rect x="378.0" y="52.80" width="1.0" height="10.60" fill="#550000"/>
<rect x="379.0" y="52.80" width="1.0" height="10.60" fill="#6a0000"/>
<rect x="380.0" y="52.80" width="1.0" height="10.60" fill="#900000"/>
<rect x="381.0" y="52.80" width="1.0" height="10.60" fill="#880000"/>
<rect x="382.0" y="52.80" width="1.0" height="10.60" fill="#4c0000"/>
<rect x="383.0" y="52.80" width="1.0" height="10.60" fill="#4f0000"/>
<rect x="384.0" y="52.80" width="1.0" height="10.60" fill="#620000"/>
<rect x="385.0" y="52.80" width="1.0" height="10.60" fill="#6e0000"/>
<rect x="386.0" y="52.80" width="1.0" height="10.60" fill="#820000"/>
<rect x="387.0" y="52.80" width="1.0" height="10.60" fill="#7c0000"/>
<rect x="388.0" y="52.80" width="1.0" height="10.60" fill="#5f0000"/>
<rect x="389.0" y="52.80" width="1.0" height="10.60" fill="#120000"/>
<rect x="390.0" y="52.80" width="1.0" height="10.60" fill="#000010"/>
<rect x="391.0" y="52.80" width="1.0" height="10.60" fill="#000014"/>
<rect x="392.0" y="52.80" width="1.0" height="10.60" fill="#000028"/>
<rect x="393.0" y="52.80" width="1.0" height="10.60" fill="#000049"/>
<rect x="394.0" y="52.80" width="1.0" height="10.60" fill="#000023"/>
<rect x="395.0" y="52.80" width="1.0" height="10.60" fill="#000056"/>
<rect x="396.0" y="52.80" width="1.0" height="10.60" fill="#00006c"/>
<rect x="397.0" y="52.80" width="1.0" height="10.60" fill="#000050"/>
<rect x="398.0" y="52.80" width="1.0" height="10.60" fill="#000039"/>
<rect x="399.0" y="52.80" width="1.0" height="10.60" fill="#170000"/>
<rect x="400.0" y="52.80" width="1.0" height="10.60" fill="#990000"/>
<rect x="401.0" y="52.80" width="1.0" height="10.60" fill="#9c0000"/>
<rect x="402.0" y="52.80" width="1.0" height="10.60" fill="#320000"/>
<rect x="403.0" y="52.80" width="1.0" height="10.60" fill="#150000"/>
<rect x="404.0" y="52.80" width="1.0" height="10.60" fill="#1a0000"/>
<rect x="405.0" y="52.80" width="1.0" height="10.60" fill="#2e0000"/>
<rect x="406.0" y="52.80" width="1.0" height="10.60" fill="#4f0000"/>
<rect x="407.0" y="52.80" width="1.0" height="10.60" fill="#5a0000"/>
<rect x="408.0" y="52.80" width="1.0" height="10.60" fill="#680000"/>
<rect x="409.0" y="52.80" width="1.0" height="10.60" fill="#6b0000"/>
<rect x="410.0" y="52.80" width="1.0" height="10.60" fill="#230000"/>
<rect x="411.0" y="52.80" width="1.0" height="10.60" fill="#070000"/>
<rect x="412.0" y="52.80" width="1.0" height="10.60" fill="#000003"/>
<rect x="413.0" y="52.80" width="1.0" height="10.60" fill="#000009"/>
<rect x="414.0" y="52.80" width="1.0" height="10.60" fill="#2f0000"/>
<rect x="415.0" y="52.80" width="1.0" height="10.60" fill="#480000"/>
<rect x="416.0" y="52.80" width="1.0" height="10.60" fill="#520000"/>
<rect x="417.0" y="52.80" width="1.0" height="10.60" fill="#5a0000"/>
<rect x="418.0" y="52.80" width="1.0" height="10.60" fill="#660000"/>
<rect x="419.0" y="52.80" width="1.0" height="10.60" fill="#6a0000"/>
<rect x="420.0" y="52.80" width="1.0" height="10.60" fill="#470000"/>
<rect x="421.0" y="52.80" width="1.0" height="10.60" fill="#010000"/>
<rect x="422.0" y="52.80" width="1.0" height="10.60" fill="#1f0000"/>
<rect x="423.0" y="52.80" width="1.0" height="10.60" fill="#060000"/>
<rect x="424.0" y="52.80" width="1.0" height="10.60" fill="#000006"/>
<rect x="425.0" y="52.80" width="1.0" height="10.60" fill="#00000a"/>
<rect x="426.0" y="52.80" width="0.3" height="10.60" fill="#000036"/>
<rect x="243.7" y="63.40" width="0.3" height="10.60" fill="#210000"/>
<rect x="244.0" y="63.40" width="1.0" height="10.60" fill="#470000"/>
<rect x="245.0" y="63.40" width="1.0" height="10.60" fill="#4b0000"/>
<rect x="246.0" y="63.40" width="1.0" height="10.60" fill="#320000"/>
<rect x="247.0" y="63.40" width="1.0" height="10.60" fill="#1c0000"/>
<rect x="248.0" y="63.40" width="1.0" height="10.60" fill="#000007"/>
<rect x="249.0" y="63.40" width="1.0" height="10.60" fill="#010000"/>
<rect x="250.0" y="63.40" width="1.0" height="10.60" fill="#000005"/>
<rect x="251.0" y="63.40" width="1.0" height="10.60" fill="#000017"/>
<rect x="252.0" y="63.40" width="1.0" height="10.60" fill="#00003d"/>
<rect x="253.0" y="63.40" width="1.0" height="10.60" fill="#00003e"/>
<rect x="254.0" y="63.40" width="1.0" height="10.60" fill="#00000b"/>
<rect x="255.0" y="63.40" width="1.0" height="10.60" fill="#2c0000"/>
<rect x="256.0" y="63.40" width="1.0" height="10.60" fill="#360000"/>
<rect x="257.0" y="63.40" width="1.0" height="10.60" fill="#380000"/>
<rect x="258.0" y="63.40" width="1.0" height="10.60" fill="#680000"/>
<rect x="259.0" y="63.40" width="1.0" height="10.60" fill="#640000"/>
<rect x="260.0" y="63.40" width="1.0" height="10.60" fill="#1e0000"/>
<rect x="261.0" y="63.40" width="1.0" height="10.60" fill="#0d0000"/>
<rect x="262.0" y="63.40" width="1.0" height="10.60" fill="#2e0000"/>
<rect x="263.0" y="63.40" width="1.0" height="10.60" fill="#330000"/>
<rect x="264.0" y="63.40" width="1.0" height="10.60" fill="#1b0000"/>
<rect x="265.0" y="63.40" width="1.0" height="10.60" fill="#080000"/>
<rect x="266.0" y="63.40" width="1.0" height="10.60" fill="#000003"/>
<rect x="267.0" y="63.40" width="1.0" height="10.60" fill="#000017"/>
<rect x="268.0" y="63.40" width="1.0" height="10.60" fill="#000019"/>
<rect x="269.0" y="63.40" width="1.0" height="10.60" fill="#000005"/>
<rect x="270.0" y="63.40" width="1.0" height="10.60" fill="#300000"/>
<rect x="271.0" y="63.40" width="1.0" height="10.60" fill="#440000"/>
<rect x="272.0" y="63.40" width="1.0" height="10.60" fill="#4d0000"/>
<rect x="273.0" y="63.40" width="1.0" height="10.60" fill="#3f0000"/>
<rect x="274.0" y="63.40" width="1.0" height="10.60" fill="#070000"/>
<rect x="275.0" y="63.40" width="1.0" height="10.60" fill="#000010"/>
<rect x="276.0" y="63.40" width="1.0" height="10.60" fill="#010000"/>
<rect x="277.0" y="63.40" width="1.0" height="10.60" fill="#190000"/>
<rect x="278.0" y="63.40" width="1.0" height="10.60" fill="#130000"/>
<rect x="279.0" y="63.40" width="1.0" height="10.60" fill="#00000f"/>
<rect x="280.0" y="63.40" width="1.0" height="10.60" fill="#050000"/>
<rect x="281.0" y="63.40" width="1.0" height="10.60" fill="#320000"/>
<rect x="282.0" y="63.40" width="1.0" height="10.60" fill="#310000"/>
<rect x="283.0" y="63.40" width="1.0" height="10.60" fill="#290000"/>
<rect x="284.0" y="63.40" width="1.0" height="10.60" fill="#1e0000"/>
<rect x="285.0" y="63.40" width="1.0" height="10.60" fill="#170000"/>
<rect x="286.0" y="63.40" width="1.0" height="10.60" fill="#110000"/>
<rect x="287.0" y="63.40" width="1.0" height="10.60" fill="#150000"/>
<rect x="288.0" y="63.40" width="1.0" height="10.60" fill="#0d0000"/>
<rect x="289.0" y="63.40" width="1.0" height="10.60" fill="#00000f"/>
<rect x="290.0" y="63.40" width="1.0" height="10.60" fill="#000022"/>
<rect x="291.0" y="63.40" width="1.0" height="10.60" fill="#000028"/>
<rect x="292.0" y="63.40" width="1.0" height="10.60" fill="#070000"/>
<rect x="293.0" y="63.40" width="1.0" height="10.60" fill="#00000c"/>
<rect x="294.0" y="63.40" width="1.0" height="10.60" fill="#000035"/>
<rect x="295.0" y="63.40" width="3.0" height="10.60" fill="#00003e"/>
<rect x="298.0" y="63.40" width="1.0" height="10.60" fill="#00003d"/>
<rect x="299.0" y="63.40" width="1.0" height="10.60" fill="#000039"/>
<rect x="300.0" y="63.40" width="1.0" height="10.60" fill="#00003a"/>
<rect x="301.0" y="63.40" width="1.0" height="10.60" fill="#000045"/>
<rect x="302.0" y="63.40" width="1.0" height="10.60" fill="#000050"/>
<rect x="303.0" y="63.40" width="1.0" height="10.60" fill="#00004a"/>
<rect x="304.0" y="63.40" width="1.0" height="10.60" fill="#000031"/>
<rect x="305.0" y="63.40" width="1.0" height="10.60" fill="#00000d"/>
<rect x="306.0" y="63.40" width="1.0" height="10.60" fill="#480000"/>
<rect x="307.0" y="63.40" width="1.0" height="10.60" fill="#3c0000"/>
<rect x="308.0" y="63.40" width="1.0" height="10.60" fill="#00003c"/>
<rect x="309.0" y="63.40" width="1.0" height="10.60" fill="#00006d"/>
<rect x="310.0" y="63.40" width="1.0" height="10.60" fill="#00007f"/>
<rect x="311.0" y="63.40" width="1.0" height="10.60" fill="#00007a"/>
<rect x="312.0" y="63.40" width="1.0" height="10.60" fill="#000082"/>
<rect x="313.0" y="63.40" width="1.0" height="10.60" fill="#000069"/>
<rect x="314.0" y="63.40" width="1.0" height="10.60" fill="#00006a"/>
<rect x="315.0" y="63.40" width="1.0" height="10.60" fill="#000079"/>
<rect x="316.0" y="63.40" width="1.0" height="10.60" fill="#000048"/>
<rect x="317.0" y="63.40" width="1.0" height="10.60" fill="#000039"/>
<rect x="318.0" y="63.40" width="1.0" height="10.60" fill="#000051"/>
<rect x="319.0" y="63.40" width="1.0" height="10.60" fill="#000038"/>
<rect x="320.0" y="63.40" width="1.0" height="10.60" fill="#000036"/>
<rect x="321.0" y="63.40" width="1.0" height="10.60" fill="#00004a"/>
<rect x="322.0" y="63.40" width="2.0" height="10.60" fill="#00002f"/>
<rect x="324.0" y="63.40" width="1.0" height="10.60" fill="#000051"/>
<rect x="325.0" y="63.40" width="1.0" height="10.60" fill="#000041"/>
<rect x="326.0" y="63.40" width="1.0" height="10.60" fill="#000010"/>
<rect x="327.0" y="63.40" width="1.0" height="10.60" fill="#000027"/>
<rect x="328.0" y="63.40" width="1.0" height="10.60" fill="#00003b"/>
<rect x="329.0" y="63.40" width="1.0" height="10.60" fill="#000027"/>
<rect x="330.0" y="63.40" width="1.0" height="10.60" fill="#00000f"/>
<rect x="331.0" y="63.40" width="1.0" height="10.60" fill="#000016"/>
<rect x="332.0" y="63.40" width="1.0" height="10.60" fill="#00003c"/>
<rect x="333.0" y="63.40" width="1.0" height="10.60" fill="#00005f"/>
<rect x="334.0" y="63.40" width="1.0" height="10.60" fill="#000094"/>
<rect x="335.0" y="63.40" width="1.0" height="10.60" fill="#000087"/>
<rect x="336.0" y="63.40" width="1.0" height="10.60" fill="#000088"/>
<rect x="337.0" y="63.40" width="1.0" height="10.60" fill="#00008d"/>
<rect x="338.0" y="63.40" width="1.0" height="10.60" fill="#00008e"/>
<rect x="339.0" y="63.40" width="1.0" height="10.60" fill="#000082"/>
<rect x="340.0" y="63.40" width="1.0" height="10.60" fill="#000092"/>
<rect x="341.0" y="63.40" width="1.0" height="10.60" fill="#00008e"/>
<rect x="342.0" y="63.40" width="1.0" height="10.60" fill="#000070"/>
<rect x="343.0" y="63.40" width="1.0" height="10.60" fill="#00006d"/>
<rect x="344.0" y="63.40" width="1.0" height="10.60" fill="#000084"/>
<rect x="345.0" y="63.40" width="1.0" height="10.60" fill="#00008a"/>
<rect x="346.0" y="63.40" width="1.0" height="10.60" fill="#000089"/>
<rect x="347.0" y="63.40" width="1.0" height="10.60" fill="#000086"/>
<rect x="348.0" y="63.40" width="1.0" height="10.60" fill="#000069"/>
<rect x="349.0" y="63.40" width="1.0" height="10.60" fill="#000050"/>
<rect x="350.0" y="63.40" width="1.0" height="10.60" fill="#000035"/>
<rect x="351.0" y="63.40" width="1.0" height="10.60" fill="#00005f"/>
<rect x="352.0" y="63.40" width="1.0" height="10.60" fill="#00009a"/>
<rect x="353.0" y="63.40" width="1.0" height="10.60" fill="#0000ae"/>
<rect x="354.0" y="63.40" width="1.0" height="10.60" fill="#0000a5"/>
<rect x="355.0" y="63.40" width="1.0" height="10.60" fill="#0000a3"/>
<rect x="356.0" y="63.40" width="1.0" height="10.60" fill="#0000a6"/>
<rect x="357.0" y="63.40" width="1.0" height="10.60" fill="#0000a5"/>
<rect x="358.0" y="63.40" width="1.0" height="10.60" fill="#00009d"/>
<rect x="359.0" y="63.40" width="1.0" height="10.60" fill="#000093"/>
<rect x="360.0" y="63.40" width="1.0" height="10.60" fill="#000061"/>
<rect x="361.0" y="63.40" width="1.0" height="10.60" fill="#00000f"/>
<rect x="362.0" y="63.40" width="1.0" height="10.60" fill="#00001c"/>
<rect x="363.0" y="63.40" width="1.0" height="10.60" fill="#000067"/>
<rect x="364.0" y="63.40" width="1.0" height="10.60" fill="#000019"/>
<rect x="365.0" y="63.40" width="1.0" height="10.60" fill="#000014"/>
<rect x="366.0" y="63.40" width="1.0" height="10.60" fill="#00004a"/>
<rect x="367.0" y="63.40" width="1.0" height="10.60" fill="#00004e"/>
<rect x="368.0" y="63.40" width="1.0" height="10.60" fill="#000041"/>
<rect x="369.0" y="63.40" width="1.0" height="10.60" fill="#00004a"/>
<rect x="370.0" y="63.40" width="1.0" height="10.60" fill="#0000a6"/>
<rect x="371.0" y="63.40" width="1.0" height="10.60" fill="#0000c5"/>
<rect x="372.0" y="63.40" width="1.0" height="10.60" fill="#000084"/>
<rect x="373.0" y="63.40" width="1.0" height="10.60" fill="#00001f"/>
<rect x="374.0" y="63.40" width="1.0" height="10.60" fill="#00005c"/>
<rect x="375.0" y="63.40" width="1.0" height="10.60" fill="#000084"/>
<rect x="376.0" y="63.40" width="1.0" height="10.60" fill="#00006f"/>
<rect x="377.0" y="63.40" width="1.0" height="10.60" fill="#00000f"/>
<rect x="378.0" y="63.40" width="1.0" height="10.60" fill="#00000d"/>
<rect x="379.0" y="63.40" width="1.0" height="10.60" fill="#000015"/>
<rect x="380.0" y="63.40" width="1.0" height="10.60" fill="#000023"/>
<rect x="381.0" y="63.40" width="1.0" height="10.60" fill="#00004f"/>
<rect x="382.0" y="63.40" width="1.0" height="10.60" fill="#00004a"/>
<rect x="383.0" y="63.40" width="1.0" height="10.60" fill="#00001e"/>
<rect x="384.0" y="63.40" width="1.0" height="10.60" fill="#000022"/>
<rect x="385.0" y="63.40" width="1.0" height="10.60" fill="#000021"/>
<rect x="386.0" y="63.40" width="1.0" height="10.60" fill="#00004f"/>
<rect x="387.0" y="63.40" width="1.0" height="10.60" fill="#000015"/>
<rect x="388.0" y="63.40" width="1.0" height="10.60" fill="#160000"/>
<rect x="389.0" y="63.40" width="1.0" height="10.60" fill="#0d0000"/>
<rect x="390.0" y="63.40" width="1.0" height="10.60" fill="#170000"/>
<rect x="391.0" y="63.40" width="1.0" height="10.60" fill="#350000"/>
<rect x="392.0" y="63.40" width="1.0" height="10.60" fill="#250000"/>
<rect x="393.0" y="63.40" width="1.0" height="10.60" fill="#3b0000"/>
<rect x="394.0" y="63.40" width="1.0" height="10.60" fill="#210000"/>
<rect x="395.0" y="63.40" width="1.0" height="10.60" fill="#190000"/>
<rect x="396.0" y="63.40" width="1.0" height="10.60" fill="#470000"/>
<rect x="397.0" y="63.40" width="1.0" height="10.60" fill="#260000"/>
<rect x="398.0" y="63.40" width="1.0" height="10.60" fill="#1f0000"/>
<rect x="399.0" y="63.40" width="1.0" height="10.60" fill="#0b0000"/>
<rect x="400.0" y="63.40" width="1.0" height="10.60" fill="#050000"/>
<rect x="401.0" y="63.40" width="1.0" height="10.60" fill="#000000"/>
<rect x="402.0" y="63.40" width="1.0" height="10.60" fill="#270000"/>
<rect x="403.0" y="63.40" width="1.0" height="10.60" fill="#410000"/>
<rect x="404.0" y="63.40" width="1.0" height="10.60" fill="#5d0000"/>
<rect x="405.0" y="63.40" width="1.0" height="10.60" fill="#530000"/>
<rect x="406.0" y="63.40" width="1.0" height="10.60" fill="#2b0000"/>
<rect x="407.0" y="63.40" width="1.0" height="10.60" fill="#400000"/>
<rect x="408.0" y="63.40" width="1.0" height="10.60" fill="#220000"/>
<rect x="409.0" y="63.40" width="1.0" height="10.60" fill="#240000"/>
<rect x="410.0" y="63.40" width="1.0" height="10.60" fill="#8a0000"/>
<rect x="411.0" y="63.40" width="1.0" height="10.60" fill="#ab0000"/>
<rect x="412.0" y="63.40" width="1.0" height="10.60" fill="#a00000"/>
<rect x="413.0" y="63.40" width="1.0" height="10.60" fill="#a60000"/>
<rect x="414.0" y="63.40" width="1.0" height="10.60" fill="#bf0000"/>
<rect x="415.0" y="63.40" width="1.0" height="10.60" fill="#aa0000"/>
<rect x="416.0" y="63.40" width="1.0" height="10.60" fill="#a20000"/>
<rect x="417.0" y="63.40" width="1.0" height="10.60" fill="#960000"/>
<rect x="418.0" y="63.40" width="1.0" height="10.60" fill="#9b0000"/>
<rect x="419.0" y="63.40" width="1.0" height="10.60" fill="#930000"/>
<rect x="420.0" y="63.40" width="1.0" height="10.60" fill="#790000"/>
<rect x="421.0" y="63.40" width="2.0" height="10.60" fill="#880000"/>
<rect x="423.0" y="63.40" width="1.0" height="10.60" fill="#720000"/>
<rect x="424.0" y="63.40" width="1.0" height="10.60" fill="#810000"/>
<rect x="425.0" y="63.40" width="1.0" height="10.60" fill="#660000"/>
<rect x="426.0" y="63.40" width="0.3" height="10.60" fill="#000004"/>
<rect x="243.7" y="74.00" width="0.3" height="10.60" fill="#00009f"/>
<rect x="244.0" y="74.00" width="1.0" height="10.60" fill="#000096"/>
<rect x="245.0" y="74.00" width="1.0" height="10.60" fill="#00007e"/>
<rect x="246.0" y="74.00" width="1.0" height="10.60" fill="#000076"/>
<rect x="247.0" y="74.00" width="1.0" height="10.60" fill="#000051"/>
<rect x="248.0" y="74.00" width="1.0" height="10.60" fill="#1b0000"/>
<rect x="249.0" y="74.00" width="1.0" height="10.60" fill="#3a0000"/>
<rect x="250.0" y="74.00" width="1.0" height="10.60" fill="#220000"/>
<rect x="251.0" y="74.00" width="1.0" height="10.60" fill="#000011"/>
<rect x="252.0" y="74.00" width="1.0" height="10.60" fill="#000004"/>
<rect x="253.0" y="74.00" width="1.0" height="10.60" fill="#070000"/>
<rect x="254.0" y="74.00" width="1.0" height="10.60" fill="#0a0000"/>
<rect x="255.0" y="74.00" width="1.0" height="10.60" fill="#00000e"/>
<rect x="256.0" y="74.00" width="1.0" height="10.60" fill="#000051"/>
<rect x="257.0" y="74.00" width="1.0" height="10.60" fill="#00005d"/>
<rect x="258.0" y="74.00" width="1.0" height="10.60" fill="#00006f"/>
<rect x="259.0" y="74.00" width="1.0" height="10.60" fill="#000046"/>
<rect x="260.0" y="74.00" width="1.0" height="10.60" fill="#000050"/>
<rect x="261.0" y="74.00" width="1.0" height="10.60" fill="#000044"/>
<rect x="262.0" y="74.00" width="1.0" height="10.60" fill="#000013"/>
<rect x="263.0" y="74.00" width="1.0" height="10.60" fill="#000012"/>
<rect x="264.0" y="74.00" width="1.0" height="10.60" fill="#1f0000"/>
<rect x="265.0" y="74.00" width="1.0" height="10.60" fill="#000013"/>
<rect x="266.0" y="74.00" width="1.0" height="10.60" fill="#000059"/>
<rect x="267.0" y="74.00" width="1.0" height="10.60" fill="#00006f"/>
<rect x="268.0" y="74.00" width="1.0" height="10.60" fill="#000077"/>
<rect x="269.0" y="74.00" width="1.0" height="10.60" fill="#000060"/>
<rect x="270.0" y="74.00" width="1.0" height="10.60" fill="#00004b"/>
<rect x="271.0" y="74.00" width="1.0" height="10.60" fill="#00003a"/>
<rect x="272.0" y="74.00" width="1.0" height="10.60" fill="#00004e"/>
<rect x="273.0" y="74.00" width="1.0" height="10.60" fill="#000052"/>
<rect x="274.0" y="74.00" width="2.0" height="10.60" fill="#000069"/>
<rect x="276.0" y="74.00" width="1.0" height="10.60" fill="#000053"/>
<rect x="277.0" y="74.00" width="1.0" height="10.60" fill="#000060"/>
<rect x="278.0" y="74.00" width="1.0" height="10.60" fill="#00006c"/>
<rect x="279.0" y="74.00" width="2.0" height="10.60" fill="#00005b"/>
<rect x="281.0" y="74.00" width="1.0" height="10.60" fill="#00003f"/>
<rect x="282.0" y="74.00" width="1.0" height="10.60" fill="#000048"/>
<rect x="283.0" y="74.00" width="1.0" height="10.60" fill="#000086"/>
<rect x="284.0" y="74.00" width="1.0" height="10.60" fill="#000085"/>
<rect x="285.0" y="74.00" width="1.0" height="10.60" fill="#000042"/>
<rect x="286.0" y="74.00" width="1.0" height="10.60" fill="#00002a"/>
<rect x="287.0" y="74.00" width="1.0" height="10.60" fill="#00003a"/>
<rect x="288.0" y="74.00" width="1.0" height="10.60" fill="#000070"/>
<rect x="289.0" y="74.00" width="1.0" height="10.60" fill="#00006f"/>
<rect x="290.0" y="74.00" width="1.0" height="10.60" fill="#00006c"/>
<rect x="291.0" y="74.00" width="2.0" height="10.60" fill="#000070"/>
<rect x="293.0" y="74.00" width="1.0" height="10.60" fill="#000064"/>
<rect x="294.0" y="74.00" width="1.0" height="10.60" fill="#00006e"/>
<rect x="295.0" y="74.00" width="1.0" height="10.60" fill="#000080"/>
<rect x="296.0" y="74.00" width="1.0" height="10.60" fill="#0000a5"/>
<rect x="297.0" y="74.00" width="1.0" height="10.60" fill="#0000a9"/>
<rect x="298.0" y="74.00" width="1.0" height="10.60" fill="#00008c"/>
<rect x="299.0" y="74.00" width="1.0" height="10.60" fill="#000056"/>
<rect x="300.0" y="74.00" width="1.0" height="10.60" fill="#070000"/>
<rect x="301.0" y="74.00" width="1.0" height="10.60" fill="#240000"/>
<rect x="302.0" y="74.00" width="1.0" height="10.60" fill="#220000"/>
<rect x="303.0" y="74.00" width="1.0" height="10.60" fill="#0e0000"/>
<rect x="304.0" y="74.00" width="1.0" height="10.60" fill="#000020"/>
<rect x="305.0" y="74.00" width="1.0" height="10.60" fill="#000003"/>
<rect x="306.0" y="74.00" width="1.0" height="10.60" fill="#120000"/>
<rect x="307.0" y="74.00" width="1.0" height="10.60" fill="#000017"/>
<rect x="308.0" y="74.00" width="1.0" height="10.60" fill="#000025"/>
<rect x="309.0" y="74.00" width="1.0" height="10.60" fill="#00001a"/>
<rect x="310.0" y="74.00" width="1.0" height="10.60" fill="#000009"/>
<rect x="311.0" y="74.00" width="1.0" height="10.60" fill="#090000"/>
<rect x="312.0" y="74.00" width="1.0" height="10.60" fill="#00001b"/>
<rect x="313.0" y="74.00" width="1.0" height="10.60" fill="#00001a"/>
<rect x="314.0" y="74.00" width="1.0" height="10.60" fill="#00000c"/>
<rect x="315.0" y="74.00" width="1.0" height="10.60" fill="#000006"/>
<rect x="316.0" y="74.00" width="1.0" height="10.60" fill="#0e0000"/>
<rect x="317.0" y="74.00" width="1.0" height="10.60" fill="#00000a"/>
<rect x="318.0" y="74.00" width="1.0" height="10.60" fill="#00000f"/>
<rect x="319.0" y="74.00" width="1.0" height="10.60" fill="#000003"/>
<rect x="320.0" y="74.00" width="1.0" height="10.60" fill="#000033"/>
<rect x="321.0" y="74.00" width="1.0" height="10.60" fill="#00004c"/>
<rect x="322.0" y="74.00" width="1.0" height="10.60" fill="#000060"/>
<rect x="323.0" y="74.00" width="1.0" height="10.60" fill="#00005d"/>
<rect x="324.0" y="74.00" width="1.0" height="10.60" fill="#000047"/>
<rect x="325.0" y="74.00" width="1.0" height="10.60" fill="#00004b"/>
<rect x="326.0" y="74.00" width="1.0" height="10.60" fill="#000052"/>
<rect x="327.0" y="74.00" width="1.0" height="10.60" fill="#000061"/>
<rect x="328.0" y="74.00" width="1.0" height="10.60" fill="#000073"/>
<rect x="329.0" y="74.00" width="1.0" height="10.60" fill="#000075"/>
<rect x="330.0" y="74.00" width="1.0" height="10.60" fill="#00005b"/>
<rect x="331.0" y="74.00" width="1.0" height="10.60" fill="#000010"/>
<rect x="332.0" y="74.00" width="1.0" height="10.60" fill="#000012"/>
<rect x="333.0" y="74.00" width="1.0" height="10.60" fill="#000061"/>
<rect x="334.0" y="74.00" width="1.0" height="10.60" fill="#000055"/>
<rect x="335.0" y="74.00" width="1.0" height="10.60" fill="#200000"/>
<rect x="336.0" y="74.00" width="1.0" height="10.60" fill="#160000"/>
<rect x="337.0" y="74.00" width="1.0" height="10.60" fill="#00007a"/>
<rect x="338.0" y="74.00" width="1.0" height="10.60" fill="#0000a8"/>
<rect x="339.0" y="74.00" width="1.0" height="10.60" fill="#0000a2"/>
<rect x="340.0" y="74.00" width="1.0" height="10.60" fill="#00008a"/>
<rect x="341.0" y="74.00" width="1.0" height="10.60" fill="#000053"/>
<rect x="342.0" y="74.00" width="2.0" height="10.60" fill="#00005b"/>
<rect x="344.0" y="74.00" width="1.0" height="10.60" fill="#000062"/>
<rect x="345.0" y="74.00" width="1.0" height="10.60" fill="#000066"/>
<rect x="346.0" y="74.00" width="1.0" height="10.60" fill="#000065"/>
<rect x="347.0" y="74.00" width="1.0" height="10.60" fill="#000057"/>
<rect x="348.0" y="74.00" width="1.0" height="10.60" fill="#000034"/>
<rect x="349.0" y="74.00" width="2.0" height="10.60" fill="#00003a"/>
<rect x="351.0" y="74.00" width="1.0" height="10.60" fill="#000030"/>
<rect x="352.0" y="74.00" width="1.0" height="10.60" fill="#00002b"/>
<rect x="353.0" y="74.00" width="1.0" height="10.60" fill="#00004f"/>
<rect x="354.0" y="74.00" width="1.0" height="10.60" fill="#000062"/>
<rect x="355.0" y="74.00" width="1.0" height="10.60" fill="#000050"/>
<rect x="356.0" y="74.00" width="1.0" height="10.60" fill="#00000d"/>
<rect x="357.0" y="74.00" width="1.0" height="10.60" fill="#00004c"/>
<rect x="358.0" y="74.00" width="1.0" height="10.60" fill="#0000a8"/>
<rect x="359.0" y="74.00" width="1.0" height="10.60" fill="#00009d"/>
<rect x="360.0" y="74.00" width="1.0" height="10.60" fill="#00008f"/>
<rect x="361.0" y="74.00" width="1.0" height="10.60" fill="#00005e"/>
<rect x="362.0" y="74.00" width="1.0" height="10.60" fill="#240000"/>
<rect x="363.0" y="74.00" width="1.0" height="10.60" fill="#270000"/>
<rect x="364.0" y="74.00" width="1.0" height="10.60" fill="#070000"/>
<rect x="365.0" y="74.00" width="1.0" height="10.60" fill="#000002"/>
<rect x="366.0" y="74.00" width="1.0" height="10.60" fill="#030000"/>
<rect x="367.0" y="74.00" width="1.0" height="10.60" fill="#240000"/>
<rect x="368.0" y="74.00" width="1.0" height="10.60" fill="#2a0000"/>
<rect x="369.0" y="74.00" width="1.0" height="10.60" fill="#00001d"/>
<rect x="370.0" y="74.00" width="1.0" height="10.60" fill="#00001b"/>
<rect x="371.0" y="74.00" width="1.0" height="10.60" fill="#3e0000"/>
<rect x="372.0" y="74.00" width="1.0" height="10.60" fill="#590000"/>
<rect x="373.0" y="74.00" width="1.0" height="10.60" fill="#300000"/>
<rect x="374.0" y="74.00" width="1.0" height="10.60" fill="#1b0000"/>
<rect x="375.0" y="74.00" width="1.0" height="10.60" fill="#170000"/>
<rect x="376.0" y="74.00" width="1.0" height="10.60" fill="#120000"/>
<rect x="377.0" y="74.00" width="1.0" height="10.60" fill="#140000"/>
<rect x="378.0" y="74.00" width="1.0" height="10.60" fill="#2d0000"/>
<rect x="379.0" y="74.00" width="1.0" height="10.60" fill="#400000"/>
<rect x="380.0" y="74.00" width="1.0" height="10.60" fill="#390000"/>
<rect x="381.0" y="74.00" width="1.0" height="10.60" fill="#340000"/>
<rect x="382.0" y="74.00" width="1.0" height="10.60" fill="#1e0000"/>
<rect x="383.0" y="74.00" width="1.0" height="10.60" fill="#000021"/>
<rect x="384.0" y="74.00" width="1.0" height="10.60" fill="#000027"/>
<rect x="385.0" y="74.00" width="1.0" height="10.60" fill="#160000"/>
<rect x="386.0" y="74.00" width="1.0" height="10.60" fill="#520000"/>
<rect x="387.0" y="74.00" width="1.0" height="10.60" fill="#5c0000"/>
<rect x="388.0" y="74.00" width="1.0" height="10.60" fill="#4b0000"/>
<rect x="389.0" y="74.00" width="1.0" height="10.60" fill="#4f0000"/>
<rect x="390.0" y="74.00" width="1.0" height="10.60" fill="#6b0000"/>
<rect x="391.0" y="74.00" width="1.0" height="10.60" fill="#620000"/>
<rect x="392.0" y="74.00" width="1.0" height="10.60" fill="#3a0000"/>
<rect x="393.0" y="74.00" width="1.0" height="10.60" fill="#5b0000"/>
<rect x="394.0" y="74.00" width="1.0" height="10.60" fill="#890000"/>
<rect x="395.0" y="74.00" width="2.0" height="10.60" fill="#c70000"/>
<rect x="397.0" y="74.00" width="1.0" height="10.60" fill="#7f0000"/>
<rect x="398.0" y="74.00" width="1.0" height="10.60" fill="#00002d"/>
<rect x="399.0" y="74.00" width="1.0" height="10.60" fill="#000022"/>
<rect x="400.0" y="74.00" width="1.0" height="10.60" fill="#7a0000"/>
<rect x="401.0" y="74.00" width="1.0" height="10.60" fill="#a60000"/>
<rect x="402.0" y="74.00" width="1.0" height="10.60" fill="#990000"/>
<rect x="403.0" y="74.00" width="1.0" height="10.60" fill="#9e0000"/>
<rect x="404.0" y="74.00" width="1.0" height="10.60" fill="#940000"/>
<rect x="405.0" y="74.00" width="1.0" height="10.60" fill="#aa0000"/>
<rect x="406.0" y="74.00" width="1.0" height="10.60" fill="#b40000"/>
<rect x="407.0" y="74.00" width="1.0" height="10.60" fill="#8a0000"/>
<rect x="408.0" y="74.00" width="1.0" height="10.60" fill="#120000"/>
<rect x="409.0" y="74.00" width="1.0" height="10.60" fill="#000006"/>
<rect x="410.0" y="74.00" width="1.0" height="10.60" fill="#100000"/>
<rect x="411.0" y="74.00" width="1.0" height="10.60" fill="#2f0000"/>
<rect x="412.0" y="74.00" width="1.0" height="10.60" fill="#00001d"/>
<rect x="413.0" y="74.00" width="1.0" height="10.60" fill="#000073"/>
<rect x="414.0" y="74.00" width="1.0" height="10.60" fill="#000062"/>
<rect x="415.0" y="74.00" width="1.0" height="10.60" fill="#000063"/>
<rect x="416.0" y="74.00" width="1.0" height="10.60" fill="#00005a"/>
<rect x="417.0" y="74.00" width="1.0" height="10.60" fill="#000046"/>
<rect x="418.0" y="74.00" width="1.0" height="10.60" fill="#2f0000"/>
<rect x="419.0" y="74.00" width="1.0" height="10.60" fill="#4f0000"/>
<rect x="420.0" y="74.00" width="1.0" height="10.60" fill="#2c0000"/>
<rect x="421.0" y="74.00" width="1.0" height="10.60" fill="#1f0000"/>
<rect x="422.0" y="74.00" width="1.0" height="10.60" fill="#2f0000"/>
<rect x="423.0" y="74.00" width="1.0" height="10.60" fill="#3d0000"/>
<rect x="424.0" y="74.00" width="1.0" height="10.60" fill="#480000"/>
<rect x="425.0" y="74.00" width="1.0" height="10.60" fill="#530000"/>
<rect x="426.0" y="74.00" width="0.3" height="10.60" fill="#5f0000"/>
<rect x="243.7" y="84.60" width="0.3" height="10.60" fill="#000054"/>
<rect x="244.0" y="84.60" width="1.0" height="10.60" fill="#000050"/>
<rect x="245.0" y="84.60" width="1.0" height="10.60" fill="#000051"/>
<rect x="246.0" y="84.60" width="1.0" height="10.60" fill="#000047"/>
<rect x="247.0" y="84.60" width="1.0" height="10.60" fill="#000030"/>
<rect x="248.0" y="84.60" width="1.0" height="10.60" fill="#00003d"/>
<rect x="249.0" y="84.60" width="1.0" height="10.60" fill="#000044"/>
<rect x="250.0" y="84.60" width="1.0" height="10.60" fill="#000050"/>
<rect x="251.0" y="84.60" width="1.0" height="10.60" fill="#000071"/>
<rect x="252.0" y="84.60" width="1.0" height="10.60" fill="#000078"/>
<rect x="253.0" y="84.60" width="1.0" height="10.60" fill="#00008e"/>
<rect x="254.0" y="84.60" width="1.0" height="10.60" fill="#00009a"/>
<rect x="255.0" y="84.60" width="1.0" height="10.60" fill="#000091"/>
<rect x="256.0" y="84.60" width="1.0" height="10.60" fill="#00007b"/>
<rect x="257.0" y="84.60" width="1.0" height="10.60" fill="#00007e"/>
<rect x="258.0" y="84.60" width="1.0" height="10.60" fill="#000077"/>
<rect x="259.0" y="84.60" width="1.0" height="10.60" fill="#00006e"/>
<rect x="260.0" y="84.60" width="1.0" height="10.60" fill="#00003a"/>
<rect x="261.0" y="84.60" width="1.0" height="10.60" fill="#00003f"/>
<rect x="262.0" y="84.60" width="1.0" height="10.60" fill="#00005a"/>
<rect x="263.0" y="84.60" width="1.0" height="10.60" fill="#00005c"/>
<rect x="264.0" y="84.60" width="1.0" height="10.60" fill="#00004b"/>
<rect x="265.0" y="84.60" width="1.0" height="10.60" fill="#000054"/>
<rect x="266.0" y="84.60" width="1.0" height="10.60" fill="#00006e"/>
<rect x="267.0" y="84.60" width="1.0" height="10.60" fill="#000046"/>
<rect x="268.0" y="84.60" width="1.0" height="10.60" fill="#000038"/>
<rect x="269.0" y="84.60" width="1.0" height="10.60" fill="#000049"/>
<rect x="270.0" y="84.60" width="1.0" height="10.60" fill="#00005c"/>
<rect x="271.0" y="84.60" width="1.0" height="10.60" fill="#000056"/>
<rect x="272.0" y="84.60" width="1.0" height="10.60" fill="#00003e"/>
<rect x="273.0" y="84.60" width="2.0" height="10.60" fill="#000048"/>
<rect x="275.0" y="84.60" width="1.0" height="10.60" fill="#000046"/>
<rect x="276.0" y="84.60" width="1.0" height="10.60" fill="#00004a"/>
<rect x="277.0" y="84.60" width="1.0" height="10.60" fill="#000051"/>
<rect x="278.0" y="84.60" width="1.0" height="10.60" fill="#000061"/>
<rect x="279.0" y="84.60" width="1.0" height="10.60" fill="#000069"/>
<rect x="280.0" y="84.60" width="1.0" height="10.60" fill="#000067"/>
<rect x="281.0" y="84.60" width="1.0" height="10.60" fill="#000046"/>
<rect x="282.0" y="84.60" width="1.0" height="10.60" fill="#000034"/>
<rect x="283.0" y="84.60" width="1.0" height="10.60" fill="#00003d"/>
<rect x="284.0" y="84.60" width="1.0" height="10.60" fill="#00005f"/>
<rect x="285.0" y="84.60" width="2.0" height="10.60" fill="#000064"/>
<rect x="287.0" y="84.60" width="1.0" height="10.60" fill="#00006d"/>
<rect x="288.0" y="84.60" width="1.0" height="10.60" fill="#000072"/>
<rect x="289.0" y="84.60" width="1.0" height="10.60" fill="#000062"/>
<rect x="290.0" y="84.60" width="1.0" height="10.60" fill="#000059"/>
<rect x="291.0" y="84.60" width="2.0" height="10.60" fill="#000053"/>
<rect x="293.0" y="84.60" width="1.0" height="10.60" fill="#00005b"/>
<rect x="294.0" y="84.60" width="1.0" height="10.60" fill="#000067"/>
<rect x="295.0" y="84.60" width="1.0" height="10.60" fill="#00006f"/>
<rect x="296.0" y="84.60" width="1.0" height="10.60" fill="#00004e"/>
<rect x="297.0" y="84.60" width="1.0" height="10.60" fill="#00004b"/>
<rect x="298.0" y="84.60" width="1.0" height="10.60" fill="#000066"/>
<rect x="299.0" y="84.60" width="1.0" height="10.60" fill="#00006b"/>
<rect x="300.0" y="84.60" width="2.0" height="10.60" fill="#00007e"/>
<rect x="302.0" y="84.60" width="1.0" height="10.60" fill="#000063"/>
<rect x="303.0" y="84.60" width="1.0" height="10.60" fill="#00005c"/>
<rect x="304.0" y="84.60" width="1.0" height="10.60" fill="#000062"/>
<rect x="305.0" y="84.60" width="1.0" height="10.60" fill="#00005d"/>
<rect x="306.0" y="84.60" width="1.0" height="10.60" fill="#000040"/>
<rect x="307.0" y="84.60" width="1.0" height="10.60" fill="#000041"/>
<rect x="308.0" y="84.60" width="1.0" height="10.60" fill="#000040"/>
<rect x="309.0" y="84.60" width="1.0" height="10.60" fill="#00005a"/>
<rect x="310.0" y="84.60" width="1.0" height="10.60" fill="#000062"/>
<rect x="311.0" y="84.60" width="1.0" height="10.60" fill="#000051"/>
<rect x="312.0" y="84.60" width="1.0" height="10.60" fill="#00005e"/>
<rect x="313.0" y="84.60" width="1.0" height="10.60" fill="#00004c"/>
<rect x="314.0" y="84.60" width="1.0" height="10.60" fill="#00001a"/>
<rect x="315.0" y="84.60" width="1.0" height="10.60" fill="#00004e"/>
<rect x="316.0" y="84.60" width="1.0" height="10.60" fill="#00005f"/>
<rect x="317.0" y="84.60" width="1.0" height="10.60" fill="#00001d"/>
<rect x="318.0" y="84.60" width="1.0" height="10.60" fill="#500000"/>
<rect x="319.0" y="84.60" width="1.0" height="10.60" fill="#280000"/>
<rect x="320.0" y="84.60" width="1.0" height="10.60" fill="#000048"/>
<rect x="321.0" y="84.60" width="1.0" height="10.60" fill="#000062"/>
<rect x="322.0" y="84.60" width="1.0" height="10.60" fill="#000058"/>
<rect x="323.0" y="84.60" width="1.0" height="10.60" fill="#00006b"/>
<rect x="324.0" y="84.60" width="1.0" height="10.60" fill="#00006f"/>
<rect x="325.0" y="84.60" width="1.0" height="10.60" fill="#000064"/>
<rect x="326.0" y="84.60" width="1.0" height="10.60" fill="#000060"/>
<rect x="327.0" y="84.60" width="1.0" height="10.60" fill="#00006f"/>
<rect x="328.0" y="84.60" width="1.0" height="10.60" fill="#000061"/>
<rect x="329.0" y="84.60" width="1.0" height="10.60" fill="#000015"/>
<rect x="330.0" y="84.60" width="1.0" height="10.60" fill="#1d0000"/>
<rect x="331.0" y="84.60" width="1.0" height="10.60" fill="#00001d"/>
<rect x="332.0" y="84.60" width="1.0" height="10.60" fill="#000051"/>
<rect x="333.0" y="84.60" width="1.0" height="10.60" fill="#00005e"/>
<rect x="334.0" y="84.60" width="1.0" height="10.60" fill="#000064"/>
<rect x="335.0" y="84.60" width="1.0" height="10.60" fill="#000065"/>
<rect x="336.0" y="84.60" width="1.0" height="10.60" fill="#000062"/>
<rect x="337.0" y="84.60" width="1.0" height="10.60" fill="#000064"/>
<rect x="338.0" y="84.60" width="1.0" height="10.60" fill="#00005e"/>
<rect x="339.0" y="84.60" width="1.0" height="10.60" fill="#00004f"/>
<rect x="340.0" y="84.60" width="1.0" height="10.60" fill="#00005f"/>
<rect x="341.0" y="84.60" width="1.0" height="10.60" fill="#000067"/>
<rect x="342.0" y="84.60" width="1.0" height="10.60" fill="#000065"/>
<rect x="343.0" y="84.60" width="1.0" height="10.60" fill="#000063"/>
<rect x="344.0" y="84.60" width="1.0" height="10.60" fill="#000071"/>
<rect x="345.0" y="84.60" width="2.0" height="10.60" fill="#000046"/>
<rect x="347.0" y="84.60" width="1.0" height="10.60" fill="#00007e"/>
<rect x="348.0" y="84.60" width="1.0" height="10.60" fill="#00008a"/>
<rect x="349.0" y="84.60" width="1.0" height="10.60" fill="#000076"/>
<rect x="350.0" y="84.60" width="1.0" height="10.60" fill="#00006e"/>
<rect x="351.0" y="84.60" width="1.0" height="10.60" fill="#000060"/>
<rect x="352.0" y="84.60" width="1.0" height="10.60" fill="#000039"/>
<rect x="353.0" y="84.60" width="1.0" height="10.60" fill="#00002a"/>
<rect x="354.0" y="84.60" width="1.0" height="10.60" fill="#000030"/>
<rect x="355.0" y="84.60" width="1.0" height="10.60" fill="#000036"/>
<rect x="356.0" y="84.60" width="1.0" height="10.60" fill="#000038"/>
<rect x="357.0" y="84.60" width="1.0" height="10.60" fill="#000041"/>
<rect x="358.0" y="84.60" width="1.0" height="10.60" fill="#00005c"/>
<rect x="359.0" y="84.60" width="1.0" height="10.60" fill="#000064"/>
<rect x="360.0" y="84.60" width="1.0" height="10.60" fill="#000063"/>
<rect x="361.0" y="84.60" width="1.0" height="10.60" fill="#00004d"/>
<rect x="362.0" y="84.60" width="1.0" height="10.60" fill="#000015"/>
<rect x="363.0" y="84.60" width="1.0" height="10.60" fill="#000009"/>
<rect x="364.0" y="84.60" width="1.0" height="10.60" fill="#000016"/>
<rect x="365.0" y="84.60" width="1.0" height="10.60" fill="#00000c"/>
<rect x="366.0" y="84.60" width="1.0" height="10.60" fill="#00001f"/>
<rect x="367.0" y="84.60" width="1.0" height="10.60" fill="#00001c"/>
<rect x="368.0" y="84.60" width="1.0" height="10.60" fill="#080000"/>
<rect x="369.0" y="84.60" width="1.0" height="10.60" fill="#110000"/>
<rect x="370.0" y="84.60" width="1.0" height="10.60" fill="#080000"/>
<rect x="371.0" y="84.60" width="1.0" height="10.60" fill="#020000"/>
<rect x="372.0" y="84.60" width="1.0" height="10.60" fill="#000000"/>
<rect x="373.0" y="84.60" width="1.0" height="10.60" fill="#020000"/>
<rect x="374.0" y="84.60" width="1.0" height="10.60" fill="#040000"/>
<rect x="375.0" y="84.60" width="1.0" height="10.60" fill="#170000"/>
<rect x="376.0" y="84.60" width="1.0" height="10.60" fill="#5b0000"/>
<rect x="377.0" y="84.60" width="1.0" height="10.60" fill="#9f0000"/>
<rect x="378.0" y="84.60" width="1.0" height="10.60" fill="#860000"/>
<rect x="379.0" y="84.60" width="1.0" height="10.60" fill="#050000"/>
<rect x="380.0" y="84.60" width="1.0" height="10.60" fill="#000010"/>
<rect x="381.0" y="84.60" width="1.0" height="10.60" fill="#260000"/>
<rect x="382.0" y="84.60" width="1.0" height="10.60" fill="#230000"/>
<rect x="383.0" y="84.60" width="2.0" height="10.60" fill="#140000"/>
<rect x="385.0" y="84.60" width="1.0" height="10.60" fill="#490000"/>
<rect x="386.0" y="84.60" width="1.0" height="10.60" fill="#6b0000"/>
<rect x="387.0" y="84.60" width="1.0" height="10.60" fill="#6a0000"/>
<rect x="388.0" y="84.60" width="1.0" height="10.60" fill="#510000"/>
<rect x="389.0" y="84.60" width="1.0" height="10.60" fill="#330000"/>
<rect x="390.0" y="84.60" width="1.0" height="10.60" fill="#200000"/>
<rect x="391.0" y="84.60" width="1.0" height="10.60" fill="#1f0000"/>
<rect x="392.0" y="84.60" width="1.0" height="10.60" fill="#2f0000"/>
<rect x="393.0" y="84.60" width="1.0" height="10.60" fill="#360000"/>
<rect x="394.0" y="84.60" width="1.0" height="10.60" fill="#390000"/>
<rect x="395.0" y="84.60" width="1.0" height="10.60" fill="#300000"/>
<rect x="396.0" y="84.60" width="1.0" height="10.60" fill="#3d0000"/>
<rect x="397.0" y="84.60" width="1.0" height="10.60" fill="#410000"/>
<rect x="398.0" y="84.60" width="1.0" height="10.60" fill="#370000"/>
<rect x="399.0" y="84.60" width="1.0" height="10.60" fill="#360000"/>
<rect x="400.0" y="84.60" width="1.0" height="10.60" fill="#3d0000"/>
<rect x="401.0" y="84.60" width="1.0" height="10.60" fill="#3a0000"/>
<rect x="402.0" y="84.60" width="1.0" height="10.60" fill="#1d0000"/>
<rect x="403.0" y="84.60" width="1.0" height="10.60" fill="#000004"/>
<rect x="404.0" y="84.60" width="1.0" height="10.60" fill="#120000"/>
<rect x="405.0" y="84.60" width="1.0" height="10.60" fill="#730000"/>
<rect x="406.0" y="84.60" width="1.0" height="10.60" fill="#6e0000"/>
<rect x="407.0" y="84.60" width="1.0" height="10.60" fill="#000001"/>
<rect x="408.0" y="84.60" width="1.0" height="10.60" fill="#00000a"/>
<rect x="409.0" y="84.60" width="1.0" height="10.60" fill="#3b0000"/>
<rect x="410.0" y="84.60" width="1.0" height="10.60" fill="#410000"/>
<rect x="411.0" y="84.60" width="1.0" height="10.60" fill="#5e0000"/>
<rect x="412.0" y="84.60" width="1.0" height="10.60" fill="#3d0000"/>
<rect x="413.0" y="84.60" width="1.0" height="10.60" fill="#4c0000"/>
<rect x="414.0" y="84.60" width="1.0" height="10.60" fill="#3c0000"/>
<rect x="415.0" y="84.60" width="1.0" height="10.60" fill="#1b0000"/>
<rect x="416.0" y="84.60" width="1.0" height="10.60" fill="#070000"/>
<rect x="417.0" y="84.60" width="1.0" height="10.60" fill="#00000d"/>
<rect x="418.0" y="84.60" width="1.0" height="10.60" fill="#000004"/>
<rect x="419.0" y="84.60" width="1.0" height="10.60" fill="#00000d"/>
<rect x="420.0" y="84.60" width="1.0" height="10.60" fill="#4e0000"/>
<rect x="421.0" y="84.60" width="1.0" height="10.60" fill="#6f0000"/>
<rect x="422.0" y="84.60" width="1.0" height="10.60" fill="#570000"/>
<rect x="423.0" y="84.60" width="1.0" height="10.60" fill="#4c0000"/>
<rect x="424.0" y="84.60" width="1.0" height="10.60" fill="#900000"/>
<rect x="425.0" y="84.60" width="1.0" height="10.60" fill="#960000"/>
<rect x="426.0" y="84.60" width="0.3" height="10.60" fill="#dc0000"/>
<rect x="243.7" y="95.20" width="0.3" height="10.60" fill="#00004c"/>
<rect x="244.0" y="95.20" width="1.0" height="10.60" fill="#000056"/>
<rect x="245.0" y="95.20" width="1.0" height="10.60" fill="#000068"/>
<rect x="246.0" y="95.20" width="1.0" height="10.60" fill="#00006a"/>
<rect x="247.0" y="95.20" width="1.0" height="10.60" fill="#000063"/>
<rect x="248.0" y="95.20" width="1.0" height="10.60" fill="#000051"/>
<rect x="249.0" y="95.20" width="1.0" height="10.60" fill="#00004d"/>
<rect x="250.0" y="95.20" width="1.0" height="10.60" fill="#000053"/>
<rect x="251.0" y="95.20" width="1.0" height="10.60" fill="#000049"/>
<rect x="252.0" y="95.20" width="1.0" height="10.60" fill="#000030"/>
<rect x="253.0" y="95.20" width="1.0" height="10.60" fill="#000067"/>
<rect x="254.0" y="95.20" width="1.0" height="10.60" fill="#000073"/>
<rect x="255.0" y="95.20" width="1.0" height="10.60" fill="#000050"/>
<rect x="256.0" y="95.20" width="1.0" height="10.60" fill="#00004f"/>
<rect x="257.0" y="95.20" width="1.0" height="10.60" fill="#00006e"/>
<rect x="258.0" y="95.20" width="1.0" height="10.60" fill="#000074"/>
<rect x="259.0" y="95.20" width="1.0" height="10.60" fill="#000062"/>
<rect x="260.0" y="95.20" width="1.0" height="10.60" fill="#00004a"/>
<rect x="261.0" y="95.20" width="2.0" height="10.60" fill="#000044"/>
<rect x="263.0" y="95.20" width="1.0" height="10.60" fill="#00003d"/>
<rect x="264.0" y="95.20" width="1.0" height="10.60" fill="#000043"/>
<rect x="265.0" y="95.20" width="1.0" height="10.60" fill="#000053"/>
<rect x="266.0" y="95.20" width="1.0" height="10.60" fill="#00003e"/>
<rect x="267.0" y="95.20" width="1.0" height="10.60" fill="#000044"/>
<rect x="268.0" y="95.20" width="1.0" height="10.60" fill="#00005f"/>
<rect x="269.0" y="95.20" width="1.0" height="10.60" fill="#00006a"/>
<rect x="270.0" y="95.20" width="1.0" height="10.60" fill="#000071"/>
<rect x="271.0" y="95.20" width="1.0" height="10.60" fill="#000076"/>
<rect x="272.0" y="95.20" width="1.0" height="10.60" fill="#000068"/>
<rect x="273.0" y="95.20" width="1.0" height="10.60" fill="#000026"/>
<rect x="274.0" y="95.20" width="1.0" height="10.60" fill="#000023"/>
<rect x="275.0" y="95.20" width="1.0" height="10.60" fill="#00005c"/>
<rect x="276.0" y="95.20" width="1.0" height="10.60" fill="#00006a"/>
<rect x="277.0" y="95.20" width="1.0" height="10.60" fill="#000067"/>
<rect x="278.0" y="95.20" width="1.0" height="10.60" fill="#000063"/>
<rect x="279.0" y="95.20" width="1.0" height="10.60" fill="#000068"/>
<rect x="280.0" y="95.20" width="1.0" height="10.60" fill="#000073"/>
<rect x="281.0" y="95.20" width="1.0" height="10.60" fill="#000070"/>
<rect x="282.0" y="95.20" width="1.0" height="10.60" fill="#00005d"/>
<rect x="283.0" y="95.20" width="1.0" height="10.60" fill="#000048"/>
<rect x="284.0" y="95.20" width="1.0" height="10.60" fill="#000033"/>
<rect x="285.0" y="95.20" width="1.0" height="10.60" fill="#00006e"/>
<rect x="286.0" y="95.20" width="1.0" height="10.60" fill="#000097"/>
<rect x="287.0" y="95.20" width="1.0" height="10.60" fill="#000086"/>
<rect x="288.0" y="95.20" width="1.0" height="10.60" fill="#00002f"/>
<rect x="289.0" y="95.20" width="1.0" height="10.60" fill="#000000"/>
<rect x="290.0" y="95.20" width="1.0" height="10.60" fill="#000045"/>
<rect x="291.0" y="95.20" width="1.0" height="10.60" fill="#000049"/>
<rect x="292.0" y="95.20" width="1.0" height="10.60" fill="#000061"/>
<rect x="293.0" y="95.20" width="1.0" height="10.60" fill="#000074"/>
<rect x="294.0" y="95.20" width="1.0" height="10.60" fill="#000085"/>
<rect x="295.0" y="95.20" width="1.0" height="10.60" fill="#00007b"/>
<rect x="296.0" y="95.20" width="1.0" height="10.60" fill="#00003c"/>
<rect x="297.0" y="95.20" width="2.0" height="10.60" fill="#040000"/>
<rect x="299.0" y="95.20" width="1.0" height="10.60" fill="#000018"/>
<rect x="300.0" y="95.20" width="1.0" height="10.60" fill="#010000"/>
<rect x="301.0" y="95.20" width="1.0" height="10.60" fill="#000015"/>
<rect x="302.0" y="95.20" width="1.0" height="10.60" fill="#000017"/>
<rect x="303.0" y="95.20" width="1.0" height="10.60" fill="#00002a"/>
<rect x="304.0" y="95.20" width="1.0" height="10.60" fill="#00002c"/>
<rect x="305.0" y="95.20" width="1.0" height="10.60" fill="#000019"/>
<rect x="306.0" y="95.20" width="1.0" height="10.60" fill="#060000"/>
<rect x="307.0" y="95.20" width="1.0" height="10.60" fill="#00001b"/>
<rect x="308.0" y="95.20" width="1.0" height="10.60" fill="#00001f"/>
<rect x="309.0" y="95.20" width="1.0" height="10.60" fill="#000006"/>
<rect x="310.0" y="95.20" width="1.0" height="10.60" fill="#000021"/>
<rect x="311.0" y="95.20" width="1.0" height="10.60" fill="#00002d"/>
<rect x="312.0" y="95.20" width="1.0" height="10.60" fill="#000023"/>
<rect x="313.0" y="95.20" width="1.0" height="10.60" fill="#00000e"/>
<rect x="314.0" y="95.20" width="1.0" height="10.60" fill="#000018"/>
<rect x="315.0" y="95.20" width="1.0" height="10.60" fill="#000014"/>
<rect x="316.0" y="95.20" width="1.0" height="10.60" fill="#000000"/>
<rect x="317.0" y="95.20" width="1.0" height="10.60" fill="#000005"/>
<rect x="318.0" y="95.20" width="1.0" height="10.60" fill="#000027"/>
<rect x="319.0" y="95.20" width="1.0" height="10.60" fill="#000036"/>
<rect x="320.0" y="95.20" width="1.0" height="10.60" fill="#000040"/>
<rect x="321.0" y="95.20" width="1.0" height="10.60" fill="#00003f"/>
<rect x="322.0" y="95.20" width="1.0" height="10.60" fill="#00003e"/>
<rect x="323.0" y="95.20" width="1.0" height="10.60" fill="#000037"/>
<rect x="324.0" y="95.20" width="1.0" height="10.60" fill="#000036"/>
<rect x="325.0" y="95.20" width="1.0" height="10.60" fill="#00006b"/>
<rect x="326.0" y="95.20" width="1.0" height="10.60" fill="#000087"/>
<rect x="327.0" y="95.20" width="1.0" height="10.60" fill="#00008f"/>
<rect x="328.0" y="95.20" width="1.0" height="10.60" fill="#000073"/>
<rect x="329.0" y="95.20" width="1.0" height="10.60" fill="#00006a"/>
<rect x="330.0" y="95.20" width="1.0" height="10.60" fill="#000069"/>
<rect x="331.0" y="95.20" width="1.0" height="10.60" fill="#00007b"/>
<rect x="332.0" y="95.20" width="1.0" height="10.60" fill="#00006d"/>
<rect x="333.0" y="95.20" width="1.0" height="10.60" fill="#000083"/>
<rect x="334.0" y="95.20" width="1.0" height="10.60" fill="#00008c"/>
<rect x="335.0" y="95.20" width="1.0" height="10.60" fill="#000087"/>
<rect x="336.0" y="95.20" width="1.0" height="10.60" fill="#000082"/>
<rect x="337.0" y="95.20" width="1.0" height="10.60" fill="#00007f"/>
<rect x="338.0" y="95.20" width="1.0" height="10.60" fill="#00008e"/>
<rect x="339.0" y="95.20" width="1.0" height="10.60" fill="#000087"/>
<rect x="340.0" y="95.20" width="1.0" height="10.60" fill="#000055"/>
<rect x="341.0" y="95.20" width="1.0" height="10.60" fill="#000027"/>
<rect x="342.0" y="95.20" width="1.0" height="10.60" fill="#00002a"/>
<rect x="343.0" y="95.20" width="1.0" height="10.60" fill="#00002f"/>
<rect x="344.0" y="95.20" width="1.0" height="10.60" fill="#000024"/>
<rect x="345.0" y="95.20" width="1.0" height="10.60" fill="#000008"/>
<rect x="346.0" y="95.20" width="1.0" height="10.60" fill="#000010"/>
<rect x="347.0" y="95.20" width="1.0" height="10.60" fill="#000029"/>
<rect x="348.0" y="95.20" width="2.0" height="10.60" fill="#000040"/>
<rect x="350.0" y="95.20" width="1.0" height="10.60" fill="#00002e"/>
<rect x="351.0" y="95.20" width="1.0" height="10.60" fill="#000032"/>
<rect x="352.0" y="95.20" width="1.0" height="10.60" fill="#00004a"/>
<rect x="353.0" y="95.20" width="1.0" height="10.60" fill="#00003e"/>
<rect x="354.0" y="95.20" width="1.0" height="10.60" fill="#00001d"/>
<rect x="355.0" y="95.20" width="1.0" height="10.60" fill="#000002"/>
<rect x="356.0" y="95.20" width="1.0" height="10.60" fill="#000027"/>
<rect x="357.0" y="95.20" width="1.0" height="10.60" fill="#000033"/>
<rect x="358.0" y="95.20" width="1.0" height="10.60" fill="#000013"/>
<rect x="359.0" y="95.20" width="1.0" height="10.60" fill="#000023"/>
<rect x="360.0" y="95.20" width="1.0" height="10.60" fill="#00006b"/>
<rect x="361.0" y="95.20" width="1.0" height="10.60" fill="#000051"/>
<rect x="362.0" y="95.20" width="2.0" height="10.60" fill="#0a0000"/>
<rect x="364.0" y="95.20" width="1.0" height="10.60" fill="#000003"/>
<rect x="365.0" y="95.20" width="1.0" height="10.60" fill="#1d0000"/>
<rect x="366.0" y="95.20" width="1.0" height="10.60" fill="#170000"/>
<rect x="367.0" y="95.20" width="1.0" height="10.60" fill="#000000"/>
<rect x="368.0" y="95.20" width="1.0" height="10.60" fill="#00001d"/>
<rect x="369.0" y="95.20" width="1.0" height="10.60" fill="#000008"/>
<rect x="370.0" y="95.20" width="1.0" height="10.60" fill="#00000b"/>
<rect x="371.0" y="95.20" width="1.0" height="10.60" fill="#310000"/>
<rect x="372.0" y="95.20" width="1.0" height="10.60" fill="#7c0000"/>
<rect x="373.0" y="95.20" width="1.0" height="10.60" fill="#5f0000"/>
<rect x="374.0" y="95.20" width="1.0" height="10.60" fill="#100000"/>
<rect x="375.0" y="95.20" width="1.0" height="10.60" fill="#1b0000"/>
<rect x="376.0" y="95.20" width="1.0" height="10.60" fill="#280000"/>
<rect x="377.0" y="95.20" width="1.0" height="10.60" fill="#290000"/>
<rect x="378.0" y="95.20" width="1.0" height="10.60" fill="#720000"/>
<rect x="379.0" y="95.20" width="1.0" height="10.60" fill="#920000"/>
<rect x="380.0" y="95.20" width="1.0" height="10.60" fill="#820000"/>
<rect x="381.0" y="95.20" width="1.0" height="10.60" fill="#740000"/>
<rect x="382.0" y="95.20" width="1.0" height="10.60" fill="#6f0000"/>
<rect x="383.0" y="95.20" width="1.0" height="10.60" fill="#650000"/>
<rect x="384.0" y="95.20" width="1.0" height="10.60" fill="#5a0000"/>
<rect x="385.0" y="95.20" width="1.0" height="10.60" fill="#600000"/>
<rect x="386.0" y="95.20" width="1.0" height="10.60" fill="#7e0000"/>
<rect x="387.0" y="95.20" width="1.0" height="10.60" fill="#8a0000"/>
<rect x="388.0" y="95.20" width="1.0" height="10.60" fill="#960000"/>
<rect x="389.0" y="95.20" width="1.0" height="10.60" fill="#a70000"/>
<rect x="390.0" y="95.20" width="1.0" height="10.60" fill="#680000"/>
<rect x="391.0" y="95.20" width="1.0" height="10.60" fill="#130000"/>
<rect x="392.0" y="95.20" width="1.0" height="10.60" fill="#340000"/>
<rect x="393.0" y="95.20" width="1.0" height="10.60" fill="#410000"/>
<rect x="394.0" y="95.20" width="1.0" height="10.60" fill="#3d0000"/>
<rect x="395.0" y="95.20" width="1.0" height="10.60" fill="#370000"/>
<rect x="396.0" y="95.20" width="1.0" height="10.60" fill="#460000"/>
<rect x="397.0" y="95.20" width="1.0" height="10.60" fill="#6d0000"/>
<rect x="398.0" y="95.20" width="1.0" height="10.60" fill="#570000"/>
<rect x="399.0" y="95.20" width="1.0" height="10.60" fill="#410000"/>
<rect x="400.0" y="95.20" width="1.0" height="10.60" fill="#570000"/>
<rect x="401.0" y="95.20" width="1.0" height="10.60" fill="#5d0000"/>
<rect x="402.0" y="95.20" width="1.0" height="10.60" fill="#3d0000"/>
<rect x="403.0" y="95.20" width="1.0" height="10.60" fill="#1d0000"/>
<rect x="404.0" y="95.20" width="1.0" height="10.60" fill="#3d0000"/>
<rect x="405.0" y="95.20" width="1.0" height="10.60" fill="#a90000"/>
<rect x="406.0" y="95.20" width="1.0" height="10.60" fill="#a00000"/>
<rect x="407.0" y="95.20" width="1.0" height="10.60" fill="#6f0000"/>
<rect x="408.0" y="95.20" width="1.0" height="10.60" fill="#490000"/>
<rect x="409.0" y="95.20" width="1.0" height="10.60" fill="#000007"/>
<rect x="410.0" y="95.20" width="1.0" height="10.60" fill="#000032"/>
<rect x="411.0" y="95.20" width="1.0" height="10.60" fill="#00005b"/>
<rect x="412.0" y="95.20" width="1.0" height="10.60" fill="#000067"/>
<rect x="413.0" y="95.20" width="1.0" height="10.60" fill="#00004e"/>
<rect x="414.0" y="95.20" width="1.0" height="10.60" fill="#050000"/>
<rect x="415.0" y="95.20" width="1.0" height="10.60" fill="#4b0000"/>
<rect x="416.0" y="95.20" width="2.0" height="10.60" fill="#230000"/>
<rect x="418.0" y="95.20" width="1.0" height="10.60" fill="#3f0000"/>
<rect x="419.0" y="95.20" width="1.0" height="10.60" fill="#7d0000"/>
<rect x="420.0" y="95.20" width="1.0" height="10.60" fill="#9c0000"/>
<rect x="421.0" y="95.20" width="1.0" height="10.60" fill="#8f0000"/>
<rect x="422.0" y="95.20" width="1.0" height="10.60" fill="#5d0000"/>
<rect x="423.0" y="95.20" width="1.0" height="10.60" fill="#540000"/>
<rect x="424.0" y="95.20" width="1.0" height="10.60" fill="#6a0000"/>
<rect x="425.0" y="95.20" width="1.0" height="10.60" fill="#5a0000"/>
<rect x="426.0" y="95.20" width="0.3" height="10.60" fill="#150000"/>
<rect x="243.7" y="105.80" width="0.3" height="10.60" fill="#00007b"/>
<rect x="244.0" y="105.80" width="1.0" height="10.60" fill="#000088"/>
<rect x="245.0" y="105.80" width="1.0" height="10.60" fill="#00007d"/>
<rect x="246.0" y="105.80" width="2.0" height="10.60" fill="#000054"/>
<rect x="248.0" y="105.80" width="1.0" height="10.60" fill="#000058"/>
<rect x="249.0" y="105.80" width="1.0" height="10.60" fill="#00005e"/>
<rect x="250.0" y="105.80" width="1.0" height="10.60" fill="#000079"/>
<rect x="251.0" y="105.80" width="1.0" height="10.60" fill="#00007e"/>
<rect x="252.0" y="105.80" width="1.0" height="10.60" fill="#000071"/>
<rect x="253.0" y="105.80" width="1.0" height="10.60" fill="#00006a"/>
<rect x="254.0" y="105.80" width="1.0" height="10.60" fill="#000062"/>
<rect x="255.0" y="105.80" width="1.0" height="10.60" fill="#00006d"/>
<rect x="256.0" y="105.80" width="1.0" height="10.60" fill="#00008e"/>
<rect x="257.0" y="105.80" width="1.0" height="10.60" fill="#000088"/>
<rect x="258.0" y="105.80" width="1.0" height="10.60" fill="#000092"/>
<rect x="259.0" y="105.80" width="1.0" height="10.60" fill="#00008e"/>
<rect x="260.0" y="105.80" width="1.0" height="10.60" fill="#000070"/>
<rect x="261.0" y="105.80" width="1.0" height="10.60" fill="#00006a"/>
<rect x="262.0" y="105.80" width="1.0" height="10.60" fill="#000070"/>
<rect x="263.0" y="105.80" width="1.0" height="10.60" fill="#000065"/>
<rect x="264.0" y="105.80" width="1.0" height="10.60" fill="#000080"/>
<rect x="265.0" y="105.80" width="1.0" height="10.60" fill="#0000b1"/>
<rect x="266.0" y="105.80" width="1.0" height="10.60" fill="#0000bc"/>
<rect x="267.0" y="105.80" width="1.0" height="10.60" fill="#0000b6"/>
<rect x="268.0" y="105.80" width="1.0" height="10.60" fill="#0000aa"/>
<rect x="269.0" y="105.80" width="1.0" height="10.60" fill="#000090"/>
<rect x="270.0" y="105.80" width="1.0" height="10.60" fill="#00008c"/>
<rect x="271.0" y="105.80" width="1.0" height="10.60" fill="#00008e"/>
<rect x="272.0" y="105.80" width="1.0" height="10.60" fill="#000092"/>
<rect x="273.0" y="105.80" width="1.0" height="10.60" fill="#00009b"/>
<rect x="274.0" y="105.80" width="1.0" height="10.60" fill="#0000a5"/>
<rect x="275.0" y="105.80" width="1.0" height="10.60" fill="#0000a4"/>
<rect x="276.0" y="105.80" width="1.0" height="10.60" fill="#000093"/>
<rect x="277.0" y="105.80" width="1.0" height="10.60" fill="#000075"/>
<rect x="278.0" y="105.80" width="1.0" height="10.60" fill="#00006b"/>
<rect x="279.0" y="105.80" width="1.0" height="10.60" fill="#000068"/>
<rect x="280.0" y="105.80" width="1.0" height="10.60" fill="#00005e"/>
<rect x="281.0" y="105.80" width="2.0" height="10.60" fill="#000045"/>
<rect x="283.0" y="105.80" width="1.0" height="10.60" fill="#000058"/>
<rect x="284.0" y="105.80" width="1.0" height="10.60" fill="#000052"/>
<rect x="285.0" y="105.80" width="1.0" height="10.60" fill="#000050"/>
<rect x="286.0" y="105.80" width="1.0" height="10.60" fill="#000054"/>
<rect x="287.0" y="105.80" width="1.0" height="10.60" fill="#00004b"/>
<rect x="288.0" y="105.80" width="1.0" height="10.60" fill="#000037"/>
<rect x="289.0" y="105.80" width="1.0" height="10.60" fill="#000019"/>
<rect x="290.0" y="105.80" width="1.0" height="10.60" fill="#00003e"/>
<rect x="291.0" y="105.80" width="1.0" height="10.60" fill="#000060"/>
<rect x="292.0" y="105.80" width="1.0" height="10.60" fill="#000063"/>
<rect x="293.0" y="105.80" width="1.0" height="10.60" fill="#00006d"/>
<rect x="294.0" y="105.80" width="1.0" height="10.60" fill="#000071"/>
<rect x="295.0" y="105.80" width="1.0" height="10.60" fill="#000074"/>
<rect x="296.0" y="105.80" width="1.0" height="10.60" fill="#000081"/>
<rect x="297.0" y="105.80" width="1.0" height="10.60" fill="#000099"/>
<rect x="298.0" y="105.80" width="1.0" height="10.60" fill="#00008d"/>
<rect x="299.0" y="105.80" width="1.0" height="10.60" fill="#000067"/>
<rect x="300.0" y="105.80" width="1.0" height="10.60" fill="#00008e"/>
<rect x="301.0" y="105.80" width="1.0" height="10.60" fill="#00009a"/>
<rect x="302.0" y="105.80" width="1.0" height="10.60" fill="#000084"/>
<rect x="303.0" y="105.80" width="1.0" height="10.60" fill="#00007c"/>
<rect x="304.0" y="105.80" width="1.0" height="10.60" fill="#000090"/>
<rect x="305.0" y="105.80" width="1.0" height="10.60" fill="#000098"/>
<rect x="306.0" y="105.80" width="1.0" height="10.60" fill="#00009c"/>
<rect x="307.0" y="105.80" width="1.0" height="10.60" fill="#0000a7"/>
<rect x="308.0" y="105.80" width="1.0" height="10.60" fill="#0000a8"/>
<rect x="309.0" y="105.80" width="1.0" height="10.60" fill="#00009e"/>
<rect x="310.0" y="105.80" width="1.0" height="10.60" fill="#0000a7"/>
<rect x="311.0" y="105.80" width="1.0" height="10.60" fill="#0000a8"/>
<rect x="312.0" y="105.80" width="1.0" height="10.60" fill="#0000a7"/>
<rect x="313.0" y="105.80" width="1.0" height="10.60" fill="#0000b5"/>
<rect x="314.0" y="105.80" width="1.0" height="10.60" fill="#0000c1"/>
<rect x="315.0" y="105.80" width="1.0" height="10.60" fill="#0000ab"/>
<rect x="316.0" y="105.80" width="1.0" height="10.60" fill="#000065"/>
<rect x="317.0" y="105.80" width="1.0" height="10.60" fill="#000057"/>
<rect x="318.0" y="105.80" width="1.0" height="10.60" fill="#000053"/>
<rect x="319.0" y="105.80" width="1.0" height="10.60" fill="#00005e"/>
<rect x="320.0" y="105.80" width="1.0" height="10.60" fill="#00005d"/>
<rect x="321.0" y="105.80" width="1.0" height="10.60" fill="#000064"/>
<rect x="322.0" y="105.80" width="1.0" height="10.60" fill="#000081"/>
<rect x="323.0" y="105.80" width="1.0" height="10.60" fill="#000079"/>
<rect x="324.0" y="105.80" width="1.0" height="10.60" fill="#000049"/>
<rect x="325.0" y="105.80" width="1.0" height="10.60" fill="#000052"/>
<rect x="326.0" y="105.80" width="1.0" height="10.60" fill="#00007c"/>
<rect x="327.0" y="105.80" width="1.0" height="10.60" fill="#000076"/>
<rect x="328.0" y="105.80" width="1.0" height="10.60" fill="#00006a"/>
<rect x="329.0" y="105.80" width="1.0" height="10.60" fill="#000071"/>
<rect x="330.0" y="105.80" width="1.0" height="10.60" fill="#000066"/>
<rect x="331.0" y="105.80" width="1.0" height="10.60" fill="#000067"/>
<rect x="332.0" y="105.80" width="1.0" height="10.60" fill="#00007c"/>
<rect x="333.0" y="105.80" width="1.0" height="10.60" fill="#000084"/>
<rect x="334.0" y="105.80" width="1.0" height="10.60" fill="#000086"/>
<rect x="335.0" y="105.80" width="1.0" height="10.60" fill="#00007d"/>
<rect x="336.0" y="105.80" width="1.0" height="10.60" fill="#000060"/>
<rect x="337.0" y="105.80" width="1.0" height="10.60" fill="#000063"/>
<rect x="338.0" y="105.80" width="1.0" height="10.60" fill="#000088"/>
<rect x="339.0" y="105.80" width="1.0" height="10.60" fill="#000094"/>
<rect x="340.0" y="105.80" width="1.0" height="10.60" fill="#00008b"/>
<rect x="341.0" y="105.80" width="1.0" height="10.60" fill="#000070"/>
<rect x="342.0" y="105.80" width="1.0" height="10.60" fill="#000047"/>
<rect x="343.0" y="105.80" width="1.0" height="10.60" fill="#00002c"/>
<rect x="344.0" y="105.80" width="1.0" height="10.60" fill="#000086"/>
<rect x="345.0" y="105.80" width="1.0" height="10.60" fill="#0000a6"/>
<rect x="346.0" y="105.80" width="1.0" height="10.60" fill="#000097"/>
<rect x="347.0" y="105.80" width="1.0" height="10.60" fill="#000090"/>
<rect x="348.0" y="105.80" width="1.0" height="10.60" fill="#000089"/>
<rect x="349.0" y="105.80" width="1.0" height="10.60" fill="#000082"/>
<rect x="350.0" y="105.80" width="1.0" height="10.60" fill="#000078"/>
<rect x="351.0" y="105.80" width="1.0" height="10.60" fill="#00007c"/>
<rect x="352.0" y="105.80" width="1.0" height="10.60" fill="#00007d"/>
<rect x="353.0" y="105.80" width="1.0" height="10.60" fill="#000079"/>
<rect x="354.0" y="105.80" width="1.0" height="10.60" fill="#000072"/>
<rect x="355.0" y="105.80" width="1.0" height="10.60" fill="#00005d"/>
<rect x="356.0" y="105.80" width="1.0" height="10.60" fill="#00006a"/>
<rect x="357.0" y="105.80" width="2.0" height="10.60" fill="#000092"/>
<rect x="359.0" y="105.80" width="1.0" height="10.60" fill="#0000a9"/>
<rect x="360.0" y="105.80" width="1.0" height="10.60" fill="#0000ab"/>
<rect x="361.0" y="105.80" width="1.0" height="10.60" fill="#00005b"/>
<rect x="362.0" y="105.80" width="1.0" height="10.60" fill="#2d0000"/>
<rect x="363.0" y="105.80" width="1.0" height="10.60" fill="#000001"/>
<rect x="364.0" y="105.80" width="1.0" height="10.60" fill="#000003"/>
<rect x="365.0" y="105.80" width="1.0" height="10.60" fill="#5c0000"/>
<rect x="366.0" y="105.80" width="1.0" height="10.60" fill="#810000"/>
<rect x="367.0" y="105.80" width="1.0" height="10.60" fill="#930000"/>
<rect x="368.0" y="105.80" width="1.0" height="10.60" fill="#c40000"/>
<rect x="369.0" y="105.80" width="1.0" height="10.60" fill="#db0000"/>
<rect x="370.0" y="105.80" width="1.0" height="10.60" fill="#eb0000"/>
<rect x="371.0" y="105.80" width="1.0" height="10.60" fill="#ef0000"/>
<rect x="372.0" y="105.80" width="1.0" height="10.60" fill="#d70000"/>
<rect x="373.0" y="105.80" width="1.0" height="10.60" fill="#910000"/>
<rect x="374.0" y="105.80" width="1.0" height="10.60" fill="#850000"/>
<rect x="375.0" y="105.80" width="1.0" height="10.60" fill="#8d0000"/>
<rect x="376.0" y="105.80" width="1.0" height="10.60" fill="#6a0000"/>
<rect x="377.0" y="105.80" width="1.0" height="10.60" fill="#810000"/>
<rect x="378.0" y="105.80" width="1.0" height="10.60" fill="#bd0000"/>
<rect x="379.0" y="105.80" width="1.0" height="10.60" fill="#b40000"/>
<rect x="380.0" y="105.80" width="1.0" height="10.60" fill="#900000"/>
<rect x="381.0" y="105.80" width="1.0" height="10.60" fill="#7b0000"/>
<rect x="382.0" y="105.80" width="2.0" height="10.60" fill="#770000"/>
<rect x="384.0" y="105.80" width="1.0" height="10.60" fill="#6b0000"/>
<rect x="385.0" y="105.80" width="1.0" height="10.60" fill="#6c0000"/>
<rect x="386.0" y="105.80" width="1.0" height="10.60" fill="#700000"/>
<rect x="387.0" y="105.80" width="1.0" height="10.60" fill="#7a0000"/>
<rect x="388.0" y="105.80" width="1.0" height="10.60" fill="#850000"/>
<rect x="389.0" y="105.80" width="1.0" height="10.60" fill="#750000"/>
<rect x="390.0" y="105.80" width="1.0" height="10.60" fill="#5e0000"/>
<rect x="391.0" y="105.80" width="1.0" height="10.60" fill="#920000"/>
<rect x="392.0" y="105.80" width="1.0" height="10.60" fill="#980000"/>
<rect x="393.0" y="105.80" width="1.0" height="10.60" fill="#790000"/>
<rect x="394.0" y="105.80" width="1.0" height="10.60" fill="#920000"/>
<rect x="395.0" y="105.80" width="1.0" height="10.60" fill="#880000"/>
<rect x="396.0" y="105.80" width="1.0" height="10.60" fill="#8e0000"/>
<rect x="397.0" y="105.80" width="1.0" height="10.60" fill="#8c0000"/>
<rect x="398.0" y="105.80" width="1.0" height="10.60" fill="#a30000"/>
<rect x="399.0" y="105.80" width="1.0" height="10.60" fill="#a20000"/>
<rect x="400.0" y="105.80" width="1.0" height="10.60" fill="#9a0000"/>
<rect x="401.0" y="105.80" width="1.0" height="10.60" fill="#9d0000"/>
<rect x="402.0" y="105.80" width="1.0" height="10.60" fill="#b60000"/>
<rect x="403.0" y="105.80" width="1.0" height="10.60" fill="#8c0000"/>
<rect x="404.0" y="105.80" width="1.0" height="10.60" fill="#8e0000"/>
<rect x="405.0" y="105.80" width="1.0" height="10.60" fill="#bc0000"/>
<rect x="406.0" y="105.80" width="1.0" height="10.60" fill="#9b0000"/>
<rect x="407.0" y="105.80" width="1.0" height="10.60" fill="#870000"/>
<rect x="408.0" y="105.80" width="1.0" height="10.60" fill="#800000"/>
<rect x="409.0" y="105.80" width="1.0" height="10.60" fill="#7b0000"/>
<rect x="410.0" y="105.80" width="1.0" height="10.60" fill="#6c0000"/>
<rect x="411.0" y="105.80" width="1.0" height="10.60" fill="#6a0000"/>
<rect x="412.0" y="105.80" width="1.0" height="10.60" fill="#8b0000"/>
<rect x="413.0" y="105.80" width="2.0" height="10.60" fill="#8a0000"/>
<rect x="415.0" y="105.80" width="2.0" height="10.60" fill="#990000"/>
<rect x="417.0" y="105.80" width="1.0" height="10.60" fill="#610000"/>
<rect x="418.0" y="105.80" width="1.0" height="10.60" fill="#000000"/>
<rect x="419.0" y="105.80" width="1.0" height="10.60" fill="#310000"/>
<rect x="420.0" y="105.80" width="1.0" height="10.60" fill="#470000"/>
<rect x="421.0" y="105.80" width="1.0" height="10.60" fill="#510000"/>
<rect x="422.0" y="105.80" width="1.0" height="10.60" fill="#690000"/>
<rect x="423.0" y="105.80" width="1.0" height="10.60" fill="#6b0000"/>
<rect x="424.0" y="105.80" width="1.0" height="10.60" fill="#670000"/>
<rect x="425.0" y="105.80" width="1.0" height="10.60" fill="#410000"/>
<rect x="426.0" y="105.80" width="0.3" height="10.60" fill="#00001a"/>
<rect x="243.7" y="116.40" width="0.3" height="10.60" fill="#210000"/>
<rect x="244.0" y="116.40" width="1.0" height="10.60" fill="#000004"/>
<rect x="245.0" y="116.40" width="1.0" height="10.60" fill="#000002"/>
<rect x="246.0" y="116.40" width="1.0" height="10.60" fill="#000023"/>
<rect x="247.0" y="116.40" width="1.0" height="10.60" fill="#00001b"/>
<rect x="248.0" y="116.40" width="1.0" height="10.60" fill="#00004c"/>
<rect x="249.0" y="116.40" width="1.0" height="10.60" fill="#000048"/>
<rect x="250.0" y="116.40" width="1.0" height="10.60" fill="#040000"/>
<rect x="251.0" y="116.40" width="1.0" height="10.60" fill="#270000"/>
<rect x="252.0" y="116.40" width="1.0" height="10.60" fill="#400000"/>
<rect x="253.0" y="116.40" width="1.0" height="10.60" fill="#3e0000"/>
<rect x="254.0" y="116.40" width="1.0" height="10.60" fill="#000000"/>
<rect x="255.0" y="116.40" width="1.0" height="10.60" fill="#000061"/>
<rect x="256.0" y="116.40" width="1.0" height="10.60" fill="#000073"/>
<rect x="257.0" y="116.40" width="1.0" height="10.60" fill="#000054"/>
<rect x="258.0" y="116.40" width="1.0" height="10.60" fill="#000046"/>
<rect x="259.0" y="116.40" width="1.0" height="10.60" fill="#00003e"/>
<rect x="260.0" y="116.40" width="1.0" height="10.60" fill="#00004b"/>
<rect x="261.0" y="116.40" width="2.0" height="10.60" fill="#00007a"/>
<rect x="263.0" y="116.40" width="1.0" height="10.60" fill="#000042"/>
<rect x="264.0" y="116.40" width="1.0" height="10.60" fill="#000017"/>
<rect x="265.0" y="116.40" width="1.0" height="10.60" fill="#060000"/>
<rect x="266.0" y="116.40" width="1.0" height="10.60" fill="#00000c"/>
<rect x="267.0" y="116.40" width="1.0" height="10.60" fill="#00001a"/>
<rect x="268.0" y="116.40" width="1.0" height="10.60" fill="#000013"/>
<rect x="269.0" y="116.40" width="1.0" height="10.60" fill="#230000"/>
<rect x="270.0" y="116.40" width="1.0" height="10.60" fill="#300000"/>
<rect x="271.0" y="116.40" width="1.0" height="10.60" fill="#240000"/>
<rect x="272.0" y="116.40" width="1.0" height="10.60" fill="#390000"/>
<rect x="273.0" y="116.40" width="1.0" height="10.60" fill="#270000"/>
<rect x="274.0" y="116.40" width="1.0" height="10.60" fill="#000026"/>
<rect x="275.0" y="116.40" width="1.0" height="10.60" fill="#000027"/>
<rect x="276.0" y="116.40" width="1.0" height="10.60" fill="#000002"/>
<rect x="277.0" y="116.40" width="1.0" height="10.60" fill="#00001b"/>
<rect x="278.0" y="116.40" width="1.0" height="10.60" fill="#000023"/>
<rect x="279.0" y="116.40" width="1.0" height="10.60" fill="#00001a"/>
<rect x="280.0" y="116.40" width="1.0" height="10.60" fill="#000032"/>
<rect x="281.0" y="116.40" width="1.0" height="10.60" fill="#00003f"/>
<rect x="282.0" y="116.40" width="1.0" height="10.60" fill="#00003c"/>
<rect x="283.0" y="116.40" width="1.0" height="10.60" fill="#000026"/>
<rect x="284.0" y="116.40" width="1.0" height="10.60" fill="#000035"/>
<rect x="285.0" y="116.40" width="2.0" height="10.60" fill="#000000"/>
<rect x="287.0" y="116.40" width="1.0" height="10.60" fill="#120000"/>
<rect x="288.0" y="116.40" width="1.0" height="10.60" fill="#440000"/>
<rect x="289.0" y="116.40" width="1.0" height="10.60" fill="#400000"/>
<rect x="290.0" y="116.40" width="1.0" height="10.60" fill="#3c0000"/>
<rect x="291.0" y="116.40" width="1.0" height="10.60" fill="#240000"/>
<rect x="292.0" y="116.40" width="1.0" height="10.60" fill="#000029"/>
<rect x="293.0" y="116.40" width="1.0" height="10.60" fill="#00002f"/>
<rect x="294.0" y="116.40" width="1.0" height="10.60" fill="#000023"/>
<rect x="295.0" y="116.40" width="1.0" height="10.60" fill="#000017"/>
<rect x="296.0" y="116.40" width="1.0" height="10.60" fill="#000022"/>
<rect x="297.0" y="116.40" width="1.0" height="10.60" fill="#000040"/>
<rect x="298.0" y="116.40" width="1.0" height="10.60" fill="#000024"/>
<rect x="299.0" y="116.40" width="1.0" height="10.60" fill="#000020"/>
<rect x="300.0" y="116.40" width="1.0" height="10.60" fill="#00001e"/>
<rect x="301.0" y="116.40" width="1.0" height="10.60" fill="#1f0000"/>
<rect x="302.0" y="116.40" width="1.0" height="10.60" fill="#3c0000"/>
<rect x="303.0" y="116.40" width="1.0" height="10.60" fill="#360000"/>
<rect x="304.0" y="116.40" width="1.0" height="10.60" fill="#1a0000"/>
<rect x="305.0" y="116.40" width="1.0" height="10.60" fill="#1b0000"/>
<rect x="306.0" y="116.40" width="1.0" height="10.60" fill="#1c0000"/>
<rect x="307.0" y="116.40" width="1.0" height="10.60" fill="#000018"/>
<rect x="308.0" y="116.40" width="1.0" height="10.60" fill="#1d0000"/>
<rect x="309.0" y="116.40" width="1.0" height="10.60" fill="#210000"/>
<rect x="310.0" y="116.40" width="1.0" height="10.60" fill="#000009"/>
<rect x="311.0" y="116.40" width="1.0" height="10.60" fill="#340000"/>
<rect x="312.0" y="116.40" width="1.0" height="10.60" fill="#220000"/>
<rect x="313.0" y="116.40" width="1.0" height="10.60" fill="#000080"/>
<rect x="314.0" y="116.40" width="1.0" height="10.60" fill="#000096"/>
<rect x="315.0" y="116.40" width="1.0" height="10.60" fill="#000034"/>
<rect x="316.0" y="116.40" width="1.0" height="10.60" fill="#000017"/>
<rect x="317.0" y="116.40" width="1.0" height="10.60" fill="#000021"/>
<rect x="318.0" y="116.40" width="1.0" height="10.60" fill="#00002a"/>
<rect x="319.0" y="116.40" width="1.0" height="10.60" fill="#00003e"/>
<rect x="320.0" y="116.40" width="1.0" height="10.60" fill="#00004e"/>
<rect x="321.0" y="116.40" width="1.0" height="10.60" fill="#000050"/>
<rect x="322.0" y="116.40" width="1.0" height="10.60" fill="#00002f"/>
<rect x="323.0" y="116.40" width="1.0" height="10.60" fill="#300000"/>
<rect x="324.0" y="116.40" width="1.0" height="10.60" fill="#400000"/>
<rect x="325.0" y="116.40" width="1.0" height="10.60" fill="#050000"/>
<rect x="326.0" y="116.40" width="1.0" height="10.60" fill="#00002b"/>
<rect x="327.0" y="116.40" width="1.0" height="10.60" fill="#000025"/>
<rect x="328.0" y="116.40" width="1.0" height="10.60" fill="#170000"/>
<rect x="329.0" y="116.40" width="1.0" height="10.60" fill="#290000"/>
<rect x="330.0" y="116.40" width="1.0" height="10.60" fill="#000007"/>
<rect x="331.0" y="116.40" width="1.0" height="10.60" fill="#00000c"/>
<rect x="332.0" y="116.40" width="1.0" height="10.60" fill="#1a0000"/>
<rect x="333.0" y="116.40" width="1.0" height="10.60" fill="#1d0000"/>
<rect x="334.0" y="116.40" width="1.0" height="10.60" fill="#00000d"/>
<rect x="335.0" y="116.40" width="1.0" height="10.60" fill="#000036"/>
<rect x="336.0" y="116.40" width="1.0" height="10.60" fill="#000034"/>
<rect x="337.0" y="116.40" width="1.0" height="10.60" fill="#000027"/>
<rect x="338.0" y="116.40" width="1.0" height="10.60" fill="#00000d"/>
<rect x="339.0" y="116.40" width="1.0" height="10.60" fill="#00000e"/>
<rect x="340.0" y="116.40" width="1.0" height="10.60" fill="#00002b"/>
<rect x="341.0" y="116.40" width="1.0" height="10.60" fill="#00001e"/>
<rect x="342.0" y="116.40" width="1.0" height="10.60" fill="#000020"/>
<rect x="343.0" y="116.40" width="1.0" height="10.60" fill="#000028"/>
<rect x="344.0" y="116.40" width="1.0" height="10.60" fill="#000035"/>
<rect x="345.0" y="116.40" width="1.0" height="10.60" fill="#000040"/>
<rect x="346.0" y="116.40" width="1.0" height="10.60" fill="#000057"/>
<rect x="347.0" y="116.40" width="1.0" height="10.60" fill="#00005b"/>
<rect x="348.0" y="116.40" width="1.0" height="10.60" fill="#000052"/>
<rect x="349.0" y="116.40" width="1.0" height="10.60" fill="#00005e"/>
<rect x="350.0" y="116.40" width="1.0" height="10.60" fill="#000089"/>
<rect x="351.0" y="116.40" width="1.0" height="10.60" fill="#00008c"/>
<rect x="352.0" y="116.40" width="1.0" height="10.60" fill="#000075"/>
<rect x="353.0" y="116.40" width="1.0" height="10.60" fill="#000060"/>
<rect x="354.0" y="116.40" width="1.0" height="10.60" fill="#000043"/>
<rect x="355.0" y="116.40" width="1.0" height="10.60" fill="#000057"/>
<rect x="356.0" y="116.40" width="1.0" height="10.60" fill="#000051"/>
<rect x="357.0" y="116.40" width="1.0" height="10.60" fill="#000059"/>
<rect x="358.0" y="116.40" width="1.0" height="10.60" fill="#000075"/>
<rect x="359.0" y="116.40" width="1.0" height="10.60" fill="#000057"/>
<rect x="360.0" y="116.40" width="1.0" height="10.60" fill="#000034"/>
<rect x="361.0" y="116.40" width="1.0" height="10.60" fill="#4d0000"/>
<rect x="362.0" y="116.40" width="1.0" height="10.60" fill="#700000"/>
<rect x="363.0" y="116.40" width="1.0" height="10.60" fill="#530000"/>
<rect x="364.0" y="116.40" width="1.0" height="10.60" fill="#560000"/>
<rect x="365.0" y="116.40" width="1.0" height="10.60" fill="#5c0000"/>
<rect x="366.0" y="116.40" width="1.0" height="10.60" fill="#760000"/>
<rect x="367.0" y="116.40" width="1.0" height="10.60" fill="#830000"/>
<rect x="368.0" y="116.40" width="1.0" height="10.60" fill="#780000"/>
<rect x="369.0" y="116.40" width="1.0" height="10.60" fill="#4c0000"/>
<rect x="370.0" y="116.40" width="1.0" height="10.60" fill="#520000"/>
<rect x="371.0" y="116.40" width="1.0" height="10.60" fill="#6c0000"/>
<rect x="372.0" y="116.40" width="1.0" height="10.60" fill="#970000"/>
<rect x="373.0" y="116.40" width="1.0" height="10.60" fill="#840000"/>
<rect x="374.0" y="116.40" width="1.0" height="10.60" fill="#5b0000"/>
<rect x="375.0" y="116.40" width="1.0" height="10.60" fill="#1c0000"/>
<rect x="376.0" y="116.40" width="1.0" height="10.60" fill="#470000"/>
<rect x="377.0" y="116.40" width="1.0" height="10.60" fill="#480000"/>
<rect x="378.0" y="116.40" width="1.0" height="10.60" fill="#0d0000"/>
<rect x="379.0" y="116.40" width="1.0" height="10.60" fill="#130000"/>
<rect x="380.0" y="116.40" width="1.0" height="10.60" fill="#00000a"/>
<rect x="381.0" y="116.40" width="1.0" height="10.60" fill="#000084"/>
<rect x="382.0" y="116.40" width="1.0" height="10.60" fill="#0000ad"/>
<rect x="383.0" y="116.40" width="1.0" height="10.60" fill="#0000b2"/>
<rect x="384.0" y="116.40" width="1.0" height="10.60" fill="#00009f"/>
<rect x="385.0" y="116.40" width="1.0" height="10.60" fill="#000069"/>
<rect x="386.0" y="116.40" width="1.0" height="10.60" fill="#00004d"/>
<rect x="387.0" y="116.40" width="1.0" height="10.60" fill="#00001f"/>
<rect x="388.0" y="116.40" width="1.0" height="10.60" fill="#00002d"/>
<rect x="389.0" y="116.40" width="1.0" height="10.60" fill="#000040"/>
<rect x="390.0" y="116.40" width="1.0" height="10.60" fill="#00003c"/>
<rect x="391.0" y="116.40" width="1.0" height="10.60" fill="#000028"/>
<rect x="392.0" y="116.40" width="1.0" height="10.60" fill="#00000b"/>
<rect x="393.0" y="116.40" width="1.0" height="10.60" fill="#370000"/>
<rect x="394.0" y="116.40" width="1.0" height="10.60" fill="#3f0000"/>
<rect x="395.0" y="116.40" width="1.0" height="10.60" fill="#1d0000"/>
<rect x="396.0" y="116.40" width="1.0" height="10.60" fill="#160000"/>
<rect x="397.0" y="116.40" width="1.0" height="10.60" fill="#210000"/>
<rect x="398.0" y="116.40" width="1.0" height="10.60" fill="#260000"/>
<rect x="399.0" y="116.40" width="1.0" height="10.60" fill="#280000"/>
<rect x="400.0" y="116.40" width="1.0" height="10.60" fill="#2b0000"/>
<rect x="401.0" y="116.40" width="1.0" height="10.60" fill="#2a0000"/>
<rect x="402.0" y="116.40" width="1.0" height="10.60" fill="#360000"/>
<rect x="403.0" y="116.40" width="1.0" height="10.60" fill="#2f0000"/>
<rect x="404.0" y="116.40" width="1.0" height="10.60" fill="#1e0000"/>
<rect x="405.0" y="116.40" width="1.0" height="10.60" fill="#470000"/>
<rect x="406.0" y="116.40" width="1.0" height="10.60" fill="#3b0000"/>
<rect x="407.0" y="116.40" width="1.0" height="10.60" fill="#000016"/>
<rect x="408.0" y="116.40" width="1.0" height="10.60" fill="#000006"/>
<rect x="409.0" y="116.40" width="1.0" height="10.60" fill="#150000"/>
<rect x="410.0" y="116.40" width="1.0" height="10.60" fill="#1b0000"/>
<rect x="411.0" y="116.40" width="1.0" height="10.60" fill="#280000"/>
<rect x="412.0" y="116.40" width="1.0" height="10.60" fill="#200000"/>
<rect x="413.0" y="116.40" width="1.0" height="10.60" fill="#00004a"/>
<rect x="414.0" y="116.40" width="1.0" height="10.60" fill="#00005a"/>
<rect x="415.0" y="116.40" width="1.0" height="10.60" fill="#160000"/>
<rect x="416.0" y="116.40" width="1.0" height="10.60" fill="#410000"/>
<rect x="417.0" y="116.40" width="1.0" height="10.60" fill="#4e0000"/>
<rect x="418.0" y="116.40" width="1.0" height="10.60" fill="#4b0000"/>
<rect x="419.0" y="116.40" width="1.0" height="10.60" fill="#060000"/>
<rect x="420.0" y="116.40" width="1.0" height="10.60" fill="#000092"/>
<rect x="421.0" y="116.40" width="1.0" height="10.60" fill="#000093"/>
<rect x="422.0" y="116.40" width="1.0" height="10.60" fill="#000026"/>
<rect x="423.0" y="116.40" width="1.0" height="10.60" fill="#000062"/>
<rect x="424.0" y="116.40" width="1.0" height="10.60" fill="#00008c"/>
<rect x="425.0" y="116.40" width="1.0" height="10.60" fill="#0000a1"/>
<rect x="426.0" y="116.40" width="0.3" height="10.60" fill="#0000ad"/>
<rect x="243.7" y="127.00" width="0.3" height="10.60" fill="#0000a2"/>
<rect x="244.0" y="127.00" width="1.0" height="10.60" fill="#000091"/>
<rect x="245.0" y="127.00" width="1.0" height="10.60" fill="#00007a"/>
<rect x="246.0" y="127.00" width="1.0" height="10.60" fill="#00004c"/>
<rect x="247.0" y="127.00" width="1.0" height="10.60" fill="#000050"/>
<rect x="248.0" y="127.00" width="1.0" height="10.60" fill="#000052"/>
<rect x="249.0" y="127.00" width="1.0" height="10.60" fill="#00004d"/>
<rect x="250.0" y="127.00" width="1.0" height="10.60" fill="#000073"/>
<rect x="251.0" y="127.00" width="1.0" height="10.60" fill="#000084"/>
<rect x="252.0" y="127.00" width="1.0" height="10.60" fill="#000081"/>
<rect x="253.0" y="127.00" width="1.0" height="10.60" fill="#000077"/>
<rect x="254.0" y="127.00" width="1.0" height="10.60" fill="#000080"/>
<rect x="255.0" y="127.00" width="1.0" height="10.60" fill="#00009a"/>
<rect x="256.0" y="127.00" width="1.0" height="10.60" fill="#000093"/>
<rect x="257.0" y="127.00" width="1.0" height="10.60" fill="#000088"/>
<rect x="258.0" y="127.00" width="1.0" height="10.60" fill="#00007d"/>
<rect x="259.0" y="127.00" width="1.0" height="10.60" fill="#000081"/>
<rect x="260.0" y="127.00" width="1.0" height="10.60" fill="#00007e"/>
<rect x="261.0" y="127.00" width="1.0" height="10.60" fill="#00008f"/>
<rect x="262.0" y="127.00" width="1.0" height="10.60" fill="#000091"/>
<rect x="263.0" y="127.00" width="1.0" height="10.60" fill="#00008c"/>
<rect x="264.0" y="127.00" width="1.0" height="10.60" fill="#000074"/>
<rect x="265.0" y="127.00" width="1.0" height="10.60" fill="#000049"/>
<rect x="266.0" y="127.00" width="1.0" height="10.60" fill="#000044"/>
<rect x="267.0" y="127.00" width="1.0" height="10.60" fill="#00004a"/>
<rect x="268.0" y="127.00" width="1.0" height="10.60" fill="#00002c"/>
<rect x="269.0" y="127.00" width="1.0" height="10.60" fill="#000041"/>
<rect x="270.0" y="127.00" width="1.0" height="10.60" fill="#000068"/>
<rect x="271.0" y="127.00" width="2.0" height="10.60" fill="#00006f"/>
<rect x="273.0" y="127.00" width="1.0" height="10.60" fill="#000086"/>
<rect x="274.0" y="127.00" width="1.0" height="10.60" fill="#000084"/>
<rect x="275.0" y="127.00" width="1.0" height="10.60" fill="#000085"/>
<rect x="276.0" y="127.00" width="1.0" height="10.60" fill="#000093"/>
<rect x="277.0" y="127.00" width="1.0" height="10.60" fill="#000091"/>
<rect x="278.0" y="127.00" width="1.0" height="10.60" fill="#00007a"/>
<rect x="279.0" y="127.00" width="1.0" height="10.60" fill="#00005f"/>
<rect x="280.0" y="127.00" width="1.0" height="10.60" fill="#000035"/>
<rect x="281.0" y="127.00" width="1.0" height="10.60" fill="#000048"/>
<rect x="282.0" y="127.00" width="1.0" height="10.60" fill="#000065"/>
<rect x="283.0" y="127.00" width="1.0" height="10.60" fill="#000097"/>
<rect x="284.0" y="127.00" width="1.0" height="10.60" fill="#000089"/>
<rect x="285.0" y="127.00" width="1.0" height="10.60" fill="#000034"/>
<rect x="286.0" y="127.00" width="1.0" height="10.60" fill="#000031"/>
<rect x="287.0" y="127.00" width="1.0" height="10.60" fill="#000043"/>
<rect x="288.0" y="127.00" width="1.0" height="10.60" fill="#000015"/>
<rect x="289.0" y="127.00" width="1.0" height="10.60" fill="#00001d"/>
<rect x="290.0" y="127.00" width="1.0" height="10.60" fill="#000072"/>
<rect x="291.0" y="127.00" width="1.0" height="10.60" fill="#000090"/>
<rect x="292.0" y="127.00" width="1.0" height="10.60" fill="#00007c"/>
<rect x="293.0" y="127.00" width="1.0" height="10.60" fill="#000074"/>
<rect x="294.0" y="127.00" width="1.0" height="10.60" fill="#000079"/>
<rect x="295.0" y="127.00" width="1.0" height="10.60" fill="#000083"/>
<rect x="296.0" y="127.00" width="1.0" height="10.60" fill="#00007d"/>
<rect x="297.0" y="127.00" width="1.0" height="10.60" fill="#00007b"/>
<rect x="298.0" y="127.00" width="1.0" height="10.60" fill="#000084"/>
<rect x="299.0" y="127.00" width="1.0" height="10.60" fill="#000094"/>
<rect x="300.0" y="127.00" width="1.0" height="10.60" fill="#000084"/>
<rect x="301.0" y="127.00" width="1.0" height="10.60" fill="#000080"/>
<rect x="302.0" y="127.00" width="1.0" height="10.60" fill="#000067"/>
<rect x="303.0" y="127.00" width="1.0" height="10.60" fill="#040000"/>
<rect x="304.0" y="127.00" width="1.0" height="10.60" fill="#070000"/>
<rect x="305.0" y="127.00" width="1.0" height="10.60" fill="#00005f"/>
<rect x="306.0" y="127.00" width="1.0" height="10.60" fill="#00007e"/>
<rect x="307.0" y="127.00" width="1.0" height="10.60" fill="#00006c"/>
<rect x="308.0" y="127.00" width="1.0" height="10.60" fill="#000055"/>
<rect x="309.0" y="127.00" width="1.0" height="10.60" fill="#000059"/>
<rect x="310.0" y="127.00" width="1.0" height="10.60" fill="#000079"/>
<rect x="311.0" y="127.00" width="1.0" height="10.60" fill="#000083"/>
<rect x="312.0" y="127.00" width="1.0" height="10.60" fill="#000077"/>
<rect x="313.0" y="127.00" width="1.0" height="10.60" fill="#000054"/>
<rect x="314.0" y="127.00" width="1.0" height="10.60" fill="#00003b"/>
<rect x="315.0" y="127.00" width="1.0" height="10.60" fill="#000021"/>
<rect x="316.0" y="127.00" width="1.0" height="10.60" fill="#000040"/>
<rect x="317.0" y="127.00" width="1.0" height="10.60" fill="#000039"/>
<rect x="318.0" y="127.00" width="1.0" height="10.60" fill="#000034"/>
<rect x="319.0" y="127.00" width="1.0" height="10.60" fill="#00003f"/>
<rect x="320.0" y="127.00" width="1.0" height="10.60" fill="#00004b"/>
<rect x="321.0" y="127.00" width="1.0" height="10.60" fill="#000056"/>
<rect x="322.0" y="127.00" width="1.0" height="10.60" fill="#000067"/>
<rect x="323.0" y="127.00" width="1.0" height="10.60" fill="#00005a"/>
<rect x="324.0" y="127.00" width="1.0" height="10.60" fill="#000048"/>
<rect x="325.0" y="127.00" width="1.0" height="10.60" fill="#000036"/>
<rect x="326.0" y="127.00" width="1.0" height="10.60" fill="#000057"/>
<rect x="327.0" y="127.00" width="1.0" height="10.60" fill="#00005a"/>
<rect x="328.0" y="127.00" width="1.0" height="10.60" fill="#00005f"/>
<rect x="329.0" y="127.00" width="1.0" height="10.60" fill="#000049"/>
<rect x="330.0" y="127.00" width="1.0" height="10.60" fill="#4e0000"/>
<rect x="331.0" y="127.00" width="1.0" height="10.60" fill="#9d0000"/>
<rect x="332.0" y="127.00" width="1.0" height="10.60" fill="#960000"/>
<rect x="333.0" y="127.00" width="1.0" height="10.60" fill="#600000"/>
<rect x="334.0" y="127.00" width="1.0" height="10.60" fill="#540000"/>
<rect x="335.0" y="127.00" width="1.0" height="10.60" fill="#790000"/>
<rect x="336.0" y="127.00" width="1.0" height="10.60" fill="#850000"/>
<rect x="337.0" y="127.00" width="1.0" height="10.60" fill="#540000"/>
<rect x="338.0" y="127.00" width="1.0" height="10.60" fill="#000036"/>
<rect x="339.0" y="127.00" width="1.0" height="10.60" fill="#000073"/>
<rect x="340.0" y="127.00" width="1.0" height="10.60" fill="#000070"/>
<rect x="341.0" y="127.00" width="1.0" height="10.60" fill="#000061"/>
<rect x="342.0" y="127.00" width="1.0" height="10.60" fill="#000071"/>
<rect x="343.0" y="127.00" width="1.0" height="10.60" fill="#000078"/>
<rect x="344.0" y="127.00" width="1.0" height="10.60" fill="#000077"/>
<rect x="345.0" y="127.00" width="1.0" height="10.60" fill="#000075"/>
<rect x="346.0" y="127.00" width="1.0" height="10.60" fill="#000072"/>
<rect x="347.0" y="127.00" width="1.0" height="10.60" fill="#000078"/>
<rect x="348.0" y="127.00" width="1.0" height="10.60" fill="#000082"/>
<rect x="349.0" y="127.00" width="1.0" height="10.60" fill="#00007c"/>
<rect x="350.0" y="127.00" width="1.0" height="10.60" fill="#000063"/>
<rect x="351.0" y="127.00" width="1.0" height="10.60" fill="#000051"/>
<rect x="352.0" y="127.00" width="1.0" height="10.60" fill="#000036"/>
<rect x="353.0" y="127.00" width="1.0" height="10.60" fill="#00002f"/>
<rect x="354.0" y="127.00" width="1.0" height="10.60" fill="#00003b"/>
<rect x="355.0" y="127.00" width="1.0" height="10.60" fill="#000064"/>
<rect x="356.0" y="127.00" width="1.0" height="10.60" fill="#00008e"/>
<rect x="357.0" y="127.00" width="1.0" height="10.60" fill="#000058"/>
<rect x="358.0" y="127.00" width="1.0" height="10.60" fill="#140000"/>
<rect x="359.0" y="127.00" width="1.0" height="10.60" fill="#8c0000"/>
<rect x="360.0" y="127.00" width="1.0" height="10.60" fill="#9d0000"/>
<rect x="361.0" y="127.00" width="1.0" height="10.60" fill="#890000"/>
<rect x="362.0" y="127.00" width="1.0" height="10.60" fill="#640000"/>
<rect x="363.0" y="127.00" width="1.0" height="10.60" fill="#510000"/>
<rect x="364.0" y="127.00" width="1.0" height="10.60" fill="#560000"/>
<rect x="365.0" y="127.00" width="1.0" height="10.60" fill="#8b0000"/>
<rect x="366.0" y="127.00" width="1.0" height="10.60" fill="#720000"/>
<rect x="367.0" y="127.00" width="1.0" height="10.60" fill="#290000"/>
<rect x="368.0" y="127.00" width="1.0" height="10.60" fill="#2f0000"/>
<rect x="369.0" y="127.00" width="1.0" height="10.60" fill="#4a0000"/>
<rect x="370.0" y="127.00" width="1.0" height="10.60" fill="#6d0000"/>
<rect x="371.0" y="127.00" width="1.0" height="10.60" fill="#500000"/>
<rect x="372.0" y="127.00" width="1.0" height="10.60" fill="#460000"/>
<rect x="373.0" y="127.00" width="1.0" height="10.60" fill="#350000"/>
<rect x="374.0" y="127.00" width="1.0" height="10.60" fill="#300000"/>
<rect x="375.0" y="127.00" width="1.0" height="10.60" fill="#620000"/>
<rect x="376.0" y="127.00" width="1.0" height="10.60" fill="#700000"/>
<rect x="377.0" y="127.00" width="1.0" height="10.60" fill="#610000"/>
<rect x="378.0" y="127.00" width="1.0" height="10.60" fill="#4d0000"/>
<rect x="379.0" y="127.00" width="1.0" height="10.60" fill="#470000"/>
<rect x="380.0" y="127.00" width="1.0" height="10.60" fill="#440000"/>
<rect x="381.0" y="127.00" width="1.0" height="10.60" fill="#370000"/>
<rect x="382.0" y="127.00" width="1.0" height="10.60" fill="#390000"/>
<rect x="383.0" y="127.00" width="1.0" height="10.60" fill="#830000"/>
<rect x="384.0" y="127.00" width="1.0" height="10.60" fill="#a70000"/>
<rect x="385.0" y="127.00" width="1.0" height="10.60" fill="#7a0000"/>
<rect x="386.0" y="127.00" width="1.0" height="10.60" fill="#6e0000"/>
<rect x="387.0" y="127.00" width="1.0" height="10.60" fill="#760000"/>
<rect x="388.0" y="127.00" width="1.0" height="10.60" fill="#6f0000"/>
<rect x="389.0" y="127.00" width="1.0" height="10.60" fill="#330000"/>
<rect x="390.0" y="127.00" width="1.0" height="10.60" fill="#2e0000"/>
<rect x="391.0" y="127.00" width="1.0" height="10.60" fill="#2d0000"/>
<rect x="392.0" y="127.00" width="1.0" height="10.60" fill="#000060"/>
<rect x="393.0" y="127.00" width="1.0" height="10.60" fill="#000098"/>
<rect x="394.0" y="127.00" width="1.0" height="10.60" fill="#00008b"/>
<rect x="395.0" y="127.00" width="1.0" height="10.60" fill="#000078"/>
<rect x="396.0" y="127.00" width="1.0" height="10.60" fill="#00009c"/>
<rect x="397.0" y="127.00" width="1.0" height="10.60" fill="#0000a4"/>
<rect x="398.0" y="127.00" width="1.0" height="10.60" fill="#00008c"/>
<rect x="399.0" y="127.00" width="1.0" height="10.60" fill="#000080"/>
<rect x="400.0" y="127.00" width="1.0" height="10.60" fill="#00007a"/>
<rect x="401.0" y="127.00" width="1.0" height="10.60" fill="#000079"/>
<rect x="402.0" y="127.00" width="1.0" height="10.60" fill="#000065"/>
<rect x="403.0" y="127.00" width="1.0" height="10.60" fill="#500000"/>
<rect x="404.0" y="127.00" width="1.0" height="10.60" fill="#990000"/>
<rect x="405.0" y="127.00" width="1.0" height="10.60" fill="#7b0000"/>
<rect x="406.0" y="127.00" width="1.0" height="10.60" fill="#820000"/>
<rect x="407.0" y="127.00" width="1.0" height="10.60" fill="#960000"/>
<rect x="408.0" y="127.00" width="1.0" height="10.60" fill="#bb0000"/>
<rect x="409.0" y="127.00" width="1.0" height="10.60" fill="#ba0000"/>
<rect x="410.0" y="127.00" width="1.0" height="10.60" fill="#a20000"/>
<rect x="411.0" y="127.00" width="1.0" height="10.60" fill="#640000"/>
<rect x="412.0" y="127.00" width="1.0" height="10.60" fill="#00003c"/>
<rect x="413.0" y="127.00" width="1.0" height="10.60" fill="#00006a"/>
<rect x="414.0" y="127.00" width="1.0" height="10.60" fill="#000073"/>
<rect x="415.0" y="127.00" width="1.0" height="10.60" fill="#000076"/>
<rect x="416.0" y="127.00" width="1.0" height="10.60" fill="#000064"/>
<rect x="417.0" y="127.00" width="1.0" height="10.60" fill="#000039"/>
<rect x="418.0" y="127.00" width="1.0" height="10.60" fill="#000037"/>
<rect x="419.0" y="127.00" width="1.0" height="10.60" fill="#00002d"/>
<rect x="420.0" y="127.00" width="1.0" height="10.60" fill="#500000"/>
<rect x="421.0" y="127.00" width="1.0" height="10.60" fill="#670000"/>
<rect x="422.0" y="127.00" width="1.0" height="10.60" fill="#200000"/>
<rect x="423.0" y="127.00" width="1.0" height="10.60" fill="#180000"/>
<rect x="424.0" y="127.00" width="1.0" height="10.60" fill="#3c0000"/>
<rect x="425.0" y="127.00" width="1.0" height="10.60" fill="#280000"/>
<rect x="426.0" y="127.00" width="0.3" height="10.60" fill="#1c0000"/>
</g>
<line x1="243.70" y1="21.00" x2="426.30" y2="21.00" stroke="#5c5c5c" stroke-width="0.6"/>
<line x1="243.70" y1="31.60" x2="426.30" y2="31.60" stroke="#5c5c5c" stroke-width="0.6"/>
<line x1="243.70" y1="42.20" x2="426.30" y2="42.20" stroke="#5c5c5c" stroke-width="0.6"/>
<line x1="243.70" y1="52.80" x2="426.30" y2="52.80" stroke="#5c5c5c" stroke-width="0.6"/>
<line x1="243.70" y1="63.40" x2="426.30" y2="63.40" stroke="#5c5c5c" stroke-width="0.6"/>
<line x1="243.70" y1="74.00" x2="426.30" y2="74.00" stroke="#5c5c5c" stroke-width="0.6"/>
<line x1="243.70" y1="84.60" x2="426.30" y2="84.60" stroke="#5c5c5c" stroke-width="0.6"/>
<line x1="243.70" y1="95.20" x2="426.30" y2="95.20" stroke="#5c5c5c" stroke-width="0.6"/>
<line x1="243.70" y1="105.80" x2="426.30" y2="105.80" stroke="#5c5c5c" stroke-width="0.6"/>
<line x1="243.70" y1="116.40" x2="426.30" y2="116.40" stroke="#5c5c5c" stroke-width="0.6"/>
<line x1="243.70" y1="127.00" x2="426.30" y2="127.00" stroke="#5c5c5c" stroke-width="0.6"/>
<line x1="243.70" y1="137.60" x2="426.30" y2="137.60" stroke="#5c5c5c" stroke-width="0.6"/>
<line x1="235.60" y1="20.40" x2="235.60" y2="138.00" stroke="#555" stroke-width="0.6"/>
<line x1="229.80" y1="20.40" x2="241.30" y2="20.40" stroke="#555" stroke-width="0.6"/>
<line x1="229.80" y1="52.70" x2="241.30" y2="52.70" stroke="#555" stroke-width="0.6"/>
<line x1="229.80" y1="138.00" x2="241.30" y2="138.00" stroke="#555" stroke-width="0.6"/>
<line x1="241.40" y1="26.30" x2="242.60" y2="26.30" stroke="#777" stroke-width="0.4"/>
<line x1="241.40" y1="36.90" x2="242.60" y2="36.90" stroke="#777" stroke-width="0.4"/>
<line x1="241.40" y1="47.50" x2="242.60" y2="47.50" stroke="#777" stroke-width="0.4"/>
<line x1="241.40" y1="58.10" x2="242.60" y2="58.10" stroke="#777" stroke-width="0.4"/>
<line x1="241.40" y1="68.70" x2="242.60" y2="68.70" stroke="#777" stroke-width="0.4"/>
<line x1="241.40" y1="79.30" x2="242.60" y2="79.30" stroke="#777" stroke-width="0.4"/>
<line x1="241.40" y1="89.90" x2="242.60" y2="89.90" stroke="#777" stroke-width="0.4"/>
<line x1="241.40" y1="100.50" x2="242.60" y2="100.50" stroke="#777" stroke-width="0.4"/>
<line x1="241.40" y1="111.10" x2="242.60" y2="111.10" stroke="#777" stroke-width="0.4"/>
<line x1="241.40" y1="121.70" x2="242.60" y2="121.70" stroke="#777" stroke-width="0.4"/>
<line x1="241.40" y1="132.30" x2="242.60" y2="132.30" stroke="#777" stroke-width="0.4"/>
<text x="231.80" y="39.10" font-size="6.72" text-anchor="end" textLength="19.34" lengthAdjust="spacingAndGlyphs" fill="#222">Control</text>
<text x="231.80" y="97.90" font-size="6.72" text-anchor="end" textLength="12.34" lengthAdjust="spacingAndGlyphs" fill="#222">AML</text>
<rect x="443.2" y="55.0" width="6.0" height="82.4" fill="url(#gCB)" stroke="#333" stroke-width="0.35"/>
<text x="452.60" y="58.40" font-size="6.27" textLength="3.11" lengthAdjust="spacingAndGlyphs" fill="#222">1</text>
<text x="452.50" y="99.00" font-size="6.27" textLength="3.11" lengthAdjust="spacingAndGlyphs" fill="#222">0</text>
<text x="451.00" y="139.80" font-size="6.27" textLength="4.98" lengthAdjust="spacingAndGlyphs" fill="#222">-1</text>
<text x="0" y="0" font-size="8.0" fill="#1a1a1a" stroke="#1a1a1a" stroke-width="0.1" transform="translate(437.8,139.0) rotate(-90) scale(0.7261,1)">Differential expression (log2 fold)</text>
<text x="154.90" y="188.90" font-size="6.72" text-anchor="end" textLength="39.02" lengthAdjust="spacingAndGlyphs" fill="#222">EIF2 Signaling</text>
<text x="154.90" y="197.90" font-size="6.72" text-anchor="end" textLength="110.07" lengthAdjust="spacingAndGlyphs" fill="#222">Regulation of eIF4 and p70S6K Signaling</text>
<text x="154.90" y="206.90" font-size="6.72" text-anchor="end" textLength="142.41" lengthAdjust="spacingAndGlyphs" fill="#222">Melanocyte Development and Pigmentation Signaling</text>
<text x="154.90" y="215.90" font-size="6.72" text-anchor="end" textLength="47.70" lengthAdjust="spacingAndGlyphs" fill="#222">p70S6K Signaling</text>
<text x="154.90" y="224.90" font-size="6.72" text-anchor="end" textLength="54.02" lengthAdjust="spacingAndGlyphs" fill="#222">PXR/RXR Activation</text>
<text x="154.90" y="233.90" font-size="6.72" text-anchor="end" textLength="43.91" lengthAdjust="spacingAndGlyphs" fill="#222">mTOR Signaling</text>
<text x="154.90" y="242.90" font-size="6.72" text-anchor="end" textLength="41.68" lengthAdjust="spacingAndGlyphs" fill="#222">IGF-1 Signaling</text>
<text x="154.90" y="251.90" font-size="6.72" text-anchor="end" textLength="71.04" lengthAdjust="spacingAndGlyphs" fill="#222">Leptin Signaling in Obesity</text>
<text x="154.90" y="260.90" font-size="6.72" text-anchor="end" textLength="147.74" lengthAdjust="spacingAndGlyphs" fill="#222">Role of Macrophages, Fibroblasts and Endothelial Cells</text>
<text x="154.90" y="269.90" font-size="6.72" text-anchor="end" textLength="60.36" lengthAdjust="spacingAndGlyphs" fill="#222">in Rheumatoid Arthritis</text>
<text x="154.90" y="278.90" font-size="6.72" text-anchor="end" textLength="92.72" lengthAdjust="spacingAndGlyphs" fill="#222">Adrenomedullin Signaling Pathway</text>
<text x="154.90" y="287.90" font-size="6.72" text-anchor="end" textLength="145.73" lengthAdjust="spacingAndGlyphs" fill="#222">Roles of Osteoblasts, Osteoclasts and Chrondrocyte in</text>
<text x="154.90" y="296.90" font-size="6.72" text-anchor="end" textLength="54.02" lengthAdjust="spacingAndGlyphs" fill="#222">Rheumatoid Arthritis</text>
<text x="154.90" y="305.90" font-size="6.72" text-anchor="end" textLength="127.04" lengthAdjust="spacingAndGlyphs" fill="#222">Nitric Oxide Signaling in Cardiovascular System</text>
<text x="154.90" y="314.90" font-size="6.72" text-anchor="end" textLength="72.92" lengthAdjust="spacingAndGlyphs" fill="#222">Cellular Effects of Sildenafil</text>
<text x="154.90" y="323.90" font-size="6.72" text-anchor="end" textLength="42.69" lengthAdjust="spacingAndGlyphs" fill="#222">eNOS Signaling</text>
<text x="154.90" y="332.90" font-size="6.72" text-anchor="end" textLength="42.69" lengthAdjust="spacingAndGlyphs" fill="#222">VEGF Signaling</text>
<text x="154.90" y="341.90" font-size="6.72" text-anchor="end" textLength="72.05" lengthAdjust="spacingAndGlyphs" fill="#222">Axonal Guidance Signaling</text>
<text x="154.90" y="350.90" font-size="6.72" text-anchor="end" textLength="87.05" lengthAdjust="spacingAndGlyphs" fill="#222">Docosahexaenoic Acid Signaling</text>
<text x="154.90" y="359.90" font-size="6.72" text-anchor="end" textLength="69.70" lengthAdjust="spacingAndGlyphs" fill="#222">Ephrin Receptor Signaling</text>
<text x="154.90" y="368.90" font-size="6.72" text-anchor="end" textLength="129.38" lengthAdjust="spacingAndGlyphs" fill="#222">Hepatic Fibrosis / Hepatic Stellate Cell Activation</text>
<text x="154.90" y="377.90" font-size="6.72" text-anchor="end" textLength="133.06" lengthAdjust="spacingAndGlyphs" fill="#222">Role of JAK1 and JAK3 in F<tspan font-size="4" dy="1">γ</tspan><tspan dy="-1">C Cytokine Signaling</tspan></text>
<rect x="161.90" y="183.90" width="75.20" height="5.60" fill="#6aaa3c"/>
<line x1="158.60" y1="186.70" x2="161.30" y2="186.70" stroke="#222" stroke-width="0.7"/>
<rect x="161.90" y="193.85" width="34.60" height="5.60" fill="#6aaa3c"/>
<line x1="158.60" y1="196.65" x2="161.30" y2="196.65" stroke="#222" stroke-width="0.7"/>
<rect x="161.90" y="203.80" width="19.10" height="5.60" fill="#6aaa3c"/>
<line x1="158.60" y1="206.60" x2="161.30" y2="206.60" stroke="#222" stroke-width="0.7"/>
<rect x="161.90" y="213.75" width="19.10" height="5.60" fill="#6aaa3c"/>
<line x1="158.60" y1="216.55" x2="161.30" y2="216.55" stroke="#222" stroke-width="0.7"/>
<rect x="161.90" y="223.70" width="16.30" height="5.60" fill="#6aaa3c"/>
<line x1="158.60" y1="226.50" x2="161.30" y2="226.50" stroke="#222" stroke-width="0.7"/>
<rect x="161.90" y="233.65" width="24.00" height="5.60" fill="#a8002a"/>
<line x1="158.60" y1="236.45" x2="161.30" y2="236.45" stroke="#222" stroke-width="0.7"/>
<rect x="161.90" y="243.60" width="22.90" height="5.60" fill="#a8002a"/>
<line x1="158.60" y1="246.40" x2="161.30" y2="246.40" stroke="#222" stroke-width="0.7"/>
<rect x="161.90" y="253.55" width="20.80" height="5.60" fill="#a8002a"/>
<line x1="158.60" y1="256.35" x2="161.30" y2="256.35" stroke="#222" stroke-width="0.7"/>
<rect x="161.90" y="263.50" width="20.80" height="5.60" fill="#a8002a"/>
<line x1="158.60" y1="266.30" x2="161.30" y2="266.30" stroke="#222" stroke-width="0.7"/>
<rect x="161.90" y="273.45" width="20.30" height="5.60" fill="#a8002a"/>
<line x1="158.60" y1="276.25" x2="161.30" y2="276.25" stroke="#222" stroke-width="0.7"/>
<rect x="161.90" y="283.40" width="16.75" height="5.60" fill="#a8002a"/>
<line x1="158.60" y1="286.20" x2="161.30" y2="286.20" stroke="#222" stroke-width="0.7"/>
<rect x="161.90" y="293.35" width="29.80" height="5.60" fill="#2b4c8c"/>
<line x1="158.60" y1="296.15" x2="161.30" y2="296.15" stroke="#222" stroke-width="0.7"/>
<rect x="161.90" y="303.30" width="27.80" height="5.60" fill="#2b4c8c"/>
<line x1="158.60" y1="306.10" x2="161.30" y2="306.10" stroke="#222" stroke-width="0.7"/>
<rect x="161.90" y="313.25" width="20.70" height="5.60" fill="#2b4c8c"/>
<line x1="158.60" y1="316.05" x2="161.30" y2="316.05" stroke="#222" stroke-width="0.7"/>
<rect x="161.90" y="323.20" width="16.00" height="5.60" fill="#2b4c8c"/>
<line x1="158.60" y1="326.00" x2="161.30" y2="326.00" stroke="#222" stroke-width="0.7"/>
<rect x="161.90" y="333.15" width="22.00" height="5.60" fill="#4a1d6a"/>
<line x1="158.60" y1="335.95" x2="161.30" y2="335.95" stroke="#222" stroke-width="0.7"/>
<rect x="161.90" y="343.10" width="21.10" height="5.60" fill="#4a1d6a"/>
<line x1="158.60" y1="345.90" x2="161.30" y2="345.90" stroke="#222" stroke-width="0.7"/>
<rect x="161.90" y="353.05" width="16.00" height="5.60" fill="#4a1d6a"/>
<line x1="158.60" y1="355.85" x2="161.30" y2="355.85" stroke="#222" stroke-width="0.7"/>
<rect x="161.90" y="363.00" width="39.00" height="5.60" fill="#e08a1e"/>
<line x1="158.60" y1="365.80" x2="161.30" y2="365.80" stroke="#222" stroke-width="0.7"/>
<rect x="161.90" y="372.95" width="17.00" height="5.60" fill="#e08a1e"/>
<line x1="158.60" y1="375.75" x2="161.30" y2="375.75" stroke="#222" stroke-width="0.7"/>
<line x1="161.50" y1="179.20" x2="161.50" y2="382.60" stroke="#111" stroke-width="0.9"/>
<line x1="161.10" y1="382.30" x2="257.60" y2="382.30" stroke="#111" stroke-width="0.9"/>
<line x1="161.80" y1="382.30" x2="161.80" y2="384.60" stroke="#111" stroke-width="0.7"/>
<text x="161.80" y="395.00" font-size="6.50" text-anchor="middle" textLength="3.23" lengthAdjust="spacingAndGlyphs" fill="#222">0</text>
<line x1="180.32" y1="382.30" x2="180.32" y2="384.60" stroke="#111" stroke-width="0.7"/>
<text x="180.32" y="395.00" font-size="6.50" text-anchor="middle" textLength="3.23" lengthAdjust="spacingAndGlyphs" fill="#222">2</text>
<line x1="198.84" y1="382.30" x2="198.84" y2="384.60" stroke="#111" stroke-width="0.7"/>
<text x="198.84" y="395.00" font-size="6.50" text-anchor="middle" textLength="3.23" lengthAdjust="spacingAndGlyphs" fill="#222">4</text>
<line x1="217.36" y1="382.30" x2="217.36" y2="384.60" stroke="#111" stroke-width="0.7"/>
<text x="217.36" y="395.00" font-size="6.50" text-anchor="middle" textLength="3.23" lengthAdjust="spacingAndGlyphs" fill="#222">6</text>
<line x1="235.88" y1="382.30" x2="235.88" y2="384.60" stroke="#111" stroke-width="0.7"/>
<text x="235.88" y="395.00" font-size="6.50" text-anchor="middle" textLength="3.23" lengthAdjust="spacingAndGlyphs" fill="#222">8</text>
<line x1="254.40" y1="382.30" x2="254.40" y2="384.60" stroke="#111" stroke-width="0.7"/>
<text x="254.40" y="395.00" font-size="6.50" text-anchor="middle" textLength="6.45" lengthAdjust="spacingAndGlyphs" fill="#222">10</text>
<text x="192.90" y="405.40" font-size="7.20" textLength="33.00" lengthAdjust="spacingAndGlyphs" fill="#1a1a1a" stroke="#1a1a1a" stroke-width="0.12">-log(<tspan font-style="italic">p</tspan>-value)</text>
<path d="M240.70,186.50 H243.70 V226.50 H240.70" fill="none" stroke="#6aaa3c" stroke-width="0.9"/>
<path d="M193.40,236.30 H196.40 V286.30 H193.40" fill="none" stroke="#a8002a" stroke-width="0.9"/>
<path d="M193.50,296.00 H196.50 V326.00 H193.50" fill="none" stroke="#2b4c8c" stroke-width="0.9"/>
<path d="M193.50,335.90 H196.50 V356.00 H193.50" fill="none" stroke="#4a1d6a" stroke-width="0.9"/>
<text x="215.80" y="204.90" font-size="5.60" textLength="15.84" lengthAdjust="spacingAndGlyphs" fill="#333">Protein</text>
<text x="215.80" y="211.60" font-size="5.60" textLength="20.84" lengthAdjust="spacingAndGlyphs" fill="#333">synthesis</text>
<text x="199.20" y="260.20" font-size="5.60" textLength="37.51" lengthAdjust="spacingAndGlyphs" fill="#333">MSPC survival &amp;</text>
<text x="199.20" y="266.60" font-size="5.60" textLength="29.93" lengthAdjust="spacingAndGlyphs" fill="#333">differentiation</text>
<text x="199.20" y="313.00" font-size="5.60" textLength="30.02" lengthAdjust="spacingAndGlyphs" fill="#333">Angiogenesis</text>
<text x="199.20" y="344.90" font-size="5.60" textLength="34.73" lengthAdjust="spacingAndGlyphs" fill="#333">Neuron survival</text>
<text x="199.20" y="350.80" font-size="5.60" textLength="34.65" lengthAdjust="spacingAndGlyphs" fill="#333">&amp; differentiation</text>
<line x1="385.60" y1="189.30" x2="357.70" y2="195.30" stroke="#ff2a2a" stroke-width="0.6"/>
<line x1="385.60" y1="189.30" x2="412.20" y2="191.70" stroke="#ff2a2a" stroke-width="0.6"/>
<line x1="385.60" y1="189.30" x2="359.80" y2="363.50" stroke="#ff2a2a" stroke-width="0.6"/>
<line x1="385.60" y1="189.30" x2="338.50" y2="330.20" stroke="#ff2a2a" stroke-width="0.6"/>
<line x1="385.60" y1="189.30" x2="421.00" y2="363.50" stroke="#ff2a2a" stroke-width="0.6"/>
<line x1="385.60" y1="189.30" x2="428.80" y2="356.80" stroke="#ff2a2a" stroke-width="0.6"/>
<line x1="385.60" y1="189.30" x2="442.50" y2="260.00" stroke="#ff2a2a" stroke-width="0.6"/>
<line x1="385.60" y1="189.30" x2="435.70" y2="231.00" stroke="#ff2a2a" stroke-width="0.6"/>
<line x1="412.20" y1="191.70" x2="429.00" y2="208.20" stroke="#ff2a2a" stroke-width="0.6"/>
<line x1="412.20" y1="191.70" x2="442.50" y2="260.00" stroke="#ff2a2a" stroke-width="0.6"/>
<line x1="412.20" y1="191.70" x2="338.50" y2="330.20" stroke="#ff2a2a" stroke-width="0.6"/>
<line x1="412.20" y1="191.70" x2="359.80" y2="363.50" stroke="#ff2a2a" stroke-width="0.6"/>
<line x1="412.20" y1="191.70" x2="330.80" y2="257.70" stroke="#ff2a2a" stroke-width="0.6"/>
<line x1="412.20" y1="191.70" x2="435.70" y2="231.00" stroke="#ff2a2a" stroke-width="0.6"/>
<line x1="357.70" y1="195.30" x2="342.90" y2="216.60" stroke="#ff2a2a" stroke-width="0.6"/>
<line x1="357.70" y1="195.30" x2="442.50" y2="260.00" stroke="#ff2a2a" stroke-width="0.6"/>
<line x1="357.70" y1="195.30" x2="435.70" y2="231.00" stroke="#ff2a2a" stroke-width="0.6"/>
<line x1="357.70" y1="195.30" x2="428.80" y2="356.80" stroke="#ff2a2a" stroke-width="0.6"/>
<line x1="357.70" y1="195.30" x2="421.00" y2="363.50" stroke="#ff2a2a" stroke-width="0.6"/>
<line x1="357.70" y1="195.30" x2="359.80" y2="363.50" stroke="#ff2a2a" stroke-width="0.6"/>
<line x1="357.70" y1="195.30" x2="412.20" y2="191.70" stroke="#ff2a2a" stroke-width="0.6"/>
<line x1="429.00" y1="208.20" x2="435.70" y2="231.00" stroke="#ff2a2a" stroke-width="0.6"/>
<line x1="429.00" y1="208.20" x2="327.90" y2="283.80" stroke="#ff2a2a" stroke-width="0.6"/>
<line x1="429.00" y1="208.20" x2="338.50" y2="330.20" stroke="#ff2a2a" stroke-width="0.6"/>
<line x1="429.00" y1="208.20" x2="359.80" y2="363.50" stroke="#ff2a2a" stroke-width="0.6"/>
<line x1="435.70" y1="231.00" x2="442.50" y2="260.00" stroke="#ff2a2a" stroke-width="0.6"/>
<line x1="435.70" y1="231.00" x2="338.50" y2="330.20" stroke="#ff2a2a" stroke-width="0.6"/>
<line x1="435.70" y1="231.00" x2="359.80" y2="363.50" stroke="#ff2a2a" stroke-width="0.6"/>
<line x1="435.70" y1="231.00" x2="330.80" y2="257.70" stroke="#ff2a2a" stroke-width="0.6"/>
<line x1="435.70" y1="231.00" x2="327.90" y2="283.80" stroke="#ff2a2a" stroke-width="0.6"/>
<line x1="435.70" y1="231.00" x2="421.00" y2="363.50" stroke="#ff2a2a" stroke-width="0.6"/>
<line x1="442.50" y1="260.00" x2="428.80" y2="356.80" stroke="#ff2a2a" stroke-width="0.6"/>
<line x1="442.50" y1="260.00" x2="421.00" y2="363.50" stroke="#ff2a2a" stroke-width="0.6"/>
<line x1="442.50" y1="260.00" x2="359.80" y2="363.50" stroke="#ff2a2a" stroke-width="0.6"/>
<line x1="442.50" y1="260.00" x2="338.50" y2="330.20" stroke="#ff2a2a" stroke-width="0.6"/>
<line x1="442.50" y1="260.00" x2="330.80" y2="257.70" stroke="#ff2a2a" stroke-width="0.6"/>
<line x1="442.50" y1="260.00" x2="327.90" y2="283.80" stroke="#ff2a2a" stroke-width="0.6"/>
<line x1="342.90" y1="216.60" x2="335.90" y2="235.50" stroke="#ff2a2a" stroke-width="0.6"/>
<line x1="342.90" y1="216.60" x2="428.80" y2="356.80" stroke="#ff2a2a" stroke-width="0.6"/>
<line x1="342.90" y1="216.60" x2="421.00" y2="363.50" stroke="#ff2a2a" stroke-width="0.6"/>
<line x1="335.90" y1="235.50" x2="330.80" y2="257.70" stroke="#ff2a2a" stroke-width="0.6"/>
<line x1="335.90" y1="235.50" x2="421.00" y2="363.50" stroke="#ff2a2a" stroke-width="0.6"/>
<line x1="335.90" y1="235.50" x2="428.80" y2="356.80" stroke="#ff2a2a" stroke-width="0.6"/>
<line x1="335.90" y1="235.50" x2="359.80" y2="363.50" stroke="#ff2a2a" stroke-width="0.6"/>
<line x1="330.80" y1="257.70" x2="327.90" y2="283.80" stroke="#ff2a2a" stroke-width="0.6"/>
<line x1="330.80" y1="257.70" x2="428.80" y2="356.80" stroke="#ff2a2a" stroke-width="0.6"/>
<line x1="330.80" y1="257.70" x2="359.80" y2="363.50" stroke="#ff2a2a" stroke-width="0.6"/>
<line x1="330.80" y1="257.70" x2="338.50" y2="330.20" stroke="#ff2a2a" stroke-width="0.6"/>
<line x1="327.90" y1="283.80" x2="338.50" y2="330.20" stroke="#ff2a2a" stroke-width="0.6"/>
<line x1="327.90" y1="283.80" x2="428.80" y2="356.80" stroke="#ff2a2a" stroke-width="0.6"/>
<line x1="327.90" y1="283.80" x2="421.00" y2="363.50" stroke="#ff2a2a" stroke-width="0.6"/>
<line x1="338.50" y1="330.20" x2="359.80" y2="363.50" stroke="#ff2a2a" stroke-width="0.6"/>
<line x1="338.50" y1="330.20" x2="428.80" y2="356.80" stroke="#ff2a2a" stroke-width="0.6"/>
<line x1="338.50" y1="330.20" x2="421.00" y2="363.50" stroke="#ff2a2a" stroke-width="0.6"/>
<line x1="359.80" y1="363.50" x2="421.00" y2="363.50" stroke="#ff2a2a" stroke-width="0.6"/>
<line x1="359.80" y1="363.50" x2="428.80" y2="356.80" stroke="#ff2a2a" stroke-width="0.6"/>
<line x1="421.00" y1="363.50" x2="428.80" y2="356.80" stroke="#ff2a2a" stroke-width="0.6"/>
<line x1="442.50" y1="260.00" x2="443.30" y2="296.00" stroke="#ff2a2a" stroke-width="0.6"/>
<line x1="443.30" y1="296.00" x2="428.80" y2="356.80" stroke="#ff2a2a" stroke-width="0.6"/>
<line x1="443.30" y1="296.00" x2="421.00" y2="363.50" stroke="#ff2a2a" stroke-width="0.6"/>
<line x1="437.30" y1="331.50" x2="428.80" y2="356.80" stroke="#ff2a2a" stroke-width="0.6"/>
<line x1="437.30" y1="331.50" x2="421.00" y2="363.50" stroke="#ff2a2a" stroke-width="0.6"/>
<line x1="437.30" y1="331.50" x2="335.90" y2="235.50" stroke="#ff2a2a" stroke-width="0.6"/>
<line x1="385.60" y1="189.30" x2="342.90" y2="216.60" stroke="#3a3a3a" stroke-width="0.7"/>
<line x1="385.60" y1="189.30" x2="335.90" y2="235.50" stroke="#3a3a3a" stroke-width="0.7"/>
<line x1="357.70" y1="195.30" x2="335.90" y2="235.50" stroke="#3a3a3a" stroke-width="0.7"/>
<line x1="357.70" y1="195.30" x2="338.50" y2="330.20" stroke="#3a3a3a" stroke-width="0.7"/>
<line x1="412.20" y1="191.70" x2="335.90" y2="235.50" stroke="#3a3a3a" stroke-width="0.7"/>
<line x1="412.20" y1="191.70" x2="428.80" y2="356.80" stroke="#3a3a3a" stroke-width="0.7"/>
<line x1="412.20" y1="191.70" x2="342.90" y2="216.60" stroke="#3a3a3a" stroke-width="0.7"/>
<line x1="335.90" y1="235.50" x2="429.00" y2="208.20" stroke="#3a3a3a" stroke-width="0.7"/>
<line x1="335.90" y1="235.50" x2="435.70" y2="231.00" stroke="#3a3a3a" stroke-width="0.7"/>
<line x1="335.90" y1="235.50" x2="442.50" y2="260.00" stroke="#3a3a3a" stroke-width="0.7"/>
<line x1="330.80" y1="257.70" x2="421.00" y2="363.50" stroke="#3a3a3a" stroke-width="0.7"/>
<text x="368.50" y="185.20" font-size="6.72" textLength="42.69" lengthAdjust="spacingAndGlyphs" fill="#222">VEGF Signaling</text>
<text x="418.20" y="193.80" font-size="6.72" textLength="42.69" lengthAdjust="spacingAndGlyphs" fill="#222">eNOS Signaling</text>
<text x="435.10" y="206.90" font-size="6.72" textLength="46.91" lengthAdjust="spacingAndGlyphs" fill="#222">Cellular Effects of</text>
<text x="435.10" y="214.60" font-size="6.72" textLength="47.24" lengthAdjust="spacingAndGlyphs" fill="#222">Sildenafil (Viagra)</text>
<text x="441.60" y="226.10" font-size="6.72" textLength="57.36" lengthAdjust="spacingAndGlyphs" fill="#222">Nitric Oxide Signaling</text>
<text x="441.60" y="233.50" font-size="6.72" textLength="56.36" lengthAdjust="spacingAndGlyphs" fill="#222">in the Cardiovascular</text>
<text x="441.60" y="240.80" font-size="6.72" textLength="20.00" lengthAdjust="spacingAndGlyphs" fill="#222">System</text>
<text x="449.00" y="251.50" font-size="6.72" textLength="58.70" lengthAdjust="spacingAndGlyphs" fill="#222">Role of Macrophages,</text>
<text x="449.00" y="258.80" font-size="6.72" textLength="35.01" lengthAdjust="spacingAndGlyphs" fill="#222">Fibroblasts &amp;</text>
<text x="449.00" y="266.50" font-size="6.72" textLength="51.03" lengthAdjust="spacingAndGlyphs" fill="#222">Endothelial Cells in</text>
<text x="449.00" y="273.90" font-size="6.72" textLength="53.69" lengthAdjust="spacingAndGlyphs" fill="#222">Rheumatoid arthritis</text>
<text x="448.00" y="292.70" font-size="6.72" textLength="46.35" lengthAdjust="spacingAndGlyphs" fill="#222">Hepatic Fibrosis /</text>
<text x="448.00" y="300.20" font-size="6.72" textLength="42.02" lengthAdjust="spacingAndGlyphs" fill="#222">Hepatic Stellate</text>
<text x="448.00" y="307.20" font-size="6.72" textLength="37.68" lengthAdjust="spacingAndGlyphs" fill="#222">Cell Activation</text>
<text x="443.00" y="322.90" font-size="6.72" textLength="54.02" lengthAdjust="spacingAndGlyphs" fill="#222">Role of Osteoblasts,</text>
<text x="443.00" y="330.90" font-size="6.72" textLength="37.01" lengthAdjust="spacingAndGlyphs" fill="#222">Osteoclasts &amp;</text>
<text x="443.00" y="338.90" font-size="6.72" textLength="43.35" lengthAdjust="spacingAndGlyphs" fill="#222">Chondrocytes in</text>
<text x="443.00" y="346.40" font-size="6.72" textLength="53.69" lengthAdjust="spacingAndGlyphs" fill="#222">Rheumatoid arthritis</text>
<text x="435.00" y="360.20" font-size="6.72" textLength="72.05" lengthAdjust="spacingAndGlyphs" fill="#222">Axonal Guidance Signaling</text>
<text x="389.00" y="373.40" font-size="6.72" textLength="71.04" lengthAdjust="spacingAndGlyphs" fill="#222">Leptin Signaling in Obesity</text>
<text x="335.00" y="373.40" font-size="6.72" textLength="43.91" lengthAdjust="spacingAndGlyphs" fill="#222">mTOR Signaling</text>
<text x="340.50" y="353.90" font-size="6.72" text-anchor="end" textLength="77.71" lengthAdjust="spacingAndGlyphs" fill="#222">Regulation of eIF4 &amp; p70S6K</text>
<text x="340.50" y="361.70" font-size="6.72" text-anchor="end" textLength="24.68" lengthAdjust="spacingAndGlyphs" fill="#222">Signaling</text>
<text x="332.00" y="332.20" font-size="6.72" text-anchor="end" textLength="47.70" lengthAdjust="spacingAndGlyphs" fill="#222">p70S6K Signaling</text>
<text x="326.30" y="303.90" font-size="6.72" text-anchor="end" textLength="63.03" lengthAdjust="spacingAndGlyphs" fill="#222">Role of JAK1 &amp; JAK3 in</text>
<text x="326.30" y="311.70" font-size="6.72" text-anchor="end" textLength="57.36" lengthAdjust="spacingAndGlyphs" fill="#222">γc Cytokine Signaling</text>
<text x="322.30" y="282.00" font-size="6.72" text-anchor="end" textLength="43.35" lengthAdjust="spacingAndGlyphs" fill="#222">Ephrin Receptor</text>
<text x="322.30" y="289.70" font-size="6.72" text-anchor="end" textLength="24.68" lengthAdjust="spacingAndGlyphs" fill="#222">Signaling</text>
<text x="323.80" y="260.90" font-size="6.72" text-anchor="end" textLength="41.68" lengthAdjust="spacingAndGlyphs" fill="#222">IGF-1 Signaling</text>
<text x="328.80" y="235.40" font-size="6.72" text-anchor="end" textLength="68.04" lengthAdjust="spacingAndGlyphs" fill="#222">Adrenomedullin Signaling</text>
<text x="328.80" y="242.90" font-size="6.72" text-anchor="end" textLength="23.01" lengthAdjust="spacingAndGlyphs" fill="#222">Pathway</text>
<text x="336.80" y="219.60" font-size="6.72" text-anchor="end" textLength="39.02" lengthAdjust="spacingAndGlyphs" fill="#222">EIF2 Signaling</text>
<text x="350.50" y="194.10" font-size="6.72" text-anchor="end" textLength="73.37" lengthAdjust="spacingAndGlyphs" fill="#222">Melanocyte Development &amp;</text>
<text x="349.60" y="202.10" font-size="6.72" text-anchor="end" textLength="61.37" lengthAdjust="spacingAndGlyphs" fill="#222">Pigmentation Signaling</text>
<text x="129.30" y="440.60" font-size="6.89" text-anchor="end" textLength="44.65" lengthAdjust="spacingAndGlyphs" fill="#222">H. DNA REPAIR</text>
<rect x="173.50" y="435.15" width="31.07" height="6.50" fill="#a8002a"/>
<line x1="131.80" y1="438.40" x2="134.70" y2="438.40" stroke="#222" stroke-width="0.7"/>
<text x="129.30" y="451.44" font-size="6.89" text-anchor="end" textLength="62.88" lengthAdjust="spacingAndGlyphs" fill="#222">H. UV RESPONSE DN</text>
<rect x="173.50" y="445.99" width="31.07" height="6.50" fill="#a8002a"/>
<line x1="131.80" y1="449.24" x2="134.70" y2="449.24" stroke="#222" stroke-width="0.7"/>
<text x="129.30" y="462.28" font-size="6.89" text-anchor="end" textLength="63.21" lengthAdjust="spacingAndGlyphs" fill="#222">H. G2M CHECKPOINT</text>
<rect x="173.50" y="456.83" width="32.23" height="6.50" fill="#a8002a"/>
<line x1="131.80" y1="460.08" x2="134.70" y2="460.08" stroke="#222" stroke-width="0.7"/>
<text x="129.30" y="473.12" font-size="6.89" text-anchor="end" textLength="49.32" lengthAdjust="spacingAndGlyphs" fill="#222">H. E2F TARGETS</text>
<rect x="173.50" y="467.67" width="37.83" height="6.50" fill="#a8002a"/>
<line x1="131.80" y1="470.92" x2="134.70" y2="470.92" stroke="#222" stroke-width="0.7"/>
<text x="129.30" y="483.96" font-size="6.89" text-anchor="end" textLength="60.94" lengthAdjust="spacingAndGlyphs" fill="#222">H. MYC TARGETS V1</text>
<rect x="173.50" y="478.51" width="48.25" height="6.50" fill="#a8002a"/>
<line x1="131.80" y1="481.76" x2="134.70" y2="481.76" stroke="#222" stroke-width="0.7"/>
<text x="129.30" y="494.80" font-size="6.89" text-anchor="end" textLength="48.99" lengthAdjust="spacingAndGlyphs" fill="#222">K. CELL CYCLES</text>
<rect x="173.50" y="489.35" width="34.16" height="6.50" fill="#a8002a"/>
<line x1="131.80" y1="492.60" x2="134.70" y2="492.60" stroke="#222" stroke-width="0.7"/>
<text x="129.30" y="505.64" font-size="6.89" text-anchor="end" textLength="70.40" lengthAdjust="spacingAndGlyphs" fill="#222">H. KRAS SIGNALING DN</text>
<rect x="142.23" y="500.19" width="31.27" height="6.50" fill="#a8002a"/>
<line x1="131.80" y1="503.44" x2="134.70" y2="503.44" stroke="#222" stroke-width="0.7"/>
<line x1="134.70" y1="430.70" x2="134.70" y2="510.50" stroke="#111" stroke-width="0.9"/>
<line x1="134.30" y1="510.10" x2="233.50" y2="510.10" stroke="#111" stroke-width="0.9"/>
<line x1="173.50" y1="434.60" x2="173.50" y2="510.10" stroke="#111" stroke-width="0.8"/>
<line x1="134.70" y1="510.10" x2="134.70" y2="512.40" stroke="#111" stroke-width="0.7"/>
<text x="134.70" y="522.60" font-size="6.50" text-anchor="middle" textLength="5.16" lengthAdjust="spacingAndGlyphs" fill="#222">-2</text>
<line x1="154.00" y1="510.10" x2="154.00" y2="512.40" stroke="#111" stroke-width="0.7"/>
<text x="154.00" y="522.60" font-size="6.50" text-anchor="middle" textLength="5.16" lengthAdjust="spacingAndGlyphs" fill="#222">-1</text>
<line x1="173.30" y1="510.10" x2="173.30" y2="512.40" stroke="#111" stroke-width="0.7"/>
<text x="173.30" y="522.60" font-size="6.50" text-anchor="middle" textLength="3.23" lengthAdjust="spacingAndGlyphs" fill="#222">0</text>
<line x1="192.60" y1="510.10" x2="192.60" y2="512.40" stroke="#111" stroke-width="0.7"/>
<text x="192.60" y="522.60" font-size="6.50" text-anchor="middle" textLength="3.23" lengthAdjust="spacingAndGlyphs" fill="#222">1</text>
<line x1="211.90" y1="510.10" x2="211.90" y2="512.40" stroke="#111" stroke-width="0.7"/>
<text x="211.90" y="522.60" font-size="6.50" text-anchor="middle" textLength="3.23" lengthAdjust="spacingAndGlyphs" fill="#222">2</text>
<line x1="231.20" y1="510.10" x2="231.20" y2="512.40" stroke="#111" stroke-width="0.7"/>
<text x="231.20" y="522.60" font-size="6.50" text-anchor="middle" textLength="3.23" lengthAdjust="spacingAndGlyphs" fill="#222">3</text>
<text x="144.60" y="426.90" font-size="6.72" textLength="19.20" lengthAdjust="spacingAndGlyphs" fill="#222">Control</text>
<text x="195.80" y="426.90" font-size="6.72" textLength="12.20" lengthAdjust="spacingAndGlyphs" fill="#222">AML</text>
<text x="139.30" y="534.00" font-size="8.30" textLength="90.70" lengthAdjust="spacingAndGlyphs" fill="#1a1a1a" stroke="#1a1a1a" stroke-width="0.3">Normalized enrichment score (NES)</text>
<text x="128.70" y="563.60" font-size="6.94" text-anchor="end" textLength="104.61" lengthAdjust="spacingAndGlyphs" fill="#222">GO REGULATION OF OSTEOBLAST</text>
<text x="128.70" y="571.40" font-size="6.94" text-anchor="end" textLength="54.99" lengthAdjust="spacingAndGlyphs" fill="#222">DIFFERENTIATION</text>
<text x="128.70" y="578.40" font-size="6.94" text-anchor="end" textLength="86.13" lengthAdjust="spacingAndGlyphs" fill="#222">GO BONE MORPHOGENESIS</text>
<text x="128.70" y="589.40" font-size="6.94" text-anchor="end" textLength="58.90" lengthAdjust="spacingAndGlyphs" fill="#222">GO BONE GROWTH</text>
<text x="128.70" y="600.70" font-size="6.94" text-anchor="end" textLength="82.22" lengthAdjust="spacingAndGlyphs" fill="#222">GO BONE MINERALIZATION</text>
<text x="128.70" y="611.20" font-size="6.94" text-anchor="end" textLength="121.96" lengthAdjust="spacingAndGlyphs" fill="#222">GO BIOMINERAL TISSUE DEVELOPMENT</text>
<rect x="151.07" y="562.15" width="33.23" height="6.50" fill="#a8002a"/>
<line x1="131.80" y1="565.40" x2="134.70" y2="565.40" stroke="#222" stroke-width="0.7"/>
<rect x="150.32" y="573.15" width="33.98" height="6.50" fill="#a8002a"/>
<line x1="131.80" y1="576.40" x2="134.70" y2="576.40" stroke="#222" stroke-width="0.7"/>
<rect x="145.61" y="584.15" width="38.69" height="6.50" fill="#a8002a"/>
<line x1="131.80" y1="587.40" x2="134.70" y2="587.40" stroke="#222" stroke-width="0.7"/>
<rect x="138.67" y="595.15" width="45.63" height="6.50" fill="#a8002a"/>
<line x1="131.80" y1="598.40" x2="134.70" y2="598.40" stroke="#222" stroke-width="0.7"/>
<rect x="138.67" y="606.15" width="45.63" height="6.50" fill="#a8002a"/>
<line x1="131.80" y1="609.40" x2="134.70" y2="609.40" stroke="#222" stroke-width="0.7"/>
<line x1="134.70" y1="558.10" x2="134.70" y2="617.80" stroke="#111" stroke-width="0.9"/>
<line x1="134.30" y1="617.40" x2="235.80" y2="617.40" stroke="#111" stroke-width="0.9"/>
<line x1="184.30" y1="558.00" x2="184.30" y2="617.40" stroke="#111" stroke-width="0.8"/>
<line x1="134.70" y1="617.40" x2="134.70" y2="619.70" stroke="#111" stroke-width="0.7"/>
<text x="134.70" y="629.00" font-size="6.50" text-anchor="middle" textLength="5.16" lengthAdjust="spacingAndGlyphs" fill="#222">-2</text>
<line x1="159.40" y1="617.40" x2="159.40" y2="619.70" stroke="#111" stroke-width="0.7"/>
<text x="159.40" y="629.00" font-size="6.50" text-anchor="middle" textLength="5.16" lengthAdjust="spacingAndGlyphs" fill="#222">-1</text>
<line x1="184.10" y1="617.40" x2="184.10" y2="619.70" stroke="#111" stroke-width="0.7"/>
<text x="184.10" y="629.00" font-size="6.50" text-anchor="middle" textLength="3.23" lengthAdjust="spacingAndGlyphs" fill="#222">0</text>
<line x1="208.80" y1="617.40" x2="208.80" y2="619.70" stroke="#111" stroke-width="0.7"/>
<text x="208.80" y="629.00" font-size="6.50" text-anchor="middle" textLength="3.23" lengthAdjust="spacingAndGlyphs" fill="#222">1</text>
<line x1="233.50" y1="617.40" x2="233.50" y2="619.70" stroke="#111" stroke-width="0.7"/>
<text x="233.50" y="629.00" font-size="6.50" text-anchor="middle" textLength="3.23" lengthAdjust="spacingAndGlyphs" fill="#222">2</text>
<text x="149.00" y="553.40" font-size="6.72" textLength="20.20" lengthAdjust="spacingAndGlyphs" fill="#222">Control</text>
<text x="202.00" y="553.40" font-size="6.72" textLength="13.00" lengthAdjust="spacingAndGlyphs" fill="#222">AML</text>
<text x="140.00" y="640.80" font-size="8.30" textLength="91.20" lengthAdjust="spacingAndGlyphs" fill="#1a1a1a" stroke="#1a1a1a" stroke-width="0.3">Normalized enrichment score (NES)</text>
<rect x="253.50" y="437.30" width="28.19" height="14.16" fill="#8a0000"/>
<rect x="281.64" y="437.30" width="28.19" height="14.16" fill="#780000"/>
<rect x="309.78" y="437.30" width="28.19" height="14.16" fill="#ff0d0d"/>
<rect x="337.92" y="437.30" width="28.19" height="14.16" fill="#ff0a0a"/>
<rect x="366.06" y="437.30" width="28.19" height="14.16" fill="#ff0a0a"/>
<rect x="253.50" y="451.41" width="28.19" height="14.16" fill="#ff0a0a"/>
<rect x="281.64" y="451.41" width="28.19" height="14.16" fill="#ff0505"/>
<rect x="309.78" y="451.41" width="28.19" height="14.16" fill="#b00000"/>
<rect x="337.92" y="451.41" width="28.19" height="14.16" fill="#a80000"/>
<rect x="366.06" y="451.41" width="28.19" height="14.16" fill="#0a0acc"/>
<rect x="253.50" y="465.52" width="28.19" height="14.16" fill="#2a0000"/>
<rect x="281.64" y="465.52" width="28.19" height="14.16" fill="#6a0000"/>
<rect x="309.78" y="465.52" width="28.19" height="14.16" fill="#cc0505"/>
<rect x="337.92" y="465.52" width="28.19" height="14.16" fill="#ff1010"/>
<rect x="366.06" y="465.52" width="28.19" height="14.16" fill="#0a0ac0"/>
<rect x="253.50" y="479.63" width="28.19" height="14.16" fill="#000090"/>
<rect x="281.64" y="479.63" width="28.19" height="14.16" fill="#600000"/>
<rect x="309.78" y="479.63" width="28.19" height="14.16" fill="#1010ff"/>
<rect x="337.92" y="479.63" width="28.19" height="14.16" fill="#1010ff"/>
<rect x="366.06" y="479.63" width="28.19" height="14.16" fill="#0000b0"/>
<rect x="253.50" y="493.74" width="28.19" height="14.16" fill="#140000"/>
<rect x="281.64" y="493.74" width="28.19" height="14.16" fill="#1010ff"/>
<rect x="309.78" y="493.74" width="28.19" height="14.16" fill="#000090"/>
<rect x="337.92" y="493.74" width="28.19" height="14.16" fill="#1010ff"/>
<rect x="366.06" y="493.74" width="28.19" height="14.16" fill="#000070"/>
<rect x="253.50" y="507.85" width="28.19" height="14.16" fill="#000070"/>
<rect x="281.64" y="507.85" width="28.19" height="14.16" fill="#000038"/>
<rect x="309.78" y="507.85" width="28.19" height="14.16" fill="#1a0000"/>
<rect x="337.92" y="507.85" width="28.19" height="14.16" fill="#100000"/>
<rect x="366.06" y="507.85" width="28.19" height="14.16" fill="#b00000"/>
<rect x="253.50" y="521.96" width="28.19" height="14.16" fill="#00008c"/>
<rect x="281.64" y="521.96" width="28.19" height="14.16" fill="#140000"/>
<rect x="309.78" y="521.96" width="28.19" height="14.16" fill="#480000"/>
<rect x="337.92" y="521.96" width="28.19" height="14.16" fill="#8c0000"/>
<rect x="366.06" y="521.96" width="28.19" height="14.16" fill="#0000d0"/>
<rect x="253.50" y="536.07" width="28.19" height="14.16" fill="#0a0aff"/>
<rect x="281.64" y="536.07" width="28.19" height="14.16" fill="#0000c0"/>
<rect x="309.78" y="536.07" width="28.19" height="14.16" fill="#960000"/>
<rect x="337.92" y="536.07" width="28.19" height="14.16" fill="#0000d0"/>
<rect x="366.06" y="536.07" width="28.19" height="14.16" fill="#0000a8"/>
<rect x="253.50" y="550.18" width="28.19" height="14.16" fill="#0a0aff"/>
<rect x="281.64" y="550.18" width="28.19" height="14.16" fill="#0000c8"/>
<rect x="309.78" y="550.18" width="28.19" height="14.16" fill="#000005"/>
<rect x="337.92" y="550.18" width="28.19" height="14.16" fill="#200000"/>
<rect x="366.06" y="550.18" width="28.19" height="14.16" fill="#140000"/>
<rect x="253.50" y="564.29" width="28.19" height="14.16" fill="#ff0a0a"/>
<rect x="281.64" y="564.29" width="28.19" height="14.16" fill="#00002a"/>
<rect x="309.78" y="564.29" width="28.19" height="14.16" fill="#00002a"/>
<rect x="337.92" y="564.29" width="28.19" height="14.16" fill="#500000"/>
<rect x="366.06" y="564.29" width="28.19" height="14.16" fill="#0a0aff"/>
<rect x="253.50" y="578.40" width="28.19" height="14.16" fill="#c00000"/>
<rect x="281.64" y="578.40" width="28.19" height="14.16" fill="#400000"/>
<rect x="309.78" y="578.40" width="28.19" height="14.16" fill="#4a0000"/>
<rect x="337.92" y="578.40" width="28.19" height="14.16" fill="#e00000"/>
<rect x="366.06" y="578.40" width="28.19" height="14.16" fill="#0000c8"/>
<line x1="253.50" y1="437.30" x2="253.50" y2="592.51" stroke="#111" stroke-width="0.5"/>
<line x1="281.64" y1="437.30" x2="281.64" y2="592.51" stroke="#111" stroke-width="0.5"/>
<line x1="309.78" y1="437.30" x2="309.78" y2="592.51" stroke="#111" stroke-width="0.5"/>
<line x1="337.92" y1="437.30" x2="337.92" y2="592.51" stroke="#111" stroke-width="0.5"/>
<line x1="366.06" y1="437.30" x2="366.06" y2="592.51" stroke="#111" stroke-width="0.5"/>
<line x1="394.20" y1="437.30" x2="394.20" y2="592.51" stroke="#111" stroke-width="0.5"/>
<line x1="253.50" y1="437.30" x2="394.20" y2="437.30" stroke="#111" stroke-width="0.5"/>
<line x1="253.50" y1="451.41" x2="394.20" y2="451.41" stroke="#111" stroke-width="0.5"/>
<line x1="253.50" y1="465.52" x2="394.20" y2="465.52" stroke="#111" stroke-width="0.5"/>
<line x1="253.50" y1="479.63" x2="394.20" y2="479.63" stroke="#111" stroke-width="0.5"/>
<line x1="253.50" y1="493.74" x2="394.20" y2="493.74" stroke="#111" stroke-width="0.5"/>
<line x1="253.50" y1="507.85" x2="394.20" y2="507.85" stroke="#111" stroke-width="0.5"/>
<line x1="253.50" y1="521.96" x2="394.20" y2="521.96" stroke="#111" stroke-width="0.5"/>
<line x1="253.50" y1="536.07" x2="394.20" y2="536.07" stroke="#111" stroke-width="0.5"/>
<line x1="253.50" y1="550.18" x2="394.20" y2="550.18" stroke="#111" stroke-width="0.5"/>
<line x1="253.50" y1="564.29" x2="394.20" y2="564.29" stroke="#111" stroke-width="0.5"/>
<line x1="253.50" y1="578.40" x2="394.20" y2="578.40" stroke="#111" stroke-width="0.5"/>
<line x1="253.50" y1="592.51" x2="394.20" y2="592.51" stroke="#111" stroke-width="0.5"/>
<text x="267.70" y="433.60" font-size="7.06" text-anchor="middle" textLength="18.20" lengthAdjust="spacingAndGlyphs" font-style="italic" fill="#222">KITLG</text>
<text x="295.50" y="433.60" font-size="7.06" text-anchor="middle" textLength="23.81" lengthAdjust="spacingAndGlyphs" font-style="italic" fill="#222">CXCL12</text>
<text x="323.70" y="433.60" font-size="7.06" text-anchor="middle" textLength="25.21" lengthAdjust="spacingAndGlyphs" font-style="italic" fill="#222">ANGPT1</text>
<text x="351.20" y="433.60" font-size="7.06" text-anchor="middle" textLength="21.71" lengthAdjust="spacingAndGlyphs" font-style="italic" fill="#222">VCAM1</text>
<text x="379.80" y="433.60" font-size="7.06" text-anchor="middle" textLength="16.11" lengthAdjust="spacingAndGlyphs" font-style="italic" fill="#222">SPP1</text>
<circle cx="295.1" cy="422.6" r="0.75" fill="#111"/>
<circle cx="323.5" cy="422.6" r="0.75" fill="#111"/>
<circle cx="351.0" cy="422.6" r="0.75" fill="#111"/>
<line x1="249.30" y1="437.20" x2="249.30" y2="592.40" stroke="#555" stroke-width="0.6"/>
<line x1="245.20" y1="437.20" x2="253.40" y2="437.20" stroke="#555" stroke-width="0.6"/>
<line x1="245.20" y1="479.40" x2="253.40" y2="479.40" stroke="#555" stroke-width="0.6"/>
<line x1="245.20" y1="592.40" x2="253.40" y2="592.40" stroke="#555" stroke-width="0.6"/>
<text x="0" y="0" font-size="6.1" fill="#222" text-anchor="middle" transform="translate(245.1,458.5) rotate(-90)">Control</text>
<text x="0" y="0" font-size="6.1" fill="#222" text-anchor="middle" transform="translate(245.1,536.0) rotate(-90)">AML</text>
<rect x="281.5" y="609.0" width="82.2" height="7.0" fill="url(#gCBh)" stroke="#333" stroke-width="0.35"/>
<text x="287.10" y="603.90" font-size="8.20" textLength="70.90" lengthAdjust="spacingAndGlyphs" fill="#1a1a1a" stroke="#1a1a1a" stroke-width="0.15">Relative expression to mean</text>
<text x="281.30" y="624.00" font-size="6.20" text-anchor="middle" fill="#222">0.5</text>
<text x="322.60" y="625.00" font-size="6.20" text-anchor="middle" fill="#222">1.0</text>
<text x="363.60" y="624.00" font-size="6.20" text-anchor="middle" fill="#222">1.5</text>
<rect x="395.5" y="424.5" width="117.00" height="168.00" fill="#fff" stroke="#444" stroke-width="0.55"/>
<line x1="435.50" y1="424.50" x2="435.50" y2="592.50" stroke="#444" stroke-width="0.55"/>
<line x1="478.25" y1="424.50" x2="478.25" y2="592.50" stroke="#444" stroke-width="0.55"/>
<line x1="395.50" y1="437.50" x2="512.50" y2="437.50" stroke="#444" stroke-width="0.55"/>
<line x1="395.50" y1="451.60" x2="512.50" y2="451.60" stroke="#444" stroke-width="0.55"/>
<line x1="395.50" y1="465.70" x2="512.50" y2="465.70" stroke="#444" stroke-width="0.55"/>
<line x1="395.50" y1="479.80" x2="512.50" y2="479.80" stroke="#444" stroke-width="0.55"/>
<line x1="395.50" y1="493.90" x2="512.50" y2="493.90" stroke="#444" stroke-width="0.55"/>
<line x1="395.50" y1="508.00" x2="512.50" y2="508.00" stroke="#444" stroke-width="0.55"/>
<line x1="395.50" y1="522.10" x2="512.50" y2="522.10" stroke="#444" stroke-width="0.55"/>
<line x1="395.50" y1="536.20" x2="512.50" y2="536.20" stroke="#444" stroke-width="0.55"/>
<line x1="395.50" y1="550.30" x2="512.50" y2="550.30" stroke="#444" stroke-width="0.55"/>
<line x1="395.50" y1="564.40" x2="512.50" y2="564.40" stroke="#444" stroke-width="0.55"/>
<line x1="395.50" y1="578.50" x2="512.50" y2="578.50" stroke="#444" stroke-width="0.55"/>
<text x="403.00" y="434.20" font-size="6.61" textLength="25.70" lengthAdjust="spacingAndGlyphs" fill="#222">ANC (/nl)</text>
<text x="444.50" y="434.20" font-size="6.61" textLength="24.20" lengthAdjust="spacingAndGlyphs" fill="#222">Hb (g/dl)</text>
<text x="485.80" y="434.20" font-size="6.61" textLength="19.30" lengthAdjust="spacingAndGlyphs" fill="#222">Plt (/nl)</text>
<text x="403.00" y="447.60" font-size="6.61" textLength="11.48" lengthAdjust="spacingAndGlyphs" fill="#222">5.85</text>
<text x="443.00" y="447.60" font-size="6.61" textLength="11.48" lengthAdjust="spacingAndGlyphs" fill="#222">14.6</text>
<text x="485.80" y="447.60" font-size="6.61" textLength="9.84" lengthAdjust="spacingAndGlyphs" fill="#222">345</text>
<text x="403.00" y="461.70" font-size="6.61" textLength="14.76" lengthAdjust="spacingAndGlyphs" fill="#222">17.48</text>
<text x="443.00" y="461.70" font-size="6.61" textLength="11.48" lengthAdjust="spacingAndGlyphs" fill="#222">14.6</text>
<text x="485.80" y="461.70" font-size="6.61" textLength="9.84" lengthAdjust="spacingAndGlyphs" fill="#222">409</text>
<text x="403.00" y="475.80" font-size="6.61" textLength="11.48" lengthAdjust="spacingAndGlyphs" fill="#222">3.61</text>
<text x="443.00" y="475.80" font-size="6.61" textLength="11.48" lengthAdjust="spacingAndGlyphs" fill="#222">10.2</text>
<text x="485.80" y="475.80" font-size="6.61" textLength="9.84" lengthAdjust="spacingAndGlyphs" fill="#222">376</text>
<text x="403.00" y="489.90" font-size="6.61" textLength="3.28" lengthAdjust="spacingAndGlyphs" fill="#222">0</text>
<text x="443.00" y="489.90" font-size="6.61" textLength="11.04" lengthAdjust="spacingAndGlyphs" fill="#222">11.1</text>
<text x="485.80" y="489.90" font-size="6.61" textLength="6.56" lengthAdjust="spacingAndGlyphs" fill="#222">77</text>
<text x="403.00" y="504.00" font-size="6.61" textLength="3.28" lengthAdjust="spacingAndGlyphs" fill="#222">0</text>
<text x="443.00" y="504.00" font-size="6.61" textLength="8.20" lengthAdjust="spacingAndGlyphs" fill="#222">7.3</text>
<text x="485.80" y="504.00" font-size="6.61" textLength="6.56" lengthAdjust="spacingAndGlyphs" fill="#222">31</text>
<text x="403.00" y="518.10" font-size="6.61" textLength="3.28" lengthAdjust="spacingAndGlyphs" fill="#222">0</text>
<text x="443.00" y="518.10" font-size="6.61" textLength="11.04" lengthAdjust="spacingAndGlyphs" fill="#222">11.9</text>
<text x="485.80" y="518.10" font-size="6.61" textLength="6.56" lengthAdjust="spacingAndGlyphs" fill="#222">74</text>
<text x="403.00" y="532.20" font-size="6.61" textLength="11.48" lengthAdjust="spacingAndGlyphs" fill="#222">0.02</text>
<text x="443.00" y="532.20" font-size="6.61" textLength="6.56" lengthAdjust="spacingAndGlyphs" fill="#222">10</text>
<text x="485.80" y="532.20" font-size="6.61" textLength="6.56" lengthAdjust="spacingAndGlyphs" fill="#222">19</text>
<text x="403.00" y="546.30" font-size="6.61" textLength="11.48" lengthAdjust="spacingAndGlyphs" fill="#222">0.03</text>
<text x="443.00" y="546.30" font-size="6.61" textLength="8.20" lengthAdjust="spacingAndGlyphs" fill="#222">7.8</text>
<text x="485.80" y="546.30" font-size="6.61" textLength="3.28" lengthAdjust="spacingAndGlyphs" fill="#222">7</text>
<text x="403.00" y="560.40" font-size="6.61" textLength="3.28" lengthAdjust="spacingAndGlyphs" fill="#222">0</text>
<text x="443.00" y="560.40" font-size="6.61" textLength="3.28" lengthAdjust="spacingAndGlyphs" fill="#222">8</text>
<text x="485.80" y="560.40" font-size="6.61" textLength="6.56" lengthAdjust="spacingAndGlyphs" fill="#222">89</text>
<text x="403.00" y="574.50" font-size="6.61" textLength="11.48" lengthAdjust="spacingAndGlyphs" fill="#222">0.24</text>
<text x="443.00" y="574.50" font-size="6.61" textLength="8.20" lengthAdjust="spacingAndGlyphs" fill="#222">8.4</text>
<text x="485.80" y="574.50" font-size="6.61" textLength="6.56" lengthAdjust="spacingAndGlyphs" fill="#222">46</text>
<text x="403.00" y="588.60" font-size="6.61" textLength="11.48" lengthAdjust="spacingAndGlyphs" fill="#222">5.88</text>
<text x="443.00" y="588.60" font-size="6.61" textLength="11.48" lengthAdjust="spacingAndGlyphs" fill="#222">14.6</text>
<text x="485.80" y="588.60" font-size="6.61" textLength="9.84" lengthAdjust="spacingAndGlyphs" fill="#222">174</text>
</svg>
<div class="frame"></div>
</body></html>
